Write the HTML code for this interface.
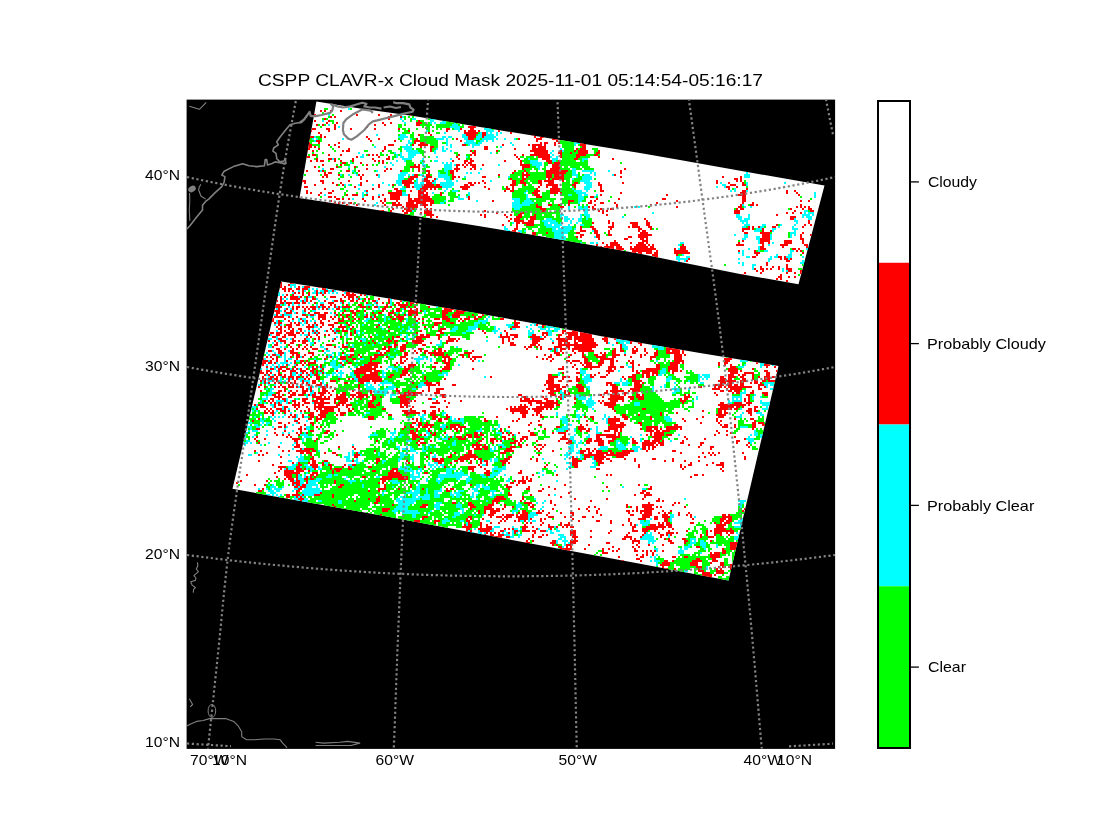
<!DOCTYPE html>
<html><head><meta charset="utf-8"><style>html,body{margin:0;padding:0;background:#fff;overflow:hidden}</style></head><body><svg width="1120" height="840" viewBox="0 0 1120 840" style="display:block">
<rect width="1120" height="840" fill="#fff"/>
<rect x="186.6" y="99.6" width="648.5" height="649.3" fill="#000"/>
<defs><clipPath id="ax"><rect x="187" y="100" width="648" height="648.5"/></clipPath><clipPath id="sw"><polygon points="316.4,101.5 360,108.5 412,115.7 480,127.1 560,140 640,152.9 680,160 750,172.5 824.5,185.5 798.5,284.3 740,274 680,262 640,253.8 560,239.5 480,226.2 400,213.5 299.5,198"/><polygon points="281.3,281.5 380,296.9 470,312 560,328 600,336.1 700,353 778.5,366 728.5,580.5 640,563.8 520,541.5 380,515.2 232.5,488.8"/></clipPath></defs>
<g clip-path="url(#sw)"><rect x="224" y="96" width="608" height="496" fill="#fff"/>
<path fill="#f00" d="M320 110h2v2h-2zM324 110h2v2h-2zM330 110h2v2h-2zM340 110h2v2h-2zM314 114h2v2h-2zM356 114h2v2h-2zM378 114h2v2h-2zM390 114h2v2h-2zM410 114h2v2h-2zM330 116h2v2h-2zM334 116h2v2h-2zM388 116h2v2h-2zM400 116h2v2h-2zM324 118h2v2h-2zM388 118h2v2h-2zM314 120h2v2h-2zM328 120h2v2h-2zM418 120h2v2h-2zM326 122h2v2h-2zM336 122h2v2h-2zM382 122h2v2h-2zM390 122h2v2h-2zM416 122h6v2h-6zM316 124h2v2h-2zM322 124h2v2h-2zM334 124h2v2h-2zM374 124h2v2h-2zM384 124h2v2h-2zM416 124h4v2h-4zM334 126h2v2h-2zM366 126h2v2h-2zM468 126h8v2h-8zM312 128h4v2h-4zM326 128h4v2h-4zM334 128h2v2h-2zM350 128h2v2h-2zM374 128h2v2h-2zM398 128h2v2h-2zM446 128h4v2h-4zM460 128h2v2h-2zM470 128h4v2h-4zM310 130h2v2h-2zM328 130h2v2h-2zM408 130h2v2h-2zM446 130h2v2h-2zM464 130h2v2h-2zM468 130h8v2h-8zM478 130h2v2h-2zM498 130h2v2h-2zM318 132h2v2h-2zM428 132h2v2h-2zM464 132h14v2h-14zM482 132h4v2h-4zM510 132h2v2h-2zM320 134h2v2h-2zM418 134h2v2h-2zM430 134h2v2h-2zM466 134h10v2h-10zM482 134h4v2h-4zM532 134h2v2h-2zM308 136h6v2h-6zM320 136h2v2h-2zM324 136h2v2h-2zM366 136h2v2h-2zM468 136h8v2h-8zM482 136h2v2h-2zM534 136h2v2h-2zM540 136h4v2h-4zM308 138h2v2h-2zM368 138h2v2h-2zM378 138h2v2h-2zM416 138h2v2h-2zM456 138h2v2h-2zM468 138h6v2h-6zM518 138h2v2h-2zM536 138h6v2h-6zM552 138h6v2h-6zM316 140h4v2h-4zM370 140h2v2h-2zM394 140h2v2h-2zM414 140h6v2h-6zM460 140h2v2h-2zM536 140h2v2h-2zM556 140h2v2h-2zM308 142h2v2h-2zM318 142h2v2h-2zM338 142h2v2h-2zM414 142h2v2h-2zM420 142h6v2h-6zM540 142h2v2h-2zM544 142h4v2h-4zM554 142h2v2h-2zM558 142h2v2h-2zM580 142h4v2h-4zM308 144h4v2h-4zM328 144h2v2h-2zM334 144h2v2h-2zM388 144h6v2h-6zM412 144h2v2h-2zM418 144h10v2h-10zM462 144h4v2h-4zM502 144h2v2h-2zM528 144h2v2h-2zM532 144h10v2h-10zM544 144h2v2h-2zM554 144h2v2h-2zM580 144h6v2h-6zM308 146h4v2h-4zM314 146h2v2h-2zM338 146h2v2h-2zM384 146h2v2h-2zM420 146h2v2h-2zM430 146h4v2h-4zM484 146h4v2h-4zM532 146h4v2h-4zM538 146h8v2h-8zM582 146h4v2h-4zM308 148h2v2h-2zM318 148h2v2h-2zM348 148h2v2h-2zM384 148h2v2h-2zM430 148h2v2h-2zM484 148h4v2h-4zM514 148h2v2h-2zM532 148h14v2h-14zM576 148h2v2h-2zM580 148h6v2h-6zM306 150h2v2h-2zM312 150h2v2h-2zM342 150h2v2h-2zM346 150h4v2h-4zM382 150h2v2h-2zM430 150h2v2h-2zM470 150h2v2h-2zM474 150h2v2h-2zM496 150h2v2h-2zM530 150h18v2h-18zM560 150h2v2h-2zM574 150h2v2h-2zM578 150h10v2h-10zM598 150h2v2h-2zM472 152h4v2h-4zM534 152h14v2h-14zM558 152h4v2h-4zM570 152h2v2h-2zM578 152h10v2h-10zM596 152h4v2h-4zM312 154h4v2h-4zM328 154h2v2h-2zM340 154h2v2h-2zM368 154h2v2h-2zM372 154h2v2h-2zM376 154h2v2h-2zM458 154h2v2h-2zM470 154h2v2h-2zM474 154h2v2h-2zM514 154h2v2h-2zM522 154h2v2h-2zM530 154h20v2h-20zM560 154h2v2h-2zM576 154h10v2h-10zM594 154h4v2h-4zM306 156h4v2h-4zM356 156h2v2h-2zM378 156h2v2h-2zM388 156h2v2h-2zM456 156h2v2h-2zM516 156h2v2h-2zM538 156h12v2h-12zM560 156h2v2h-2zM576 156h4v2h-4zM598 156h2v2h-2zM316 158h2v2h-2zM328 158h4v2h-4zM334 158h2v2h-2zM352 158h2v2h-2zM372 158h2v2h-2zM386 158h4v2h-4zM458 158h2v2h-2zM470 158h2v2h-2zM518 158h2v2h-2zM542 158h8v2h-8zM574 158h4v2h-4zM612 158h2v2h-2zM310 160h2v2h-2zM316 160h2v2h-2zM320 160h4v2h-4zM334 160h2v2h-2zM340 160h2v2h-2zM352 160h2v2h-2zM374 160h2v2h-2zM378 160h2v2h-2zM382 160h2v2h-2zM452 160h2v2h-2zM464 160h4v2h-4zM470 160h4v2h-4zM504 160h2v2h-2zM520 160h2v2h-2zM546 160h6v2h-6zM558 160h2v2h-2zM342 162h4v2h-4zM360 162h2v2h-2zM382 162h2v2h-2zM464 162h2v2h-2zM468 162h4v2h-4zM520 162h2v2h-2zM548 162h4v2h-4zM554 162h6v2h-6zM322 164h2v2h-2zM340 164h2v2h-2zM366 164h2v2h-2zM414 164h2v2h-2zM418 164h2v2h-2zM456 164h4v2h-4zM462 164h2v2h-2zM466 164h2v2h-2zM470 164h6v2h-6zM482 164h2v2h-2zM520 164h10v2h-10zM552 164h8v2h-8zM314 166h2v2h-2zM336 166h2v2h-2zM354 166h2v2h-2zM410 166h10v2h-10zM456 166h2v2h-2zM464 166h2v2h-2zM472 166h4v2h-4zM522 166h8v2h-8zM552 166h8v2h-8zM330 168h4v2h-4zM366 168h2v2h-2zM386 168h2v2h-2zM390 168h2v2h-2zM418 168h2v2h-2zM454 168h6v2h-6zM470 168h2v2h-2zM474 168h2v2h-2zM522 168h2v2h-2zM550 168h10v2h-10zM624 168h2v2h-2zM306 170h2v2h-2zM318 170h2v2h-2zM322 170h2v2h-2zM346 170h4v2h-4zM358 170h2v2h-2zM384 170h2v2h-2zM400 170h2v2h-2zM418 170h2v2h-2zM426 170h4v2h-4zM450 170h4v2h-4zM456 170h2v2h-2zM514 170h2v2h-2zM524 170h2v2h-2zM546 170h22v2h-22zM620 170h2v2h-2zM324 172h2v2h-2zM328 172h4v2h-4zM428 172h2v2h-2zM450 172h4v2h-4zM512 172h2v2h-2zM522 172h2v2h-2zM526 172h2v2h-2zM546 172h20v2h-20zM620 172h2v2h-2zM324 174h4v2h-4zM338 174h2v2h-2zM358 174h2v2h-2zM362 174h2v2h-2zM376 174h2v2h-2zM414 174h4v2h-4zM426 174h4v2h-4zM452 174h2v2h-2zM498 174h2v2h-2zM522 174h8v2h-8zM546 174h6v2h-6zM554 174h10v2h-10zM614 174h2v2h-2zM322 176h2v2h-2zM326 176h2v2h-2zM360 176h2v2h-2zM410 176h8v2h-8zM426 176h6v2h-6zM452 176h4v2h-4zM458 176h2v2h-2zM482 176h4v2h-4zM522 176h2v2h-2zM526 176h2v2h-2zM546 176h6v2h-6zM554 176h10v2h-10zM620 176h2v2h-2zM722 176h2v2h-2zM740 176h2v2h-2zM360 178h2v2h-2zM408 178h6v2h-6zM424 178h4v2h-4zM434 178h2v2h-2zM452 178h2v2h-2zM510 178h2v2h-2zM522 178h4v2h-4zM548 178h2v2h-2zM552 178h12v2h-12zM734 178h4v2h-4zM740 178h2v2h-2zM302 180h4v2h-4zM320 180h4v2h-4zM348 180h2v2h-2zM366 180h2v2h-2zM402 180h10v2h-10zM424 180h6v2h-6zM432 180h2v2h-2zM482 180h2v2h-2zM512 180h4v2h-4zM520 180h4v2h-4zM538 180h4v2h-4zM544 180h10v2h-10zM562 180h2v2h-2zM716 180h2v2h-2zM736 180h2v2h-2zM740 180h2v2h-2zM304 182h2v2h-2zM322 182h2v2h-2zM332 182h2v2h-2zM340 182h2v2h-2zM360 182h2v2h-2zM402 182h12v2h-12zM426 182h6v2h-6zM468 182h4v2h-4zM474 182h2v2h-2zM478 182h2v2h-2zM484 182h2v2h-2zM512 182h4v2h-4zM520 182h6v2h-6zM538 182h4v2h-4zM548 182h6v2h-6zM574 182h4v2h-4zM598 182h2v2h-2zM622 182h2v2h-2zM716 182h2v2h-2zM728 182h2v2h-2zM742 182h2v2h-2zM314 184h2v2h-2zM336 184h2v2h-2zM342 184h2v2h-2zM360 184h2v2h-2zM378 184h2v2h-2zM392 184h2v2h-2zM404 184h6v2h-6zM424 184h10v2h-10zM436 184h4v2h-4zM464 184h4v2h-4zM470 184h4v2h-4zM510 184h6v2h-6zM524 184h2v2h-2zM540 184h2v2h-2zM546 184h12v2h-12zM572 184h4v2h-4zM598 184h4v2h-4zM730 184h6v2h-6zM742 184h4v2h-4zM304 186h4v2h-4zM354 186h2v2h-2zM378 186h2v2h-2zM406 186h4v2h-4zM412 186h2v2h-2zM422 186h20v2h-20zM460 186h10v2h-10zM484 186h2v2h-2zM506 186h2v2h-2zM512 186h2v2h-2zM538 186h2v2h-2zM546 186h2v2h-2zM552 186h6v2h-6zM574 186h2v2h-2zM600 186h2v2h-2zM726 186h4v2h-4zM736 186h2v2h-2zM324 188h2v2h-2zM372 188h2v2h-2zM394 188h4v2h-4zM420 188h8v2h-8zM430 188h2v2h-2zM434 188h2v2h-2zM462 188h6v2h-6zM488 188h2v2h-2zM506 188h4v2h-4zM512 188h2v2h-2zM536 188h2v2h-2zM550 188h10v2h-10zM600 188h2v2h-2zM728 188h2v2h-2zM746 188h2v2h-2zM306 190h2v2h-2zM332 190h2v2h-2zM366 190h2v2h-2zM396 190h6v2h-6zM410 190h2v2h-2zM418 190h8v2h-8zM504 190h2v2h-2zM510 190h4v2h-4zM534 190h6v2h-6zM550 190h10v2h-10zM600 190h4v2h-4zM742 190h4v2h-4zM786 190h2v2h-2zM794 190h2v2h-2zM306 192h2v2h-2zM310 192h2v2h-2zM320 192h2v2h-2zM328 192h4v2h-4zM388 192h14v2h-14zM418 192h6v2h-6zM426 192h2v2h-2zM440 192h2v2h-2zM532 192h6v2h-6zM550 192h8v2h-8zM560 192h2v2h-2zM620 192h2v2h-2zM740 192h6v2h-6zM786 192h2v2h-2zM796 192h2v2h-2zM298 194h2v2h-2zM318 194h2v2h-2zM346 194h2v2h-2zM352 194h6v2h-6zM366 194h2v2h-2zM382 194h2v2h-2zM390 194h12v2h-12zM408 194h2v2h-2zM418 194h10v2h-10zM440 194h2v2h-2zM534 194h6v2h-6zM600 194h2v2h-2zM666 194h2v2h-2zM738 194h8v2h-8zM798 194h2v2h-2zM328 196h4v2h-4zM334 196h2v2h-2zM372 196h2v2h-2zM378 196h2v2h-2zM390 196h10v2h-10zM408 196h2v2h-2zM418 196h12v2h-12zM468 196h2v2h-2zM536 196h6v2h-6zM590 196h4v2h-4zM742 196h4v2h-4zM300 198h2v2h-2zM336 198h4v2h-4zM342 198h2v2h-2zM348 198h2v2h-2zM362 198h2v2h-2zM372 198h2v2h-2zM384 198h2v2h-2zM390 198h10v2h-10zM408 198h4v2h-4zM414 198h18v2h-18zM468 198h2v2h-2zM596 198h2v2h-2zM618 198h2v2h-2zM662 198h4v2h-4zM742 198h4v2h-4zM330 200h2v2h-2zM364 200h2v2h-2zM380 200h2v2h-2zM384 200h2v2h-2zM396 200h2v2h-2zM408 200h26v2h-26zM492 200h2v2h-2zM568 200h6v2h-6zM590 200h2v2h-2zM594 200h2v2h-2zM676 200h2v2h-2zM742 200h4v2h-4zM800 200h2v2h-2zM808 200h2v2h-2zM326 202h2v2h-2zM334 202h2v2h-2zM338 202h2v2h-2zM342 202h2v2h-2zM348 202h4v2h-4zM382 202h2v2h-2zM392 202h4v2h-4zM398 202h2v2h-2zM406 202h8v2h-8zM416 202h10v2h-10zM430 202h4v2h-4zM568 202h2v2h-2zM588 202h4v2h-4zM600 202h4v2h-4zM614 202h2v2h-2zM656 202h2v2h-2zM742 202h2v2h-2zM752 202h2v2h-2zM346 204h2v2h-2zM356 204h2v2h-2zM384 204h2v2h-2zM392 204h10v2h-10zM406 204h12v2h-12zM420 204h8v2h-8zM430 204h2v2h-2zM536 204h2v2h-2zM548 204h4v2h-4zM558 204h2v2h-2zM568 204h2v2h-2zM594 204h2v2h-2zM616 204h2v2h-2zM650 204h2v2h-2zM740 204h2v2h-2zM750 204h4v2h-4zM756 204h2v2h-2zM800 204h2v2h-2zM352 206h2v2h-2zM396 206h2v2h-2zM402 206h2v2h-2zM406 206h12v2h-12zM424 206h2v2h-2zM536 206h6v2h-6zM560 206h4v2h-4zM588 206h2v2h-2zM592 206h2v2h-2zM616 206h2v2h-2zM676 206h2v2h-2zM738 206h4v2h-4zM796 206h2v2h-2zM800 206h2v2h-2zM804 206h2v2h-2zM808 206h2v2h-2zM392 208h2v2h-2zM404 208h10v2h-10zM426 208h2v2h-2zM430 208h2v2h-2zM540 208h6v2h-6zM592 208h4v2h-4zM600 208h2v2h-2zM610 208h4v2h-4zM736 208h2v2h-2zM740 208h4v2h-4zM790 208h2v2h-2zM802 208h2v2h-2zM808 208h4v2h-4zM818 208h2v2h-2zM380 210h4v2h-4zM390 210h2v2h-2zM402 210h2v2h-2zM406 210h6v2h-6zM424 210h8v2h-8zM484 210h2v2h-2zM542 210h4v2h-4zM598 210h2v2h-2zM602 210h2v2h-2zM606 210h2v2h-2zM734 210h6v2h-6zM794 210h2v2h-2zM810 210h4v2h-4zM404 212h4v2h-4zM420 212h2v2h-2zM424 212h8v2h-8zM496 212h2v2h-2zM520 212h4v2h-4zM602 212h2v2h-2zM734 212h6v2h-6zM786 212h2v2h-2zM792 212h2v2h-2zM800 212h2v2h-2zM400 214h6v2h-6zM426 214h8v2h-8zM480 214h2v2h-2zM484 214h2v2h-2zM504 214h2v2h-2zM510 214h2v2h-2zM518 214h4v2h-4zM534 214h2v2h-2zM606 214h2v2h-2zM776 214h2v2h-2zM430 216h2v2h-2zM436 216h2v2h-2zM484 216h2v2h-2zM506 216h2v2h-2zM516 216h6v2h-6zM530 216h6v2h-6zM790 216h6v2h-6zM510 218h2v2h-2zM514 218h6v2h-6zM530 218h6v2h-6zM644 218h2v2h-2zM790 218h4v2h-4zM508 220h2v2h-2zM514 220h10v2h-10zM528 220h6v2h-6zM608 220h2v2h-2zM646 220h2v2h-2zM808 220h2v2h-2zM516 222h4v2h-4zM522 222h12v2h-12zM592 222h2v2h-2zM608 222h2v2h-2zM612 222h2v2h-2zM630 222h8v2h-8zM646 222h4v2h-4zM808 222h2v2h-2zM502 224h2v2h-2zM516 224h2v2h-2zM526 224h8v2h-8zM612 224h2v2h-2zM632 224h6v2h-6zM646 224h4v2h-4zM776 224h2v2h-2zM804 224h2v2h-2zM810 224h2v2h-2zM516 226h2v2h-2zM580 226h2v2h-2zM590 226h4v2h-4zM608 226h6v2h-6zM628 226h2v2h-2zM632 226h8v2h-8zM648 226h4v2h-4zM748 226h2v2h-2zM752 226h2v2h-2zM758 226h2v2h-2zM772 226h4v2h-4zM802 226h2v2h-2zM514 228h4v2h-4zM580 228h2v2h-2zM592 228h4v2h-4zM610 228h2v2h-2zM638 228h4v2h-4zM650 228h2v2h-2zM742 228h8v2h-8zM752 228h2v2h-2zM762 228h2v2h-2zM512 230h4v2h-4zM580 230h6v2h-6zM594 230h4v2h-4zM608 230h2v2h-2zM638 230h2v2h-2zM642 230h4v2h-4zM742 230h2v2h-2zM762 230h2v2h-2zM770 230h2v2h-2zM518 232h2v2h-2zM532 232h4v2h-4zM546 232h2v2h-2zM576 232h4v2h-4zM594 232h4v2h-4zM608 232h2v2h-2zM640 232h8v2h-8zM744 232h4v2h-4zM760 232h10v2h-10zM802 232h2v2h-2zM532 234h4v2h-4zM580 234h4v2h-4zM596 234h4v2h-4zM608 234h4v2h-4zM638 234h14v2h-14zM762 234h8v2h-8zM800 234h2v2h-2zM810 234h2v2h-2zM576 236h2v2h-2zM580 236h2v2h-2zM596 236h4v2h-4zM628 236h4v2h-4zM638 236h10v2h-10zM762 236h8v2h-8zM800 236h2v2h-2zM598 238h2v2h-2zM624 238h4v2h-4zM640 238h4v2h-4zM646 238h2v2h-2zM760 238h10v2h-10zM800 238h4v2h-4zM614 240h2v2h-2zM642 240h6v2h-6zM742 240h2v2h-2zM760 240h10v2h-10zM784 240h8v2h-8zM802 240h2v2h-2zM602 242h2v2h-2zM610 242h8v2h-8zM630 242h2v2h-2zM638 242h6v2h-6zM646 242h2v2h-2zM738 242h2v2h-2zM760 242h4v2h-4zM768 242h2v2h-2zM784 242h8v2h-8zM802 242h2v2h-2zM596 244h2v2h-2zM606 244h2v2h-2zM610 244h10v2h-10zM636 244h10v2h-10zM648 244h2v2h-2zM652 244h2v2h-2zM682 244h2v2h-2zM736 244h8v2h-8zM762 244h2v2h-2zM780 244h8v2h-8zM804 244h4v2h-4zM600 246h2v2h-2zM604 246h10v2h-10zM616 246h6v2h-6zM630 246h2v2h-2zM634 246h14v2h-14zM650 246h4v2h-4zM680 246h6v2h-6zM760 246h4v2h-4zM782 246h2v2h-2zM806 246h2v2h-2zM606 248h2v2h-2zM610 248h4v2h-4zM616 248h8v2h-8zM630 248h26v2h-26zM674 248h2v2h-2zM680 248h6v2h-6zM760 248h6v2h-6zM792 248h4v2h-4zM798 248h2v2h-2zM616 250h6v2h-6zM632 250h20v2h-20zM656 250h2v2h-2zM674 250h14v2h-14zM738 250h2v2h-2zM754 250h2v2h-2zM796 250h2v2h-2zM800 250h2v2h-2zM630 252h6v2h-6zM638 252h4v2h-4zM646 252h6v2h-6zM654 252h4v2h-4zM674 252h16v2h-16zM754 252h6v2h-6zM802 252h2v2h-2zM652 254h6v2h-6zM676 254h2v2h-2zM756 254h2v2h-2zM650 256h2v2h-2zM654 256h4v2h-4zM752 256h4v2h-4zM778 256h4v2h-4zM784 256h2v2h-2zM688 258h2v2h-2zM780 258h2v2h-2zM784 258h4v2h-4zM790 258h2v2h-2zM686 260h2v2h-2zM786 260h4v2h-4zM766 262h2v2h-2zM766 264h2v2h-2zM786 264h2v2h-2zM804 264h2v2h-2zM760 266h2v2h-2zM772 266h2v2h-2zM778 266h2v2h-2zM786 266h2v2h-2zM754 268h2v2h-2zM760 268h4v2h-4zM766 268h2v2h-2zM770 268h2v2h-2zM778 268h2v2h-2zM786 268h6v2h-6zM756 270h2v2h-2zM762 270h2v2h-2zM788 270h4v2h-4zM800 270h2v2h-2zM744 272h2v2h-2zM760 272h2v2h-2zM786 272h2v2h-2zM794 272h2v2h-2zM800 272h2v2h-2zM738 274h2v2h-2zM742 274h2v2h-2zM780 274h2v2h-2zM778 276h4v2h-4zM788 276h2v2h-2zM794 276h2v2h-2zM776 278h2v2h-2zM780 278h2v2h-2zM284 280h4v2h-4zM786 280h2v2h-2zM280 282h2v2h-2zM290 282h4v2h-4zM278 284h4v2h-4zM288 284h2v2h-2zM310 284h2v2h-2zM278 286h4v2h-4zM284 286h2v2h-2zM298 286h2v2h-2zM304 286h6v2h-6zM318 286h4v2h-4zM282 288h4v2h-4zM288 288h4v2h-4zM296 288h4v2h-4zM302 288h6v2h-6zM322 288h4v2h-4zM336 288h2v2h-2zM284 290h2v2h-2zM288 290h2v2h-2zM292 290h2v2h-2zM302 290h2v2h-2zM316 290h2v2h-2zM324 290h4v2h-4zM332 290h2v2h-2zM342 290h2v2h-2zM294 292h2v2h-2zM298 292h2v2h-2zM302 292h2v2h-2zM308 292h2v2h-2zM316 292h2v2h-2zM320 292h2v2h-2zM324 292h2v2h-2zM346 292h4v2h-4zM352 292h2v2h-2zM358 292h4v2h-4zM286 294h2v2h-2zM292 294h2v2h-2zM302 294h2v2h-2zM308 294h2v2h-2zM316 294h2v2h-2zM322 294h2v2h-2zM342 294h2v2h-2zM346 294h10v2h-10zM360 294h2v2h-2zM364 294h2v2h-2zM374 294h4v2h-4zM276 296h2v2h-2zM280 296h2v2h-2zM284 296h2v2h-2zM290 296h8v2h-8zM300 296h2v2h-2zM306 296h2v2h-2zM312 296h2v2h-2zM330 296h6v2h-6zM344 296h2v2h-2zM348 296h6v2h-6zM356 296h2v2h-2zM280 298h2v2h-2zM290 298h10v2h-10zM306 298h2v2h-2zM312 298h4v2h-4zM340 298h2v2h-2zM348 298h2v2h-2zM352 298h2v2h-2zM358 298h2v2h-2zM364 298h2v2h-2zM368 298h2v2h-2zM378 298h2v2h-2zM388 298h2v2h-2zM394 298h2v2h-2zM276 300h2v2h-2zM280 300h2v2h-2zM284 300h2v2h-2zM296 300h2v2h-2zM302 300h2v2h-2zM306 300h2v2h-2zM310 300h2v2h-2zM324 300h2v2h-2zM334 300h4v2h-4zM340 300h4v2h-4zM350 300h4v2h-4zM356 300h2v2h-2zM362 300h2v2h-2zM372 300h4v2h-4zM388 300h2v2h-2zM400 300h2v2h-2zM274 302h2v2h-2zM280 302h4v2h-4zM286 302h6v2h-6zM294 302h6v2h-6zM302 302h4v2h-4zM314 302h2v2h-2zM328 302h6v2h-6zM342 302h2v2h-2zM366 302h2v2h-2zM376 302h2v2h-2zM382 302h2v2h-2zM388 302h2v2h-2zM396 302h4v2h-4zM406 302h2v2h-2zM410 302h4v2h-4zM416 302h2v2h-2zM276 304h4v2h-4zM288 304h2v2h-2zM320 304h4v2h-4zM330 304h2v2h-2zM334 304h2v2h-2zM346 304h2v2h-2zM358 304h4v2h-4zM386 304h2v2h-2zM394 304h2v2h-2zM398 304h10v2h-10zM410 304h2v2h-2zM274 306h8v2h-8zM292 306h2v2h-2zM296 306h4v2h-4zM302 306h2v2h-2zM306 306h2v2h-2zM310 306h6v2h-6zM318 306h2v2h-2zM322 306h4v2h-4zM328 306h2v2h-2zM334 306h2v2h-2zM338 306h2v2h-2zM342 306h8v2h-8zM360 306h6v2h-6zM368 306h2v2h-2zM374 306h4v2h-4zM384 306h4v2h-4zM390 306h2v2h-2zM400 306h6v2h-6zM408 306h2v2h-2zM414 306h2v2h-2zM428 306h2v2h-2zM442 306h6v2h-6zM278 308h2v2h-2zM286 308h2v2h-2zM292 308h2v2h-2zM296 308h2v2h-2zM304 308h2v2h-2zM308 308h2v2h-2zM312 308h4v2h-4zM322 308h2v2h-2zM326 308h2v2h-2zM336 308h4v2h-4zM382 308h4v2h-4zM396 308h4v2h-4zM404 308h2v2h-2zM410 308h2v2h-2zM416 308h2v2h-2zM444 308h10v2h-10zM458 308h2v2h-2zM272 310h8v2h-8zM284 310h2v2h-2zM290 310h2v2h-2zM304 310h2v2h-2zM344 310h2v2h-2zM350 310h4v2h-4zM356 310h4v2h-4zM364 310h2v2h-2zM382 310h2v2h-2zM392 310h2v2h-2zM396 310h4v2h-4zM408 310h10v2h-10zM420 310h2v2h-2zM442 310h10v2h-10zM456 310h10v2h-10zM470 310h2v2h-2zM276 312h4v2h-4zM286 312h6v2h-6zM296 312h2v2h-2zM308 312h2v2h-2zM314 312h6v2h-6zM324 312h4v2h-4zM334 312h2v2h-2zM342 312h2v2h-2zM352 312h4v2h-4zM372 312h2v2h-2zM378 312h4v2h-4zM388 312h6v2h-6zM408 312h10v2h-10zM442 312h6v2h-6zM454 312h10v2h-10zM478 312h6v2h-6zM276 314h2v2h-2zM282 314h2v2h-2zM302 314h4v2h-4zM310 314h4v2h-4zM318 314h8v2h-8zM336 314h2v2h-2zM340 314h2v2h-2zM346 314h4v2h-4zM354 314h2v2h-2zM366 314h2v2h-2zM374 314h2v2h-2zM388 314h2v2h-2zM394 314h2v2h-2zM398 314h2v2h-2zM404 314h2v2h-2zM408 314h4v2h-4zM416 314h2v2h-2zM442 314h4v2h-4zM452 314h8v2h-8zM472 314h2v2h-2zM482 314h2v2h-2zM274 316h10v2h-10zM288 316h2v2h-2zM296 316h2v2h-2zM306 316h2v2h-2zM318 316h8v2h-8zM330 316h2v2h-2zM334 316h2v2h-2zM342 316h2v2h-2zM346 316h2v2h-2zM352 316h2v2h-2zM364 316h4v2h-4zM370 316h2v2h-2zM374 316h2v2h-2zM390 316h2v2h-2zM396 316h8v2h-8zM414 316h2v2h-2zM442 316h6v2h-6zM452 316h8v2h-8zM468 316h2v2h-2zM474 316h2v2h-2zM478 316h4v2h-4zM272 318h2v2h-2zM284 318h2v2h-2zM292 318h2v2h-2zM300 318h2v2h-2zM318 318h2v2h-2zM322 318h4v2h-4zM332 318h2v2h-2zM338 318h2v2h-2zM342 318h2v2h-2zM348 318h2v2h-2zM354 318h2v2h-2zM358 318h2v2h-2zM372 318h2v2h-2zM376 318h2v2h-2zM392 318h4v2h-4zM398 318h6v2h-6zM418 318h2v2h-2zM422 318h2v2h-2zM434 318h6v2h-6zM442 318h8v2h-8zM460 318h2v2h-2zM464 318h6v2h-6zM474 318h4v2h-4zM500 318h4v2h-4zM272 320h2v2h-2zM278 320h2v2h-2zM288 320h2v2h-2zM302 320h2v2h-2zM306 320h2v2h-2zM320 320h2v2h-2zM328 320h2v2h-2zM338 320h6v2h-6zM352 320h2v2h-2zM400 320h2v2h-2zM416 320h2v2h-2zM446 320h4v2h-4zM458 320h2v2h-2zM462 320h2v2h-2zM514 320h2v2h-2zM274 322h2v2h-2zM278 322h4v2h-4zM290 322h2v2h-2zM294 322h2v2h-2zM298 322h2v2h-2zM306 322h2v2h-2zM314 322h2v2h-2zM320 322h4v2h-4zM334 322h4v2h-4zM346 322h2v2h-2zM422 322h2v2h-2zM434 322h8v2h-8zM450 322h4v2h-4zM514 322h6v2h-6zM538 322h2v2h-2zM278 324h2v2h-2zM286 324h6v2h-6zM296 324h4v2h-4zM308 324h2v2h-2zM312 324h2v2h-2zM316 324h2v2h-2zM322 324h2v2h-2zM328 324h6v2h-6zM340 324h2v2h-2zM348 324h2v2h-2zM378 324h2v2h-2zM434 324h4v2h-4zM514 324h4v2h-4zM536 324h2v2h-2zM542 324h4v2h-4zM276 326h2v2h-2zM280 326h2v2h-2zM284 326h2v2h-2zM288 326h4v2h-4zM306 326h8v2h-8zM320 326h2v2h-2zM332 326h2v2h-2zM338 326h8v2h-8zM352 326h2v2h-2zM376 326h2v2h-2zM388 326h2v2h-2zM424 326h2v2h-2zM432 326h2v2h-2zM512 326h8v2h-8zM542 326h2v2h-2zM278 328h4v2h-4zM288 328h2v2h-2zM292 328h2v2h-2zM298 328h4v2h-4zM308 328h2v2h-2zM330 328h2v2h-2zM342 328h2v2h-2zM350 328h2v2h-2zM440 328h6v2h-6zM478 328h2v2h-2zM510 328h2v2h-2zM280 330h2v2h-2zM284 330h2v2h-2zM290 330h4v2h-4zM300 330h2v2h-2zM312 330h2v2h-2zM316 330h2v2h-2zM326 330h2v2h-2zM332 330h2v2h-2zM336 330h4v2h-4zM342 330h6v2h-6zM354 330h2v2h-2zM388 330h2v2h-2zM420 330h2v2h-2zM438 330h4v2h-4zM482 330h2v2h-2zM504 330h2v2h-2zM562 330h4v2h-4zM572 330h6v2h-6zM580 330h2v2h-2zM270 332h4v2h-4zM276 332h6v2h-6zM286 332h8v2h-8zM296 332h4v2h-4zM302 332h2v2h-2zM308 332h2v2h-2zM314 332h2v2h-2zM318 332h2v2h-2zM334 332h2v2h-2zM350 332h2v2h-2zM354 332h2v2h-2zM416 332h2v2h-2zM440 332h4v2h-4zM484 332h2v2h-2zM506 332h2v2h-2zM542 332h6v2h-6zM562 332h2v2h-2zM566 332h12v2h-12zM580 332h10v2h-10zM268 334h2v2h-2zM276 334h4v2h-4zM284 334h2v2h-2zM288 334h8v2h-8zM308 334h2v2h-2zM316 334h2v2h-2zM324 334h2v2h-2zM328 334h2v2h-2zM350 334h2v2h-2zM420 334h4v2h-4zM426 334h4v2h-4zM436 334h4v2h-4zM500 334h2v2h-2zM506 334h2v2h-2zM510 334h8v2h-8zM532 334h4v2h-4zM542 334h2v2h-2zM546 334h2v2h-2zM558 334h4v2h-4zM568 334h10v2h-10zM580 334h12v2h-12zM272 336h4v2h-4zM282 336h4v2h-4zM294 336h2v2h-2zM306 336h2v2h-2zM310 336h2v2h-2zM318 336h2v2h-2zM340 336h2v2h-2zM370 336h2v2h-2zM392 336h2v2h-2zM396 336h4v2h-4zM416 336h14v2h-14zM438 336h2v2h-2zM448 336h2v2h-2zM500 336h10v2h-10zM514 336h4v2h-4zM530 336h10v2h-10zM544 336h2v2h-2zM558 336h2v2h-2zM566 336h6v2h-6zM574 336h18v2h-18zM604 336h4v2h-4zM278 338h4v2h-4zM292 338h2v2h-2zM304 338h2v2h-2zM314 338h2v2h-2zM318 338h2v2h-2zM334 338h2v2h-2zM350 338h2v2h-2zM388 338h2v2h-2zM392 338h2v2h-2zM402 338h2v2h-2zM416 338h6v2h-6zM438 338h2v2h-2zM448 338h8v2h-8zM458 338h2v2h-2zM502 338h2v2h-2zM508 338h2v2h-2zM512 338h2v2h-2zM532 338h12v2h-12zM556 338h16v2h-16zM574 338h20v2h-20zM602 338h6v2h-6zM614 338h2v2h-2zM622 338h4v2h-4zM268 340h2v2h-2zM274 340h2v2h-2zM280 340h6v2h-6zM292 340h4v2h-4zM298 340h2v2h-2zM302 340h6v2h-6zM332 340h2v2h-2zM360 340h2v2h-2zM372 340h2v2h-2zM386 340h6v2h-6zM394 340h4v2h-4zM412 340h12v2h-12zM446 340h8v2h-8zM456 340h2v2h-2zM502 340h2v2h-2zM508 340h2v2h-2zM532 340h8v2h-8zM558 340h10v2h-10zM574 340h2v2h-2zM578 340h16v2h-16zM604 340h4v2h-4zM630 340h4v2h-4zM636 340h2v2h-2zM276 342h2v2h-2zM284 342h2v2h-2zM290 342h4v2h-4zM302 342h4v2h-4zM314 342h2v2h-2zM346 342h2v2h-2zM368 342h2v2h-2zM374 342h2v2h-2zM388 342h2v2h-2zM394 342h2v2h-2zM406 342h2v2h-2zM412 342h10v2h-10zM430 342h2v2h-2zM446 342h2v2h-2zM502 342h2v2h-2zM510 342h4v2h-4zM532 342h6v2h-6zM552 342h2v2h-2zM558 342h4v2h-4zM564 342h6v2h-6zM574 342h4v2h-4zM582 342h14v2h-14zM606 342h2v2h-2zM616 342h2v2h-2zM630 342h2v2h-2zM638 342h4v2h-4zM274 344h4v2h-4zM288 344h2v2h-2zM298 344h2v2h-2zM306 344h2v2h-2zM326 344h6v2h-6zM342 344h2v2h-2zM394 344h4v2h-4zM402 344h4v2h-4zM422 344h4v2h-4zM510 344h6v2h-6zM530 344h6v2h-6zM538 344h2v2h-2zM558 344h40v2h-40zM620 344h2v2h-2zM640 344h2v2h-2zM272 346h2v2h-2zM290 346h2v2h-2zM298 346h2v2h-2zM304 346h2v2h-2zM310 346h2v2h-2zM334 346h2v2h-2zM342 346h6v2h-6zM384 346h2v2h-2zM388 346h4v2h-4zM394 346h2v2h-2zM400 346h6v2h-6zM524 346h2v2h-2zM528 346h4v2h-4zM536 346h2v2h-2zM540 346h2v2h-2zM554 346h8v2h-8zM566 346h4v2h-4zM574 346h22v2h-22zM620 346h2v2h-2zM634 346h2v2h-2zM666 346h8v2h-8zM276 348h4v2h-4zM284 348h2v2h-2zM292 348h2v2h-2zM296 348h2v2h-2zM302 348h2v2h-2zM306 348h2v2h-2zM312 348h6v2h-6zM326 348h2v2h-2zM350 348h4v2h-4zM382 348h4v2h-4zM388 348h2v2h-2zM400 348h6v2h-6zM418 348h4v2h-4zM438 348h4v2h-4zM526 348h2v2h-2zM540 348h2v2h-2zM548 348h4v2h-4zM554 348h2v2h-2zM560 348h6v2h-6zM568 348h2v2h-2zM572 348h20v2h-20zM614 348h2v2h-2zM620 348h2v2h-2zM632 348h2v2h-2zM636 348h2v2h-2zM644 348h2v2h-2zM666 348h14v2h-14zM268 350h4v2h-4zM278 350h4v2h-4zM290 350h4v2h-4zM322 350h2v2h-2zM350 350h4v2h-4zM376 350h4v2h-4zM386 350h4v2h-4zM400 350h4v2h-4zM414 350h2v2h-2zM420 350h2v2h-2zM424 350h4v2h-4zM434 350h2v2h-2zM438 350h4v2h-4zM444 350h2v2h-2zM472 350h2v2h-2zM554 350h2v2h-2zM560 350h2v2h-2zM572 350h2v2h-2zM578 350h16v2h-16zM612 350h4v2h-4zM620 350h4v2h-4zM632 350h6v2h-6zM644 350h2v2h-2zM656 350h2v2h-2zM666 350h4v2h-4zM672 350h8v2h-8zM682 350h2v2h-2zM278 352h6v2h-6zM290 352h8v2h-8zM308 352h6v2h-6zM342 352h2v2h-2zM380 352h2v2h-2zM384 352h2v2h-2zM404 352h4v2h-4zM412 352h2v2h-2zM416 352h2v2h-2zM424 352h2v2h-2zM428 352h16v2h-16zM464 352h8v2h-8zM554 352h6v2h-6zM562 352h2v2h-2zM574 352h2v2h-2zM582 352h2v2h-2zM600 352h2v2h-2zM604 352h2v2h-2zM612 352h4v2h-4zM632 352h4v2h-4zM646 352h2v2h-2zM654 352h4v2h-4zM666 352h14v2h-14zM682 352h2v2h-2zM272 354h4v2h-4zM280 354h2v2h-2zM292 354h2v2h-2zM296 354h4v2h-4zM304 354h2v2h-2zM312 354h2v2h-2zM350 354h4v2h-4zM358 354h2v2h-2zM374 354h10v2h-10zM404 354h4v2h-4zM430 354h2v2h-2zM434 354h10v2h-10zM446 354h2v2h-2zM460 354h4v2h-4zM468 354h2v2h-2zM544 354h2v2h-2zM550 354h2v2h-2zM556 354h4v2h-4zM570 354h2v2h-2zM582 354h2v2h-2zM594 354h4v2h-4zM602 354h4v2h-4zM612 354h8v2h-8zM624 354h2v2h-2zM640 354h2v2h-2zM644 354h2v2h-2zM654 354h4v2h-4zM674 354h8v2h-8zM684 354h2v2h-2zM266 356h2v2h-2zM270 356h2v2h-2zM276 356h2v2h-2zM290 356h2v2h-2zM296 356h4v2h-4zM302 356h2v2h-2zM310 356h2v2h-2zM326 356h2v2h-2zM330 356h2v2h-2zM340 356h6v2h-6zM348 356h4v2h-4zM360 356h2v2h-2zM370 356h2v2h-2zM374 356h4v2h-4zM386 356h2v2h-2zM400 356h6v2h-6zM442 356h8v2h-8zM462 356h2v2h-2zM468 356h2v2h-2zM472 356h10v2h-10zM536 356h2v2h-2zM548 356h4v2h-4zM568 356h2v2h-2zM582 356h4v2h-4zM596 356h10v2h-10zM612 356h4v2h-4zM630 356h2v2h-2zM640 356h2v2h-2zM650 356h6v2h-6zM674 356h8v2h-8zM728 356h6v2h-6zM262 358h2v2h-2zM272 358h2v2h-2zM276 358h2v2h-2zM296 358h2v2h-2zM324 358h2v2h-2zM340 358h6v2h-6zM352 358h4v2h-4zM370 358h6v2h-6zM400 358h2v2h-2zM406 358h2v2h-2zM444 358h2v2h-2zM448 358h4v2h-4zM470 358h2v2h-2zM474 358h2v2h-2zM542 358h2v2h-2zM546 358h2v2h-2zM552 358h2v2h-2zM584 358h4v2h-4zM600 358h14v2h-14zM650 358h2v2h-2zM674 358h8v2h-8zM724 358h8v2h-8zM262 360h6v2h-6zM270 360h2v2h-2zM276 360h2v2h-2zM286 360h2v2h-2zM294 360h2v2h-2zM300 360h4v2h-4zM306 360h2v2h-2zM314 360h2v2h-2zM346 360h2v2h-2zM370 360h2v2h-2zM400 360h2v2h-2zM404 360h2v2h-2zM442 360h4v2h-4zM448 360h2v2h-2zM472 360h2v2h-2zM550 360h2v2h-2zM566 360h4v2h-4zM572 360h8v2h-8zM584 360h4v2h-4zM600 360h4v2h-4zM610 360h4v2h-4zM616 360h2v2h-2zM628 360h2v2h-2zM632 360h2v2h-2zM674 360h10v2h-10zM724 360h6v2h-6zM754 360h2v2h-2zM262 362h4v2h-4zM268 362h4v2h-4zM274 362h2v2h-2zM294 362h2v2h-2zM300 362h2v2h-2zM304 362h2v2h-2zM308 362h8v2h-8zM340 362h2v2h-2zM348 362h4v2h-4zM368 362h12v2h-12zM396 362h2v2h-2zM400 362h4v2h-4zM434 362h4v2h-4zM444 362h6v2h-6zM570 362h2v2h-2zM580 362h2v2h-2zM584 362h8v2h-8zM598 362h6v2h-6zM610 362h4v2h-4zM630 362h4v2h-4zM670 362h10v2h-10zM682 362h2v2h-2zM718 362h2v2h-2zM724 362h4v2h-4zM756 362h2v2h-2zM766 362h4v2h-4zM262 364h2v2h-2zM286 364h2v2h-2zM296 364h2v2h-2zM302 364h2v2h-2zM308 364h2v2h-2zM320 364h2v2h-2zM342 364h2v2h-2zM364 364h14v2h-14zM394 364h2v2h-2zM408 364h8v2h-8zM446 364h4v2h-4zM574 364h2v2h-2zM582 364h2v2h-2zM586 364h6v2h-6zM598 364h4v2h-4zM610 364h4v2h-4zM632 364h2v2h-2zM638 364h2v2h-2zM656 364h4v2h-4zM670 364h8v2h-8zM718 364h2v2h-2zM724 364h2v2h-2zM730 364h2v2h-2zM764 364h6v2h-6zM776 364h2v2h-2zM266 366h2v2h-2zM276 366h2v2h-2zM280 366h6v2h-6zM294 366h2v2h-2zM312 366h2v2h-2zM316 366h2v2h-2zM320 366h2v2h-2zM360 366h12v2h-12zM374 366h4v2h-4zM380 366h2v2h-2zM404 366h2v2h-2zM408 366h6v2h-6zM432 366h4v2h-4zM444 366h6v2h-6zM562 366h2v2h-2zM572 366h2v2h-2zM584 366h16v2h-16zM608 366h8v2h-8zM620 366h4v2h-4zM632 366h2v2h-2zM656 366h4v2h-4zM668 366h10v2h-10zM730 366h6v2h-6zM766 366h2v2h-2zM774 366h2v2h-2zM270 368h4v2h-4zM278 368h4v2h-4zM286 368h4v2h-4zM292 368h2v2h-2zM296 368h2v2h-2zM300 368h2v2h-2zM306 368h2v2h-2zM312 368h4v2h-4zM322 368h2v2h-2zM356 368h20v2h-20zM404 368h6v2h-6zM442 368h8v2h-8zM472 368h2v2h-2zM558 368h6v2h-6zM576 368h2v2h-2zM590 368h2v2h-2zM608 368h4v2h-4zM614 368h2v2h-2zM632 368h2v2h-2zM646 368h14v2h-14zM668 368h10v2h-10zM728 368h10v2h-10zM752 368h2v2h-2zM260 370h2v2h-2zM266 370h4v2h-4zM278 370h2v2h-2zM282 370h4v2h-4zM290 370h6v2h-6zM300 370h6v2h-6zM310 370h4v2h-4zM316 370h2v2h-2zM320 370h2v2h-2zM336 370h2v2h-2zM354 370h18v2h-18zM374 370h6v2h-6zM402 370h6v2h-6zM440 370h2v2h-2zM606 370h8v2h-8zM632 370h2v2h-2zM636 370h2v2h-2zM642 370h16v2h-16zM668 370h2v2h-2zM672 370h6v2h-6zM680 370h2v2h-2zM728 370h10v2h-10zM740 370h2v2h-2zM764 370h4v2h-4zM776 370h2v2h-2zM260 372h4v2h-4zM266 372h2v2h-2zM270 372h2v2h-2zM278 372h2v2h-2zM290 372h2v2h-2zM296 372h2v2h-2zM302 372h2v2h-2zM306 372h2v2h-2zM312 372h2v2h-2zM316 372h2v2h-2zM322 372h2v2h-2zM354 372h12v2h-12zM370 372h8v2h-8zM402 372h6v2h-6zM562 372h2v2h-2zM576 372h4v2h-4zM598 372h2v2h-2zM608 372h2v2h-2zM636 372h4v2h-4zM642 372h8v2h-8zM652 372h6v2h-6zM672 372h2v2h-2zM730 372h8v2h-8zM744 372h10v2h-10zM766 372h4v2h-4zM264 374h2v2h-2zM268 374h2v2h-2zM274 374h2v2h-2zM278 374h4v2h-4zM284 374h2v2h-2zM290 374h2v2h-2zM300 374h2v2h-2zM308 374h2v2h-2zM314 374h4v2h-4zM356 374h4v2h-4zM364 374h14v2h-14zM390 374h4v2h-4zM400 374h6v2h-6zM408 374h2v2h-2zM548 374h4v2h-4zM590 374h2v2h-2zM594 374h2v2h-2zM606 374h2v2h-2zM632 374h4v2h-4zM642 374h2v2h-2zM646 374h4v2h-4zM652 374h2v2h-2zM656 374h2v2h-2zM728 374h6v2h-6zM738 374h2v2h-2zM742 374h4v2h-4zM752 374h2v2h-2zM766 374h4v2h-4zM776 374h2v2h-2zM262 376h2v2h-2zM270 376h4v2h-4zM276 376h2v2h-2zM282 376h4v2h-4zM288 376h6v2h-6zM296 376h4v2h-4zM302 376h2v2h-2zM306 376h2v2h-2zM316 376h4v2h-4zM356 376h4v2h-4zM362 376h18v2h-18zM388 376h4v2h-4zM400 376h2v2h-2zM424 376h2v2h-2zM490 376h2v2h-2zM548 376h10v2h-10zM562 376h4v2h-4zM568 376h2v2h-2zM576 376h2v2h-2zM590 376h4v2h-4zM600 376h6v2h-6zM622 376h2v2h-2zM628 376h8v2h-8zM642 376h2v2h-2zM646 376h4v2h-4zM720 376h4v2h-4zM728 376h8v2h-8zM740 376h4v2h-4zM752 376h2v2h-2zM758 376h2v2h-2zM764 376h6v2h-6zM772 376h6v2h-6zM262 378h4v2h-4zM268 378h4v2h-4zM274 378h4v2h-4zM288 378h2v2h-2zM292 378h2v2h-2zM296 378h2v2h-2zM304 378h2v2h-2zM308 378h2v2h-2zM316 378h4v2h-4zM338 378h2v2h-2zM348 378h2v2h-2zM352 378h2v2h-2zM358 378h24v2h-24zM424 378h2v2h-2zM444 378h2v2h-2zM548 378h6v2h-6zM562 378h2v2h-2zM576 378h4v2h-4zM624 378h2v2h-2zM632 378h4v2h-4zM720 378h6v2h-6zM728 378h4v2h-4zM742 378h4v2h-4zM752 378h2v2h-2zM764 378h6v2h-6zM776 378h2v2h-2zM260 380h2v2h-2zM264 380h2v2h-2zM272 380h2v2h-2zM276 380h2v2h-2zM288 380h2v2h-2zM294 380h2v2h-2zM302 380h2v2h-2zM312 380h4v2h-4zM330 380h6v2h-6zM358 380h12v2h-12zM372 380h10v2h-10zM426 380h2v2h-2zM546 380h8v2h-8zM558 380h4v2h-4zM568 380h4v2h-4zM576 380h4v2h-4zM632 380h10v2h-10zM718 380h18v2h-18zM740 380h8v2h-8zM754 380h4v2h-4zM762 380h4v2h-4zM768 380h8v2h-8zM264 382h2v2h-2zM268 382h2v2h-2zM274 382h2v2h-2zM278 382h2v2h-2zM286 382h2v2h-2zM290 382h2v2h-2zM294 382h2v2h-2zM302 382h2v2h-2zM306 382h2v2h-2zM312 382h4v2h-4zM320 382h2v2h-2zM344 382h4v2h-4zM360 382h4v2h-4zM374 382h2v2h-2zM412 382h2v2h-2zM424 382h8v2h-8zM436 382h4v2h-4zM546 382h8v2h-8zM606 382h6v2h-6zM634 382h6v2h-6zM642 382h2v2h-2zM720 382h6v2h-6zM728 382h4v2h-4zM740 382h4v2h-4zM750 382h2v2h-2zM754 382h4v2h-4zM760 382h2v2h-2zM260 384h2v2h-2zM280 384h2v2h-2zM288 384h2v2h-2zM292 384h2v2h-2zM300 384h2v2h-2zM308 384h2v2h-2zM316 384h6v2h-6zM326 384h2v2h-2zM358 384h2v2h-2zM426 384h10v2h-10zM438 384h2v2h-2zM452 384h4v2h-4zM544 384h2v2h-2zM548 384h12v2h-12zM566 384h2v2h-2zM576 384h6v2h-6zM606 384h2v2h-2zM610 384h6v2h-6zM634 384h8v2h-8zM714 384h10v2h-10zM726 384h6v2h-6zM734 384h4v2h-4zM740 384h4v2h-4zM758 384h6v2h-6zM258 386h2v2h-2zM264 386h2v2h-2zM274 386h2v2h-2zM278 386h2v2h-2zM282 386h4v2h-4zM288 386h6v2h-6zM296 386h2v2h-2zM300 386h4v2h-4zM310 386h2v2h-2zM322 386h6v2h-6zM330 386h2v2h-2zM358 386h2v2h-2zM416 386h2v2h-2zM428 386h2v2h-2zM548 386h12v2h-12zM562 386h4v2h-4zM576 386h8v2h-8zM612 386h6v2h-6zM634 386h8v2h-8zM698 386h4v2h-4zM714 386h2v2h-2zM718 386h4v2h-4zM724 386h2v2h-2zM728 386h24v2h-24zM758 386h2v2h-2zM764 386h2v2h-2zM284 388h2v2h-2zM302 388h2v2h-2zM306 388h2v2h-2zM310 388h2v2h-2zM322 388h4v2h-4zM334 388h2v2h-2zM358 388h2v2h-2zM396 388h2v2h-2zM428 388h2v2h-2zM436 388h8v2h-8zM546 388h8v2h-8zM556 388h6v2h-6zM578 388h6v2h-6zM612 388h6v2h-6zM630 388h10v2h-10zM712 388h8v2h-8zM726 388h2v2h-2zM730 388h12v2h-12zM758 388h4v2h-4zM260 390h2v2h-2zM278 390h4v2h-4zM284 390h2v2h-2zM290 390h2v2h-2zM296 390h2v2h-2zM302 390h6v2h-6zM310 390h2v2h-2zM322 390h6v2h-6zM332 390h2v2h-2zM352 390h2v2h-2zM358 390h2v2h-2zM370 390h2v2h-2zM396 390h4v2h-4zM408 390h2v2h-2zM422 390h2v2h-2zM428 390h2v2h-2zM436 390h4v2h-4zM542 390h2v2h-2zM550 390h10v2h-10zM564 390h2v2h-2zM578 390h6v2h-6zM606 390h2v2h-2zM610 390h14v2h-14zM628 390h2v2h-2zM632 390h8v2h-8zM720 390h4v2h-4zM728 390h4v2h-4zM734 390h6v2h-6zM752 390h2v2h-2zM276 392h4v2h-4zM288 392h2v2h-2zM292 392h4v2h-4zM302 392h4v2h-4zM314 392h2v2h-2zM318 392h8v2h-8zM328 392h2v2h-2zM342 392h4v2h-4zM356 392h6v2h-6zM370 392h2v2h-2zM398 392h2v2h-2zM404 392h18v2h-18zM434 392h6v2h-6zM548 392h6v2h-6zM564 392h2v2h-2zM568 392h2v2h-2zM604 392h4v2h-4zM612 392h6v2h-6zM624 392h4v2h-4zM632 392h2v2h-2zM636 392h2v2h-2zM714 392h2v2h-2zM732 392h2v2h-2zM736 392h4v2h-4zM750 392h4v2h-4zM762 392h6v2h-6zM272 394h4v2h-4zM278 394h2v2h-2zM282 394h2v2h-2zM290 394h6v2h-6zM298 394h6v2h-6zM308 394h2v2h-2zM312 394h4v2h-4zM320 394h4v2h-4zM330 394h2v2h-2zM336 394h2v2h-2zM340 394h6v2h-6zM350 394h6v2h-6zM358 394h10v2h-10zM372 394h2v2h-2zM400 394h18v2h-18zM440 394h6v2h-6zM518 394h4v2h-4zM550 394h6v2h-6zM560 394h2v2h-2zM566 394h4v2h-4zM598 394h4v2h-4zM610 394h10v2h-10zM624 394h2v2h-2zM636 394h4v2h-4zM642 394h2v2h-2zM684 394h2v2h-2zM688 394h2v2h-2zM716 394h2v2h-2zM746 394h4v2h-4zM764 394h4v2h-4zM274 396h8v2h-8zM288 396h4v2h-4zM312 396h10v2h-10zM324 396h2v2h-2zM328 396h2v2h-2zM336 396h10v2h-10zM352 396h2v2h-2zM356 396h8v2h-8zM366 396h2v2h-2zM372 396h4v2h-4zM380 396h2v2h-2zM398 396h8v2h-8zM442 396h4v2h-4zM522 396h6v2h-6zM542 396h2v2h-2zM558 396h4v2h-4zM564 396h2v2h-2zM574 396h2v2h-2zM602 396h2v2h-2zM610 396h14v2h-14zM628 396h6v2h-6zM636 396h8v2h-8zM684 396h6v2h-6zM748 396h2v2h-2zM270 398h4v2h-4zM278 398h2v2h-2zM282 398h4v2h-4zM302 398h6v2h-6zM316 398h14v2h-14zM334 398h14v2h-14zM350 398h2v2h-2zM360 398h2v2h-2zM372 398h4v2h-4zM400 398h10v2h-10zM428 398h4v2h-4zM520 398h2v2h-2zM524 398h6v2h-6zM532 398h2v2h-2zM544 398h4v2h-4zM560 398h2v2h-2zM574 398h2v2h-2zM608 398h16v2h-16zM630 398h4v2h-4zM638 398h6v2h-6zM680 398h2v2h-2zM684 398h4v2h-4zM744 398h2v2h-2zM748 398h2v2h-2zM264 400h2v2h-2zM268 400h2v2h-2zM272 400h2v2h-2zM284 400h2v2h-2zM292 400h4v2h-4zM302 400h4v2h-4zM312 400h6v2h-6zM320 400h4v2h-4zM334 400h2v2h-2zM340 400h8v2h-8zM370 400h4v2h-4zM400 400h12v2h-12zM414 400h2v2h-2zM436 400h2v2h-2zM444 400h2v2h-2zM460 400h2v2h-2zM520 400h22v2h-22zM546 400h8v2h-8zM556 400h2v2h-2zM598 400h2v2h-2zM602 400h2v2h-2zM610 400h8v2h-8zM622 400h2v2h-2zM680 400h6v2h-6zM744 400h2v2h-2zM748 400h2v2h-2zM270 402h2v2h-2zM274 402h2v2h-2zM278 402h2v2h-2zM288 402h2v2h-2zM294 402h2v2h-2zM298 402h2v2h-2zM304 402h6v2h-6zM314 402h16v2h-16zM334 402h2v2h-2zM338 402h8v2h-8zM368 402h4v2h-4zM378 402h2v2h-2zM400 402h10v2h-10zM432 402h8v2h-8zM448 402h2v2h-2zM528 402h4v2h-4zM536 402h22v2h-22zM574 402h2v2h-2zM600 402h2v2h-2zM604 402h12v2h-12zM682 402h2v2h-2zM720 402h4v2h-4zM734 402h8v2h-8zM746 402h6v2h-6zM254 404h2v2h-2zM258 404h6v2h-6zM274 404h2v2h-2zM278 404h4v2h-4zM292 404h8v2h-8zM302 404h2v2h-2zM314 404h2v2h-2zM318 404h6v2h-6zM336 404h4v2h-4zM342 404h2v2h-2zM346 404h6v2h-6zM368 404h6v2h-6zM376 404h4v2h-4zM400 404h2v2h-2zM404 404h4v2h-4zM520 404h2v2h-2zM524 404h2v2h-2zM530 404h2v2h-2zM540 404h2v2h-2zM544 404h10v2h-10zM556 404h4v2h-4zM604 404h12v2h-12zM718 404h28v2h-28zM748 404h2v2h-2zM260 406h6v2h-6zM274 406h2v2h-2zM284 406h4v2h-4zM294 406h2v2h-2zM298 406h2v2h-2zM306 406h2v2h-2zM314 406h24v2h-24zM346 406h2v2h-2zM368 406h8v2h-8zM400 406h4v2h-4zM406 406h2v2h-2zM412 406h2v2h-2zM430 406h6v2h-6zM446 406h2v2h-2zM510 406h2v2h-2zM514 406h2v2h-2zM518 406h10v2h-10zM536 406h18v2h-18zM608 406h6v2h-6zM720 406h14v2h-14zM736 406h4v2h-4zM742 406h2v2h-2zM754 406h4v2h-4zM256 408h2v2h-2zM266 408h2v2h-2zM270 408h2v2h-2zM276 408h6v2h-6zM284 408h2v2h-2zM296 408h2v2h-2zM308 408h2v2h-2zM314 408h2v2h-2zM318 408h4v2h-4zM324 408h10v2h-10zM338 408h2v2h-2zM348 408h2v2h-2zM352 408h2v2h-2zM382 408h4v2h-4zM410 408h2v2h-2zM438 408h2v2h-2zM506 408h2v2h-2zM510 408h16v2h-16zM528 408h2v2h-2zM532 408h12v2h-12zM546 408h2v2h-2zM550 408h2v2h-2zM612 408h2v2h-2zM642 408h4v2h-4zM718 408h14v2h-14zM734 408h4v2h-4zM748 408h4v2h-4zM754 408h2v2h-2zM264 410h2v2h-2zM268 410h2v2h-2zM272 410h2v2h-2zM280 410h6v2h-6zM288 410h2v2h-2zM300 410h2v2h-2zM304 410h2v2h-2zM308 410h2v2h-2zM316 410h2v2h-2zM320 410h14v2h-14zM338 410h2v2h-2zM348 410h4v2h-4zM402 410h6v2h-6zM410 410h6v2h-6zM422 410h4v2h-4zM432 410h4v2h-4zM438 410h2v2h-2zM510 410h18v2h-18zM534 410h8v2h-8zM614 410h2v2h-2zM702 410h2v2h-2zM718 410h4v2h-4zM724 410h2v2h-2zM746 410h6v2h-6zM754 410h4v2h-4zM264 412h4v2h-4zM270 412h4v2h-4zM284 412h2v2h-2zM310 412h4v2h-4zM320 412h8v2h-8zM340 412h6v2h-6zM404 412h16v2h-16zM424 412h2v2h-2zM430 412h6v2h-6zM512 412h2v2h-2zM520 412h8v2h-8zM536 412h4v2h-4zM660 412h2v2h-2zM676 412h2v2h-2zM718 412h4v2h-4zM724 412h4v2h-4zM748 412h4v2h-4zM272 414h2v2h-2zM290 414h2v2h-2zM294 414h2v2h-2zM302 414h2v2h-2zM308 414h6v2h-6zM318 414h8v2h-8zM336 414h2v2h-2zM340 414h4v2h-4zM388 414h4v2h-4zM406 414h4v2h-4zM430 414h6v2h-6zM446 414h2v2h-2zM522 414h4v2h-4zM532 414h2v2h-2zM536 414h2v2h-2zM540 414h2v2h-2zM622 414h4v2h-4zM638 414h2v2h-2zM660 414h2v2h-2zM716 414h10v2h-10zM750 414h2v2h-2zM288 416h2v2h-2zM292 416h4v2h-4zM302 416h2v2h-2zM310 416h4v2h-4zM316 416h2v2h-2zM320 416h6v2h-6zM368 416h6v2h-6zM432 416h6v2h-6zM446 416h4v2h-4zM496 416h2v2h-2zM522 416h4v2h-4zM540 416h4v2h-4zM584 416h2v2h-2zM590 416h4v2h-4zM614 416h2v2h-2zM622 416h6v2h-6zM650 416h2v2h-2zM702 416h2v2h-2zM718 416h6v2h-6zM258 418h2v2h-2zM298 418h2v2h-2zM308 418h4v2h-4zM316 418h6v2h-6zM368 418h6v2h-6zM412 418h2v2h-2zM416 418h2v2h-2zM432 418h4v2h-4zM438 418h4v2h-4zM444 418h4v2h-4zM458 418h2v2h-2zM484 418h2v2h-2zM518 418h2v2h-2zM592 418h2v2h-2zM608 418h12v2h-12zM624 418h4v2h-4zM650 418h2v2h-2zM682 418h2v2h-2zM696 418h2v2h-2zM716 418h2v2h-2zM734 418h2v2h-2zM750 418h4v2h-4zM252 420h2v2h-2zM294 420h4v2h-4zM316 420h2v2h-2zM416 420h2v2h-2zM438 420h4v2h-4zM484 420h4v2h-4zM512 420h2v2h-2zM516 420h2v2h-2zM538 420h2v2h-2zM586 420h2v2h-2zM608 420h12v2h-12zM684 420h2v2h-2zM716 420h2v2h-2zM720 420h2v2h-2zM754 420h2v2h-2zM278 422h4v2h-4zM288 422h2v2h-2zM298 422h2v2h-2zM310 422h4v2h-4zM412 422h4v2h-4zM418 422h4v2h-4zM426 422h2v2h-2zM530 422h2v2h-2zM608 422h8v2h-8zM620 422h4v2h-4zM638 422h4v2h-4zM700 422h2v2h-2zM718 422h2v2h-2zM752 422h4v2h-4zM758 422h6v2h-6zM284 424h2v2h-2zM304 424h2v2h-2zM312 424h2v2h-2zM410 424h2v2h-2zM418 424h4v2h-4zM424 424h10v2h-10zM450 424h10v2h-10zM528 424h2v2h-2zM538 424h4v2h-4zM580 424h2v2h-2zM586 424h2v2h-2zM610 424h16v2h-16zM640 424h2v2h-2zM674 424h4v2h-4zM720 424h2v2h-2zM724 424h4v2h-4zM734 424h2v2h-2zM752 424h4v2h-4zM762 424h4v2h-4zM278 426h4v2h-4zM284 426h2v2h-2zM300 426h2v2h-2zM316 426h2v2h-2zM320 426h2v2h-2zM404 426h2v2h-2zM410 426h4v2h-4zM418 426h2v2h-2zM422 426h6v2h-6zM430 426h2v2h-2zM446 426h2v2h-2zM450 426h6v2h-6zM458 426h8v2h-8zM508 426h2v2h-2zM556 426h4v2h-4zM578 426h6v2h-6zM608 426h16v2h-16zM646 426h12v2h-12zM666 426h16v2h-16zM722 426h6v2h-6zM734 426h2v2h-2zM752 426h4v2h-4zM256 428h4v2h-4zM274 428h2v2h-2zM298 428h4v2h-4zM304 428h2v2h-2zM402 428h2v2h-2zM416 428h2v2h-2zM428 428h2v2h-2zM440 428h2v2h-2zM450 428h2v2h-2zM454 428h4v2h-4zM460 428h2v2h-2zM500 428h2v2h-2zM544 428h2v2h-2zM578 428h8v2h-8zM588 428h2v2h-2zM608 428h10v2h-10zM620 428h2v2h-2zM640 428h2v2h-2zM646 428h6v2h-6zM654 428h4v2h-4zM660 428h2v2h-2zM666 428h12v2h-12zM680 428h2v2h-2zM752 428h2v2h-2zM284 430h2v2h-2zM300 430h2v2h-2zM310 430h4v2h-4zM326 430h4v2h-4zM410 430h4v2h-4zM416 430h2v2h-2zM428 430h2v2h-2zM456 430h2v2h-2zM460 430h2v2h-2zM500 430h2v2h-2zM528 430h2v2h-2zM566 430h2v2h-2zM580 430h2v2h-2zM586 430h4v2h-4zM604 430h6v2h-6zM614 430h4v2h-4zM620 430h2v2h-2zM646 430h8v2h-8zM656 430h4v2h-4zM662 430h8v2h-8zM716 430h2v2h-2zM726 430h2v2h-2zM274 432h2v2h-2zM296 432h2v2h-2zM300 432h2v2h-2zM306 432h2v2h-2zM324 432h4v2h-4zM410 432h6v2h-6zM430 432h2v2h-2zM434 432h2v2h-2zM444 432h2v2h-2zM474 432h4v2h-4zM480 432h2v2h-2zM502 432h2v2h-2zM506 432h2v2h-2zM510 432h2v2h-2zM518 432h2v2h-2zM530 432h4v2h-4zM552 432h2v2h-2zM558 432h8v2h-8zM614 432h2v2h-2zM618 432h2v2h-2zM650 432h2v2h-2zM654 432h10v2h-10zM718 432h2v2h-2zM730 432h2v2h-2zM276 434h2v2h-2zM282 434h2v2h-2zM288 434h2v2h-2zM298 434h2v2h-2zM336 434h2v2h-2zM412 434h6v2h-6zM420 434h2v2h-2zM424 434h2v2h-2zM432 434h4v2h-4zM466 434h6v2h-6zM474 434h4v2h-4zM480 434h4v2h-4zM508 434h2v2h-2zM512 434h2v2h-2zM530 434h6v2h-6zM564 434h2v2h-2zM596 434h20v2h-20zM618 434h2v2h-2zM646 434h2v2h-2zM650 434h2v2h-2zM654 434h10v2h-10zM666 434h6v2h-6zM714 434h2v2h-2zM726 434h2v2h-2zM256 436h2v2h-2zM286 436h2v2h-2zM290 436h2v2h-2zM412 436h8v2h-8zM450 436h2v2h-2zM456 436h6v2h-6zM464 436h2v2h-2zM468 436h4v2h-4zM474 436h6v2h-6zM502 436h4v2h-4zM522 436h6v2h-6zM562 436h4v2h-4zM596 436h4v2h-4zM606 436h14v2h-14zM652 436h10v2h-10zM684 436h2v2h-2zM734 436h2v2h-2zM254 438h2v2h-2zM264 438h2v2h-2zM292 438h8v2h-8zM316 438h2v2h-2zM412 438h4v2h-4zM420 438h4v2h-4zM448 438h2v2h-2zM458 438h8v2h-8zM482 438h2v2h-2zM490 438h6v2h-6zM504 438h2v2h-2zM508 438h2v2h-2zM512 438h2v2h-2zM520 438h4v2h-4zM526 438h2v2h-2zM560 438h8v2h-8zM588 438h4v2h-4zM596 438h6v2h-6zM612 438h4v2h-4zM632 438h2v2h-2zM654 438h8v2h-8zM686 438h2v2h-2zM704 438h2v2h-2zM744 438h2v2h-2zM256 440h2v2h-2zM294 440h4v2h-4zM314 440h2v2h-2zM376 440h2v2h-2zM418 440h2v2h-2zM430 440h2v2h-2zM478 440h4v2h-4zM490 440h4v2h-4zM496 440h2v2h-2zM500 440h2v2h-2zM514 440h4v2h-4zM520 440h2v2h-2zM536 440h2v2h-2zM558 440h2v2h-2zM568 440h4v2h-4zM586 440h6v2h-6zM594 440h10v2h-10zM608 440h6v2h-6zM632 440h4v2h-4zM644 440h6v2h-6zM652 440h8v2h-8zM662 440h2v2h-2zM682 440h2v2h-2zM736 440h4v2h-4zM258 442h2v2h-2zM296 442h2v2h-2zM416 442h2v2h-2zM420 442h6v2h-6zM476 442h2v2h-2zM492 442h2v2h-2zM510 442h6v2h-6zM518 442h2v2h-2zM566 442h6v2h-6zM586 442h4v2h-4zM598 442h6v2h-6zM608 442h2v2h-2zM632 442h6v2h-6zM642 442h14v2h-14zM658 442h6v2h-6zM680 442h4v2h-4zM700 442h4v2h-4zM736 442h2v2h-2zM748 442h2v2h-2zM296 444h4v2h-4zM418 444h2v2h-2zM472 444h10v2h-10zM484 444h2v2h-2zM518 444h4v2h-4zM526 444h2v2h-2zM538 444h4v2h-4zM544 444h2v2h-2zM598 444h6v2h-6zM642 444h12v2h-12zM656 444h2v2h-2zM660 444h4v2h-4zM688 444h2v2h-2zM700 444h2v2h-2zM746 444h2v2h-2zM278 446h2v2h-2zM294 446h6v2h-6zM338 446h2v2h-2zM352 446h2v2h-2zM472 446h2v2h-2zM476 446h4v2h-4zM482 446h6v2h-6zM500 446h2v2h-2zM510 446h6v2h-6zM520 446h2v2h-2zM534 446h2v2h-2zM542 446h2v2h-2zM642 446h4v2h-4zM648 446h2v2h-2zM652 446h4v2h-4zM698 446h2v2h-2zM710 446h4v2h-4zM748 446h2v2h-2zM300 448h2v2h-2zM304 448h10v2h-10zM354 448h2v2h-2zM474 448h8v2h-8zM484 448h4v2h-4zM506 448h6v2h-6zM536 448h2v2h-2zM540 448h2v2h-2zM586 448h4v2h-4zM594 448h2v2h-2zM642 448h4v2h-4zM648 448h2v2h-2zM652 448h2v2h-2zM710 448h2v2h-2zM254 450h2v2h-2zM260 450h2v2h-2zM282 450h2v2h-2zM288 450h2v2h-2zM296 450h14v2h-14zM312 450h4v2h-4zM374 450h2v2h-2zM468 450h4v2h-4zM504 450h10v2h-10zM538 450h2v2h-2zM552 450h2v2h-2zM580 450h6v2h-6zM588 450h2v2h-2zM592 450h2v2h-2zM596 450h6v2h-6zM608 450h4v2h-4zM622 450h12v2h-12zM646 450h2v2h-2zM672 450h4v2h-4zM266 452h2v2h-2zM300 452h4v2h-4zM306 452h6v2h-6zM324 452h2v2h-2zM332 452h4v2h-4zM356 452h2v2h-2zM430 452h2v2h-2zM454 452h2v2h-2zM468 452h4v2h-4zM500 452h6v2h-6zM580 452h4v2h-4zM588 452h4v2h-4zM596 452h12v2h-12zM610 452h4v2h-4zM616 452h14v2h-14zM680 452h2v2h-2zM702 452h2v2h-2zM708 452h2v2h-2zM712 452h2v2h-2zM718 452h2v2h-2zM742 452h2v2h-2zM258 454h2v2h-2zM262 454h2v2h-2zM310 454h2v2h-2zM336 454h2v2h-2zM354 454h6v2h-6zM450 454h2v2h-2zM464 454h12v2h-12zM538 454h2v2h-2zM584 454h20v2h-20zM606 454h22v2h-22zM710 454h2v2h-2zM714 454h2v2h-2zM280 456h2v2h-2zM312 456h2v2h-2zM354 456h4v2h-4zM426 456h2v2h-2zM448 456h4v2h-4zM460 456h18v2h-18zM508 456h4v2h-4zM572 456h2v2h-2zM584 456h6v2h-6zM594 456h12v2h-12zM616 456h8v2h-8zM698 456h2v2h-2zM704 456h2v2h-2zM744 456h2v2h-2zM310 458h4v2h-4zM376 458h4v2h-4zM432 458h6v2h-6zM440 458h4v2h-4zM458 458h12v2h-12zM474 458h2v2h-2zM478 458h4v2h-4zM504 458h6v2h-6zM530 458h2v2h-2zM536 458h2v2h-2zM572 458h6v2h-6zM584 458h2v2h-2zM594 458h10v2h-10zM606 458h4v2h-4zM624 458h2v2h-2zM634 458h2v2h-2zM652 458h4v2h-4zM672 458h2v2h-2zM744 458h2v2h-2zM258 460h2v2h-2zM312 460h4v2h-4zM324 460h4v2h-4zM352 460h2v2h-2zM376 460h4v2h-4zM406 460h2v2h-2zM434 460h10v2h-10zM454 460h4v2h-4zM460 460h4v2h-4zM470 460h2v2h-2zM480 460h2v2h-2zM484 460h4v2h-4zM500 460h8v2h-8zM536 460h2v2h-2zM572 460h10v2h-10zM596 460h6v2h-6zM610 460h2v2h-2zM634 460h2v2h-2zM664 460h2v2h-2zM672 460h2v2h-2zM684 460h2v2h-2zM698 460h2v2h-2zM280 462h2v2h-2zM292 462h2v2h-2zM298 462h2v2h-2zM308 462h2v2h-2zM312 462h4v2h-4zM322 462h2v2h-2zM376 462h2v2h-2zM408 462h2v2h-2zM438 462h4v2h-4zM450 462h2v2h-2zM470 462h2v2h-2zM480 462h2v2h-2zM486 462h2v2h-2zM502 462h4v2h-4zM508 462h2v2h-2zM572 462h6v2h-6zM598 462h6v2h-6zM690 462h2v2h-2zM712 462h2v2h-2zM720 462h4v2h-4zM272 464h2v2h-2zM298 464h4v2h-4zM310 464h8v2h-8zM322 464h2v2h-2zM328 464h4v2h-4zM344 464h2v2h-2zM352 464h4v2h-4zM478 464h2v2h-2zM486 464h2v2h-2zM502 464h2v2h-2zM546 464h2v2h-2zM572 464h6v2h-6zM598 464h2v2h-2zM638 464h2v2h-2zM680 464h2v2h-2zM688 464h4v2h-4zM706 464h2v2h-2zM716 464h8v2h-8zM278 466h8v2h-8zM296 466h4v2h-4zM312 466h6v2h-6zM330 466h2v2h-2zM342 466h2v2h-2zM348 466h2v2h-2zM368 466h4v2h-4zM418 466h2v2h-2zM424 466h2v2h-2zM444 466h2v2h-2zM468 466h8v2h-8zM480 466h2v2h-2zM544 466h2v2h-2zM574 466h4v2h-4zM638 466h2v2h-2zM680 466h2v2h-2zM684 466h2v2h-2zM722 466h2v2h-2zM280 468h2v2h-2zM286 468h2v2h-2zM296 468h6v2h-6zM304 468h2v2h-2zM314 468h2v2h-2zM330 468h2v2h-2zM334 468h8v2h-8zM348 468h4v2h-4zM392 468h6v2h-6zM468 468h6v2h-6zM484 468h2v2h-2zM596 468h4v2h-4zM682 468h2v2h-2zM720 468h2v2h-2zM278 470h2v2h-2zM284 470h10v2h-10zM296 470h8v2h-8zM308 470h2v2h-2zM332 470h2v2h-2zM336 470h4v2h-4zM372 470h4v2h-4zM390 470h4v2h-4zM396 470h2v2h-2zM472 470h2v2h-2zM486 470h4v2h-4zM520 470h2v2h-2zM722 470h2v2h-2zM274 472h2v2h-2zM284 472h16v2h-16zM312 472h6v2h-6zM332 472h2v2h-2zM388 472h12v2h-12zM424 472h4v2h-4zM484 472h6v2h-6zM518 472h4v2h-4zM246 474h2v2h-2zM284 474h8v2h-8zM296 474h2v2h-2zM310 474h4v2h-4zM316 474h2v2h-2zM388 474h14v2h-14zM486 474h4v2h-4zM532 474h2v2h-2zM556 474h2v2h-2zM606 474h2v2h-2zM610 474h2v2h-2zM694 474h4v2h-4zM702 474h2v2h-2zM276 476h2v2h-2zM286 476h6v2h-6zM296 476h2v2h-2zM306 476h2v2h-2zM310 476h2v2h-2zM314 476h2v2h-2zM362 476h4v2h-4zM382 476h26v2h-26zM522 476h2v2h-2zM526 476h2v2h-2zM690 476h2v2h-2zM284 478h2v2h-2zM288 478h6v2h-6zM296 478h2v2h-2zM304 478h4v2h-4zM310 478h4v2h-4zM380 478h12v2h-12zM398 478h10v2h-10zM522 478h2v2h-2zM526 478h2v2h-2zM530 478h2v2h-2zM240 480h2v2h-2zM266 480h2v2h-2zM290 480h4v2h-4zM296 480h4v2h-4zM306 480h2v2h-2zM334 480h2v2h-2zM382 480h4v2h-4zM514 480h2v2h-2zM518 480h8v2h-8zM528 480h4v2h-4zM236 482h2v2h-2zM292 482h8v2h-8zM306 482h2v2h-2zM334 482h2v2h-2zM378 482h2v2h-2zM382 482h2v2h-2zM510 482h4v2h-4zM518 482h2v2h-2zM522 482h4v2h-4zM254 484h2v2h-2zM264 484h2v2h-2zM292 484h2v2h-2zM296 484h4v2h-4zM302 484h4v2h-4zM340 484h4v2h-4zM384 484h2v2h-2zM410 484h2v2h-2zM470 484h2v2h-2zM506 484h2v2h-2zM516 484h2v2h-2zM564 484h2v2h-2zM638 484h2v2h-2zM294 486h4v2h-4zM300 486h6v2h-6zM338 486h4v2h-4zM384 486h2v2h-2zM410 486h2v2h-2zM506 486h6v2h-6zM528 486h2v2h-2zM548 486h2v2h-2zM606 486h2v2h-2zM650 486h2v2h-2zM262 488h2v2h-2zM298 488h4v2h-4zM378 488h8v2h-8zM398 488h2v2h-2zM422 488h2v2h-2zM446 488h2v2h-2zM450 488h4v2h-4zM508 488h2v2h-2zM526 488h4v2h-4zM542 488h2v2h-2zM554 488h2v2h-2zM648 488h4v2h-4zM258 490h4v2h-4zM296 490h4v2h-4zM368 490h2v2h-2zM378 490h2v2h-2zM446 490h4v2h-4zM538 490h4v2h-4zM642 490h4v2h-4zM296 492h2v2h-2zM320 492h2v2h-2zM508 492h2v2h-2zM568 492h2v2h-2zM640 492h4v2h-4zM646 492h4v2h-4zM286 494h4v2h-4zM292 494h8v2h-8zM302 494h2v2h-2zM314 494h6v2h-6zM332 494h2v2h-2zM508 494h4v2h-4zM530 494h2v2h-2zM548 494h2v2h-2zM634 494h2v2h-2zM644 494h8v2h-8zM286 496h4v2h-4zM296 496h2v2h-2zM300 496h2v2h-2zM332 496h2v2h-2zM378 496h2v2h-2zM496 496h8v2h-8zM522 496h2v2h-2zM560 496h2v2h-2zM644 496h2v2h-2zM282 498h2v2h-2zM298 498h6v2h-6zM368 498h2v2h-2zM376 498h4v2h-4zM494 498h12v2h-12zM522 498h2v2h-2zM574 498h2v2h-2zM606 498h2v2h-2zM642 498h2v2h-2zM658 498h2v2h-2zM292 500h2v2h-2zM300 500h2v2h-2zM354 500h2v2h-2zM376 500h4v2h-4zM492 500h8v2h-8zM520 500h2v2h-2zM550 500h2v2h-2zM590 500h2v2h-2zM656 500h4v2h-4zM662 500h2v2h-2zM374 502h4v2h-4zM452 502h4v2h-4zM468 502h4v2h-4zM492 502h2v2h-2zM496 502h2v2h-2zM524 502h8v2h-8zM550 502h2v2h-2zM648 502h2v2h-2zM674 502h2v2h-2zM678 502h2v2h-2zM332 504h2v2h-2zM392 504h2v2h-2zM422 504h6v2h-6zM468 504h6v2h-6zM488 504h6v2h-6zM504 504h2v2h-2zM528 504h2v2h-2zM532 504h2v2h-2zM554 504h2v2h-2zM626 504h2v2h-2zM642 504h12v2h-12zM672 504h2v2h-2zM334 506h2v2h-2zM420 506h6v2h-6zM470 506h6v2h-6zM484 506h8v2h-8zM504 506h2v2h-2zM512 506h2v2h-2zM530 506h4v2h-4zM588 506h2v2h-2zM594 506h2v2h-2zM626 506h2v2h-2zM630 506h2v2h-2zM636 506h2v2h-2zM642 506h10v2h-10zM656 506h2v2h-2zM660 506h2v2h-2zM684 506h2v2h-2zM382 508h8v2h-8zM470 508h2v2h-2zM484 508h10v2h-10zM496 508h4v2h-4zM502 508h2v2h-2zM552 508h2v2h-2zM578 508h2v2h-2zM586 508h2v2h-2zM598 508h2v2h-2zM636 508h2v2h-2zM644 508h10v2h-10zM744 508h2v2h-2zM348 510h4v2h-4zM382 510h6v2h-6zM478 510h2v2h-2zM484 510h2v2h-2zM490 510h10v2h-10zM522 510h4v2h-4zM538 510h2v2h-2zM542 510h2v2h-2zM588 510h2v2h-2zM596 510h2v2h-2zM626 510h4v2h-4zM632 510h2v2h-2zM636 510h2v2h-2zM640 510h12v2h-12zM662 510h2v2h-2zM670 510h2v2h-2zM742 510h2v2h-2zM478 512h2v2h-2zM484 512h2v2h-2zM490 512h6v2h-6zM518 512h2v2h-2zM522 512h6v2h-6zM536 512h6v2h-6zM548 512h2v2h-2zM560 512h2v2h-2zM570 512h4v2h-4zM596 512h2v2h-2zM628 512h2v2h-2zM640 512h2v2h-2zM644 512h8v2h-8zM658 512h2v2h-2zM664 512h2v2h-2zM668 512h2v2h-2zM678 512h2v2h-2zM688 512h2v2h-2zM380 514h2v2h-2zM488 514h6v2h-6zM502 514h2v2h-2zM506 514h8v2h-8zM516 514h2v2h-2zM520 514h8v2h-8zM546 514h2v2h-2zM572 514h2v2h-2zM600 514h2v2h-2zM630 514h4v2h-4zM642 514h10v2h-10zM662 514h6v2h-6zM678 514h2v2h-2zM686 514h2v2h-2zM690 514h2v2h-2zM722 514h4v2h-4zM728 514h2v2h-2zM422 516h6v2h-6zM468 516h4v2h-4zM490 516h2v2h-2zM496 516h6v2h-6zM504 516h8v2h-8zM516 516h12v2h-12zM548 516h6v2h-6zM564 516h2v2h-2zM570 516h2v2h-2zM582 516h4v2h-4zM592 516h2v2h-2zM642 516h8v2h-8zM654 516h4v2h-4zM662 516h8v2h-8zM690 516h2v2h-2zM722 516h10v2h-10zM422 518h2v2h-2zM466 518h2v2h-2zM470 518h2v2h-2zM482 518h2v2h-2zM502 518h2v2h-2zM506 518h2v2h-2zM518 518h10v2h-10zM530 518h2v2h-2zM540 518h2v2h-2zM544 518h2v2h-2zM572 518h2v2h-2zM628 518h2v2h-2zM638 518h8v2h-8zM654 518h4v2h-4zM664 518h4v2h-4zM692 518h2v2h-2zM720 518h6v2h-6zM728 518h4v2h-4zM414 520h6v2h-6zM434 520h6v2h-6zM466 520h4v2h-4zM500 520h2v2h-2zM504 520h2v2h-2zM514 520h2v2h-2zM518 520h2v2h-2zM524 520h2v2h-2zM540 520h2v2h-2zM578 520h2v2h-2zM596 520h4v2h-4zM610 520h2v2h-2zM628 520h2v2h-2zM664 520h4v2h-4zM720 520h4v2h-4zM726 520h6v2h-6zM414 522h6v2h-6zM434 522h2v2h-2zM468 522h2v2h-2zM480 522h2v2h-2zM490 522h2v2h-2zM498 522h2v2h-2zM526 522h2v2h-2zM530 522h2v2h-2zM542 522h2v2h-2zM560 522h2v2h-2zM568 522h2v2h-2zM610 522h2v2h-2zM630 522h2v2h-2zM658 522h2v2h-2zM662 522h2v2h-2zM666 522h4v2h-4zM690 522h4v2h-4zM714 522h2v2h-2zM720 522h2v2h-2zM724 522h6v2h-6zM464 524h2v2h-2zM468 524h4v2h-4zM480 524h2v2h-2zM486 524h2v2h-2zM524 524h2v2h-2zM540 524h2v2h-2zM548 524h2v2h-2zM560 524h2v2h-2zM564 524h6v2h-6zM622 524h2v2h-2zM630 524h2v2h-2zM634 524h2v2h-2zM650 524h6v2h-6zM658 524h6v2h-6zM666 524h6v2h-6zM716 524h10v2h-10zM462 526h10v2h-10zM480 526h2v2h-2zM486 526h6v2h-6zM522 526h6v2h-6zM532 526h2v2h-2zM548 526h6v2h-6zM556 526h2v2h-2zM562 526h2v2h-2zM566 526h2v2h-2zM570 526h4v2h-4zM632 526h4v2h-4zM646 526h20v2h-20zM668 526h4v2h-4zM716 526h8v2h-8zM466 528h4v2h-4zM478 528h14v2h-14zM504 528h2v2h-2zM508 528h2v2h-2zM512 528h2v2h-2zM522 528h4v2h-4zM536 528h2v2h-2zM550 528h2v2h-2zM632 528h2v2h-2zM642 528h16v2h-16zM662 528h2v2h-2zM672 528h2v2h-2zM714 528h12v2h-12zM730 528h2v2h-2zM466 530h2v2h-2zM470 530h2v2h-2zM480 530h10v2h-10zM500 530h4v2h-4zM514 530h4v2h-4zM522 530h8v2h-8zM532 530h4v2h-4zM540 530h6v2h-6zM570 530h6v2h-6zM590 530h2v2h-2zM610 530h2v2h-2zM632 530h6v2h-6zM642 530h6v2h-6zM654 530h2v2h-2zM668 530h2v2h-2zM686 530h2v2h-2zM706 530h2v2h-2zM710 530h2v2h-2zM714 530h20v2h-20zM486 532h2v2h-2zM490 532h2v2h-2zM494 532h2v2h-2zM498 532h2v2h-2zM508 532h2v2h-2zM514 532h2v2h-2zM534 532h2v2h-2zM570 532h6v2h-6zM608 532h2v2h-2zM628 532h2v2h-2zM644 532h2v2h-2zM658 532h2v2h-2zM666 532h8v2h-8zM676 532h2v2h-2zM706 532h2v2h-2zM714 532h8v2h-8zM726 532h2v2h-2zM730 532h4v2h-4zM484 534h2v2h-2zM490 534h4v2h-4zM498 534h6v2h-6zM532 534h2v2h-2zM542 534h2v2h-2zM546 534h2v2h-2zM570 534h6v2h-6zM626 534h2v2h-2zM642 534h2v2h-2zM660 534h4v2h-4zM666 534h2v2h-2zM670 534h2v2h-2zM700 534h2v2h-2zM706 534h2v2h-2zM714 534h2v2h-2zM720 534h2v2h-2zM728 534h2v2h-2zM490 536h2v2h-2zM494 536h8v2h-8zM506 536h4v2h-4zM532 536h2v2h-2zM538 536h4v2h-4zM572 536h6v2h-6zM590 536h2v2h-2zM624 536h8v2h-8zM640 536h2v2h-2zM660 536h2v2h-2zM700 536h2v2h-2zM708 536h6v2h-6zM528 538h2v2h-2zM574 538h2v2h-2zM622 538h4v2h-4zM630 538h2v2h-2zM634 538h2v2h-2zM664 538h2v2h-2zM668 538h2v2h-2zM682 538h4v2h-4zM526 540h2v2h-2zM532 540h2v2h-2zM552 540h4v2h-4zM570 540h8v2h-8zM632 540h8v2h-8zM668 540h4v2h-4zM684 540h4v2h-4zM710 540h2v2h-2zM524 542h6v2h-6zM550 542h6v2h-6zM570 542h6v2h-6zM606 542h4v2h-4zM632 542h2v2h-2zM638 542h2v2h-2zM670 542h4v2h-4zM684 542h2v2h-2zM730 542h8v2h-8zM552 544h2v2h-2zM556 544h2v2h-2zM566 544h6v2h-6zM588 544h2v2h-2zM636 544h2v2h-2zM648 544h2v2h-2zM662 544h2v2h-2zM730 544h8v2h-8zM558 546h4v2h-4zM566 546h2v2h-2zM570 546h2v2h-2zM612 546h2v2h-2zM632 546h2v2h-2zM638 546h2v2h-2zM696 546h4v2h-4zM730 546h8v2h-8zM560 548h12v2h-12zM584 548h2v2h-2zM602 548h2v2h-2zM608 548h2v2h-2zM618 548h2v2h-2zM634 548h2v2h-2zM722 548h2v2h-2zM730 548h8v2h-8zM562 550h2v2h-2zM566 550h4v2h-4zM602 550h2v2h-2zM612 550h2v2h-2zM616 550h2v2h-2zM634 550h4v2h-4zM642 550h2v2h-2zM646 550h2v2h-2zM650 550h2v2h-2zM654 550h2v2h-2zM662 550h2v2h-2zM722 550h4v2h-4zM602 552h6v2h-6zM646 552h2v2h-2zM652 552h2v2h-2zM710 552h2v2h-2zM714 552h6v2h-6zM722 552h4v2h-4zM636 554h2v2h-2zM642 554h2v2h-2zM646 554h2v2h-2zM652 554h2v2h-2zM710 554h10v2h-10zM618 556h2v2h-2zM640 556h4v2h-4zM672 556h4v2h-4zM684 556h4v2h-4zM710 556h10v2h-10zM636 558h4v2h-4zM696 558h4v2h-4zM712 558h4v2h-4zM620 560h4v2h-4zM640 560h2v2h-2zM664 560h4v2h-4zM672 560h2v2h-2zM692 560h10v2h-10zM712 560h6v2h-6zM628 562h2v2h-2zM662 562h8v2h-8zM690 562h8v2h-8zM710 562h2v2h-2zM720 562h4v2h-4zM638 564h2v2h-2zM660 564h10v2h-10zM690 564h8v2h-8zM720 564h4v2h-4zM730 564h4v2h-4zM662 566h2v2h-2zM696 566h6v2h-6zM718 566h2v2h-2zM722 566h4v2h-4zM728 566h6v2h-6zM664 568h4v2h-4zM674 568h2v2h-2zM698 568h4v2h-4zM716 568h2v2h-2zM720 568h2v2h-2zM730 568h2v2h-2zM698 570h6v2h-6zM716 570h8v2h-8zM702 572h8v2h-8zM716 572h8v2h-8zM702 574h10v2h-10zM714 574h2v2h-2zM704 576h8v2h-8zM712 578h2v2h-2z"/>
<path fill="#0f0" d="M324 108h4v2h-4zM350 108h2v2h-2zM322 112h2v2h-2zM400 112h4v2h-4zM332 114h2v2h-2zM412 114h2v2h-2zM328 116h2v2h-2zM404 116h2v2h-2zM408 116h2v2h-2zM412 116h2v2h-2zM322 118h2v2h-2zM326 118h2v2h-2zM404 118h2v2h-2zM410 118h2v2h-2zM428 118h2v2h-2zM330 120h4v2h-4zM410 120h2v2h-2zM416 120h2v2h-2zM420 120h4v2h-4zM446 120h6v2h-6zM332 122h2v2h-2zM422 122h4v2h-4zM428 122h2v2h-2zM446 122h8v2h-8zM456 122h4v2h-4zM318 124h2v2h-2zM324 124h2v2h-2zM398 124h4v2h-4zM404 124h2v2h-2zM420 124h12v2h-12zM436 124h16v2h-16zM458 124h2v2h-2zM462 124h2v2h-2zM320 126h2v2h-2zM398 126h4v2h-4zM422 126h2v2h-2zM426 126h4v2h-4zM432 126h2v2h-2zM436 126h14v2h-14zM460 126h4v2h-4zM402 128h4v2h-4zM408 128h2v2h-2zM416 128h2v2h-2zM426 128h4v2h-4zM436 128h2v2h-2zM440 128h2v2h-2zM452 128h2v2h-2zM492 128h2v2h-2zM398 130h2v2h-2zM404 130h4v2h-4zM428 130h2v2h-2zM432 130h2v2h-2zM402 132h8v2h-8zM412 132h2v2h-2zM436 132h4v2h-4zM478 132h2v2h-2zM398 134h2v2h-2zM410 134h4v2h-4zM420 134h4v2h-4zM476 134h2v2h-2zM316 136h4v2h-4zM410 136h4v2h-4zM420 136h14v2h-14zM310 138h2v2h-2zM318 138h4v2h-4zM398 138h2v2h-2zM412 138h4v2h-4zM420 138h16v2h-16zM452 138h2v2h-2zM474 138h2v2h-2zM480 138h2v2h-2zM516 138h2v2h-2zM560 138h4v2h-4zM308 140h6v2h-6zM320 140h2v2h-2zM400 140h2v2h-2zM412 140h2v2h-2zM420 140h18v2h-18zM476 140h4v2h-4zM560 140h14v2h-14zM310 142h2v2h-2zM412 142h2v2h-2zM426 142h12v2h-12zM442 142h4v2h-4zM476 142h2v2h-2zM560 142h14v2h-14zM312 144h8v2h-8zM372 144h2v2h-2zM410 144h2v2h-2zM430 144h8v2h-8zM466 144h2v2h-2zM562 144h12v2h-12zM578 144h2v2h-2zM306 146h2v2h-2zM318 146h2v2h-2zM330 146h2v2h-2zM400 146h2v2h-2zM434 146h4v2h-4zM496 146h2v2h-2zM562 146h12v2h-12zM580 146h2v2h-2zM332 148h2v2h-2zM398 148h4v2h-4zM412 148h2v2h-2zM416 148h6v2h-6zM432 148h4v2h-4zM564 148h10v2h-10zM578 148h2v2h-2zM592 148h6v2h-6zM316 150h2v2h-2zM334 150h2v2h-2zM364 150h4v2h-4zM388 150h4v2h-4zM400 150h2v2h-2zM418 150h6v2h-6zM432 150h2v2h-2zM472 150h2v2h-2zM498 150h2v2h-2zM564 150h10v2h-10zM576 150h2v2h-2zM594 150h4v2h-4zM312 152h2v2h-2zM322 152h2v2h-2zM380 152h2v2h-2zM390 152h4v2h-4zM420 152h4v2h-4zM454 152h4v2h-4zM496 152h2v2h-2zM562 152h8v2h-8zM572 152h6v2h-6zM594 152h2v2h-2zM308 154h2v2h-2zM316 154h2v2h-2zM366 154h2v2h-2zM380 154h4v2h-4zM386 154h2v2h-2zM394 154h2v2h-2zM398 154h2v2h-2zM422 154h2v2h-2zM456 154h2v2h-2zM466 154h4v2h-4zM562 154h14v2h-14zM586 154h8v2h-8zM598 154h2v2h-2zM316 156h2v2h-2zM392 156h4v2h-4zM424 156h2v2h-2zM428 156h2v2h-2zM468 156h2v2h-2zM520 156h4v2h-4zM526 156h8v2h-8zM536 156h2v2h-2zM562 156h14v2h-14zM580 156h10v2h-10zM314 158h2v2h-2zM338 158h2v2h-2zM392 158h2v2h-2zM466 158h4v2h-4zM524 158h4v2h-4zM530 158h8v2h-8zM562 158h12v2h-12zM578 158h4v2h-4zM328 160h2v2h-2zM350 160h2v2h-2zM406 160h6v2h-6zM422 160h2v2h-2zM430 160h2v2h-2zM522 160h8v2h-8zM556 160h2v2h-2zM560 160h16v2h-16zM580 160h2v2h-2zM584 160h4v2h-4zM340 162h2v2h-2zM346 162h2v2h-2zM352 162h2v2h-2zM378 162h2v2h-2zM386 162h2v2h-2zM406 162h8v2h-8zM420 162h2v2h-2zM524 162h6v2h-6zM544 162h4v2h-4zM552 162h2v2h-2zM560 162h28v2h-28zM620 162h2v2h-2zM336 164h2v2h-2zM344 164h6v2h-6zM362 164h2v2h-2zM372 164h2v2h-2zM376 164h2v2h-2zM406 164h8v2h-8zM426 164h2v2h-2zM530 164h2v2h-2zM544 164h4v2h-4zM560 164h28v2h-28zM318 166h2v2h-2zM338 166h4v2h-4zM356 166h2v2h-2zM404 166h6v2h-6zM426 166h4v2h-4zM530 166h6v2h-6zM544 166h2v2h-2zM560 166h2v2h-2zM564 166h4v2h-4zM570 166h10v2h-10zM582 166h8v2h-8zM348 168h2v2h-2zM354 168h2v2h-2zM404 168h6v2h-6zM412 168h2v2h-2zM422 168h4v2h-4zM442 168h2v2h-2zM524 168h8v2h-8zM534 168h4v2h-4zM542 168h4v2h-4zM560 168h10v2h-10zM576 168h6v2h-6zM584 168h10v2h-10zM324 170h2v2h-2zM340 170h2v2h-2zM354 170h2v2h-2zM374 170h2v2h-2zM402 170h8v2h-8zM412 170h2v2h-2zM424 170h2v2h-2zM438 170h6v2h-6zM448 170h2v2h-2zM518 170h6v2h-6zM526 170h4v2h-4zM536 170h2v2h-2zM544 170h2v2h-2zM568 170h4v2h-4zM338 172h2v2h-2zM352 172h2v2h-2zM356 172h2v2h-2zM422 172h4v2h-4zM440 172h6v2h-6zM448 172h2v2h-2zM514 172h8v2h-8zM528 172h18v2h-18zM566 172h6v2h-6zM578 172h2v2h-2zM304 174h2v2h-2zM320 174h2v2h-2zM342 174h2v2h-2zM418 174h2v2h-2zM430 174h2v2h-2zM448 174h4v2h-4zM510 174h12v2h-12zM530 174h16v2h-16zM552 174h2v2h-2zM564 174h8v2h-8zM578 174h2v2h-2zM582 174h2v2h-2zM340 176h4v2h-4zM350 176h2v2h-2zM408 176h2v2h-2zM450 176h2v2h-2zM498 176h2v2h-2zM510 176h8v2h-8zM520 176h2v2h-2zM528 176h18v2h-18zM552 176h2v2h-2zM564 176h8v2h-8zM578 176h4v2h-4zM338 178h2v2h-2zM404 178h4v2h-4zM450 178h2v2h-2zM462 178h4v2h-4zM508 178h2v2h-2zM512 178h10v2h-10zM526 178h20v2h-20zM550 178h2v2h-2zM564 178h6v2h-6zM574 178h8v2h-8zM594 178h2v2h-2zM414 180h2v2h-2zM516 180h4v2h-4zM524 180h4v2h-4zM530 180h8v2h-8zM566 180h4v2h-4zM572 180h8v2h-8zM744 180h2v2h-2zM516 182h4v2h-4zM526 182h4v2h-4zM532 182h6v2h-6zM562 182h8v2h-8zM572 182h2v2h-2zM578 182h2v2h-2zM744 182h2v2h-2zM338 184h2v2h-2zM350 184h2v2h-2zM394 184h2v2h-2zM434 184h2v2h-2zM516 184h2v2h-2zM522 184h2v2h-2zM528 184h4v2h-4zM562 184h10v2h-10zM344 186h2v2h-2zM392 186h2v2h-2zM404 186h2v2h-2zM502 186h2v2h-2zM522 186h12v2h-12zM562 186h8v2h-8zM572 186h2v2h-2zM746 186h2v2h-2zM340 188h4v2h-4zM438 188h4v2h-4zM452 188h2v2h-2zM502 188h4v2h-4zM518 188h18v2h-18zM560 188h12v2h-12zM574 188h2v2h-2zM732 188h2v2h-2zM346 190h2v2h-2zM388 190h4v2h-4zM402 190h4v2h-4zM450 190h2v2h-2zM458 190h2v2h-2zM514 190h12v2h-12zM528 190h6v2h-6zM546 190h4v2h-4zM560 190h14v2h-14zM594 190h2v2h-2zM298 192h2v2h-2zM344 192h2v2h-2zM356 192h2v2h-2zM442 192h2v2h-2zM448 192h8v2h-8zM512 192h12v2h-12zM528 192h4v2h-4zM542 192h8v2h-8zM562 192h14v2h-14zM344 194h2v2h-2zM364 194h2v2h-2zM434 194h6v2h-6zM448 194h8v2h-8zM458 194h2v2h-2zM466 194h2v2h-2zM512 194h14v2h-14zM532 194h2v2h-2zM542 194h8v2h-8zM554 194h2v2h-2zM560 194h8v2h-8zM572 194h6v2h-6zM320 196h2v2h-2zM342 196h2v2h-2zM432 196h14v2h-14zM450 196h8v2h-8zM512 196h14v2h-14zM542 196h8v2h-8zM564 196h14v2h-14zM584 196h4v2h-4zM596 196h2v2h-2zM610 196h2v2h-2zM800 196h2v2h-2zM432 198h14v2h-14zM450 198h4v2h-4zM520 198h6v2h-6zM530 198h26v2h-26zM562 198h16v2h-16zM584 198h2v2h-2zM810 198h2v2h-2zM434 200h10v2h-10zM448 200h6v2h-6zM520 200h4v2h-4zM532 200h2v2h-2zM536 200h10v2h-10zM550 200h4v2h-4zM562 200h6v2h-6zM574 200h4v2h-4zM582 200h4v2h-4zM608 200h2v2h-2zM354 202h2v2h-2zM386 202h6v2h-6zM434 202h6v2h-6zM444 202h2v2h-2zM520 202h2v2h-2zM534 202h8v2h-8zM548 202h2v2h-2zM552 202h2v2h-2zM562 202h6v2h-6zM570 202h8v2h-8zM448 204h2v2h-2zM530 204h6v2h-6zM538 204h4v2h-4zM552 204h6v2h-6zM560 204h2v2h-2zM564 204h2v2h-2zM578 204h2v2h-2zM582 204h2v2h-2zM586 204h2v2h-2zM748 204h2v2h-2zM348 206h2v2h-2zM522 206h14v2h-14zM550 206h10v2h-10zM574 206h2v2h-2zM582 206h2v2h-2zM648 206h2v2h-2zM742 206h2v2h-2zM388 208h2v2h-2zM414 208h2v2h-2zM512 208h2v2h-2zM520 208h20v2h-20zM546 208h14v2h-14zM734 208h2v2h-2zM788 208h2v2h-2zM388 210h2v2h-2zM414 210h2v2h-2zM512 210h30v2h-30zM546 210h2v2h-2zM556 210h4v2h-4zM808 210h2v2h-2zM410 212h4v2h-4zM514 212h6v2h-6zM524 212h6v2h-6zM532 212h28v2h-28zM406 214h8v2h-8zM424 214h2v2h-2zM514 214h4v2h-4zM524 214h6v2h-6zM532 214h2v2h-2zM536 214h6v2h-6zM544 214h8v2h-8zM556 214h4v2h-4zM582 214h2v2h-2zM624 214h2v2h-2zM412 216h2v2h-2zM422 216h4v2h-4zM522 216h8v2h-8zM536 216h18v2h-18zM556 216h4v2h-4zM584 216h2v2h-2zM426 218h2v2h-2zM520 218h4v2h-4zM526 218h2v2h-2zM536 218h8v2h-8zM552 218h10v2h-10zM582 218h4v2h-4zM588 218h4v2h-4zM540 220h2v2h-2zM556 220h6v2h-6zM582 220h10v2h-10zM510 222h2v2h-2zM540 222h4v2h-4zM558 222h2v2h-2zM582 222h10v2h-10zM510 224h2v2h-2zM524 224h2v2h-2zM534 224h10v2h-10zM574 224h2v2h-2zM584 224h8v2h-8zM778 224h2v2h-2zM526 226h12v2h-12zM540 226h6v2h-6zM572 226h4v2h-4zM582 226h8v2h-8zM746 226h2v2h-2zM764 226h2v2h-2zM522 228h4v2h-4zM528 228h4v2h-4zM538 228h14v2h-14zM572 228h2v2h-2zM652 228h2v2h-2zM656 228h2v2h-2zM754 228h2v2h-2zM522 230h2v2h-2zM532 230h2v2h-2zM538 230h14v2h-14zM570 230h4v2h-4zM760 230h2v2h-2zM522 232h4v2h-4zM536 232h10v2h-10zM548 232h6v2h-6zM568 232h8v2h-8zM590 232h2v2h-2zM604 232h2v2h-2zM770 232h2v2h-2zM788 232h2v2h-2zM524 234h2v2h-2zM536 234h2v2h-2zM542 234h12v2h-12zM568 234h6v2h-6zM606 234h2v2h-2zM788 234h2v2h-2zM536 236h2v2h-2zM546 236h8v2h-8zM568 236h8v2h-8zM788 236h2v2h-2zM548 238h4v2h-4zM566 238h12v2h-12zM560 240h22v2h-22zM738 240h2v2h-2zM572 242h8v2h-8zM582 242h4v2h-4zM680 244h2v2h-2zM596 246h2v2h-2zM790 248h2v2h-2zM624 250h2v2h-2zM756 250h2v2h-2zM760 250h4v2h-4zM802 250h2v2h-2zM678 254h4v2h-4zM800 254h2v2h-2zM724 264h2v2h-2zM802 264h2v2h-2zM798 268h4v2h-4zM798 274h2v2h-2zM308 290h2v2h-2zM350 290h2v2h-2zM306 292h2v2h-2zM290 294h2v2h-2zM370 294h4v2h-4zM304 296h2v2h-2zM314 296h2v2h-2zM324 296h2v2h-2zM358 296h2v2h-2zM366 296h2v2h-2zM370 296h4v2h-4zM362 298h2v2h-2zM370 298h4v2h-4zM344 300h2v2h-2zM364 300h2v2h-2zM368 300h2v2h-2zM404 300h8v2h-8zM316 302h2v2h-2zM354 302h4v2h-4zM360 302h4v2h-4zM368 302h4v2h-4zM386 302h2v2h-2zM392 302h2v2h-2zM402 302h2v2h-2zM408 302h2v2h-2zM418 302h8v2h-8zM274 304h2v2h-2zM282 304h2v2h-2zM312 304h2v2h-2zM342 304h2v2h-2zM348 304h2v2h-2zM352 304h4v2h-4zM362 304h2v2h-2zM372 304h2v2h-2zM392 304h2v2h-2zM408 304h2v2h-2zM412 304h6v2h-6zM420 304h6v2h-6zM350 306h2v2h-2zM356 306h4v2h-4zM366 306h2v2h-2zM370 306h2v2h-2zM380 306h4v2h-4zM388 306h2v2h-2zM394 306h2v2h-2zM406 306h2v2h-2zM410 306h4v2h-4zM420 306h8v2h-8zM438 306h4v2h-4zM448 306h2v2h-2zM342 308h4v2h-4zM348 308h2v2h-2zM354 308h4v2h-4zM362 308h2v2h-2zM366 308h6v2h-6zM392 308h2v2h-2zM400 308h2v2h-2zM420 308h22v2h-22zM310 310h2v2h-2zM334 310h2v2h-2zM342 310h2v2h-2zM346 310h4v2h-4zM360 310h4v2h-4zM372 310h2v2h-2zM376 310h6v2h-6zM386 310h2v2h-2zM390 310h2v2h-2zM400 310h2v2h-2zM404 310h4v2h-4zM422 310h2v2h-2zM426 310h4v2h-4zM434 310h8v2h-8zM454 310h2v2h-2zM338 312h2v2h-2zM350 312h2v2h-2zM356 312h8v2h-8zM366 312h2v2h-2zM370 312h2v2h-2zM374 312h4v2h-4zM394 312h2v2h-2zM398 312h2v2h-2zM404 312h2v2h-2zM418 312h4v2h-4zM428 312h8v2h-8zM440 312h2v2h-2zM448 312h6v2h-6zM464 312h14v2h-14zM306 314h2v2h-2zM338 314h2v2h-2zM342 314h4v2h-4zM350 314h2v2h-2zM356 314h2v2h-2zM360 314h4v2h-4zM370 314h4v2h-4zM378 314h6v2h-6zM390 314h2v2h-2zM396 314h2v2h-2zM400 314h4v2h-4zM412 314h4v2h-4zM424 314h18v2h-18zM446 314h6v2h-6zM460 314h12v2h-12zM474 314h4v2h-4zM484 314h4v2h-4zM492 314h2v2h-2zM338 316h2v2h-2zM344 316h2v2h-2zM348 316h4v2h-4zM356 316h8v2h-8zM376 316h6v2h-6zM386 316h4v2h-4zM392 316h2v2h-2zM408 316h4v2h-4zM422 316h6v2h-6zM430 316h12v2h-12zM448 316h2v2h-2zM466 316h2v2h-2zM470 316h4v2h-4zM482 316h4v2h-4zM492 316h2v2h-2zM498 316h4v2h-4zM312 318h2v2h-2zM340 318h2v2h-2zM350 318h4v2h-4zM360 318h4v2h-4zM370 318h2v2h-2zM378 318h6v2h-6zM386 318h2v2h-2zM390 318h2v2h-2zM396 318h2v2h-2zM404 318h2v2h-2zM408 318h8v2h-8zM428 318h2v2h-2zM450 318h8v2h-8zM478 318h6v2h-6zM492 318h8v2h-8zM280 320h2v2h-2zM344 320h8v2h-8zM356 320h6v2h-6zM368 320h16v2h-16zM386 320h10v2h-10zM398 320h2v2h-2zM402 320h2v2h-2zM408 320h8v2h-8zM422 320h2v2h-2zM426 320h6v2h-6zM442 320h4v2h-4zM450 320h6v2h-6zM464 320h2v2h-2zM468 320h10v2h-10zM338 322h8v2h-8zM350 322h6v2h-6zM358 322h6v2h-6zM366 322h8v2h-8zM380 322h2v2h-2zM384 322h18v2h-18zM406 322h10v2h-10zM418 322h2v2h-2zM428 322h2v2h-2zM432 322h2v2h-2zM442 322h8v2h-8zM454 322h2v2h-2zM460 322h14v2h-14zM480 322h2v2h-2zM486 322h4v2h-4zM512 322h2v2h-2zM284 324h2v2h-2zM346 324h2v2h-2zM350 324h2v2h-2zM356 324h2v2h-2zM360 324h2v2h-2zM364 324h4v2h-4zM370 324h8v2h-8zM382 324h6v2h-6zM390 324h12v2h-12zM404 324h8v2h-8zM414 324h4v2h-4zM422 324h12v2h-12zM438 324h2v2h-2zM442 324h32v2h-32zM478 324h8v2h-8zM488 324h2v2h-2zM346 326h4v2h-4zM356 326h2v2h-2zM360 326h14v2h-14zM378 326h2v2h-2zM386 326h2v2h-2zM390 326h8v2h-8zM400 326h8v2h-8zM410 326h10v2h-10zM428 326h4v2h-4zM438 326h6v2h-6zM446 326h8v2h-8zM458 326h10v2h-10zM478 326h10v2h-10zM490 326h4v2h-4zM510 326h2v2h-2zM544 326h2v2h-2zM556 326h2v2h-2zM336 328h4v2h-4zM346 328h2v2h-2zM352 328h4v2h-4zM360 328h22v2h-22zM384 328h2v2h-2zM388 328h14v2h-14zM404 328h4v2h-4zM414 328h4v2h-4zM424 328h4v2h-4zM430 328h2v2h-2zM438 328h2v2h-2zM450 328h2v2h-2zM458 328h10v2h-10zM480 328h14v2h-14zM562 328h2v2h-2zM340 330h2v2h-2zM350 330h4v2h-4zM360 330h4v2h-4zM366 330h22v2h-22zM394 330h6v2h-6zM402 330h4v2h-4zM414 330h6v2h-6zM426 330h2v2h-2zM430 330h8v2h-8zM456 330h10v2h-10zM486 330h6v2h-6zM538 330h2v2h-2zM552 330h2v2h-2zM338 332h4v2h-4zM344 332h4v2h-4zM352 332h2v2h-2zM360 332h2v2h-2zM364 332h10v2h-10zM376 332h20v2h-20zM398 332h18v2h-18zM426 332h10v2h-10zM444 332h18v2h-18zM466 332h8v2h-8zM340 334h2v2h-2zM344 334h2v2h-2zM352 334h2v2h-2zM356 334h2v2h-2zM360 334h4v2h-4zM368 334h2v2h-2zM372 334h4v2h-4zM378 334h8v2h-8zM388 334h12v2h-12zM408 334h2v2h-2zM412 334h2v2h-2zM416 334h2v2h-2zM430 334h6v2h-6zM440 334h4v2h-4zM446 334h2v2h-2zM450 334h20v2h-20zM556 334h2v2h-2zM324 336h2v2h-2zM342 336h2v2h-2zM354 336h8v2h-8zM364 336h2v2h-2zM368 336h2v2h-2zM374 336h8v2h-8zM384 336h8v2h-8zM394 336h2v2h-2zM404 336h2v2h-2zM414 336h2v2h-2zM440 336h2v2h-2zM462 336h8v2h-8zM486 336h2v2h-2zM528 336h2v2h-2zM312 338h2v2h-2zM340 338h4v2h-4zM346 338h4v2h-4zM354 338h2v2h-2zM358 338h2v2h-2zM366 338h2v2h-2zM370 338h18v2h-18zM390 338h2v2h-2zM400 338h2v2h-2zM410 338h4v2h-4zM422 338h4v2h-4zM466 338h4v2h-4zM312 340h2v2h-2zM328 340h2v2h-2zM342 340h2v2h-2zM346 340h2v2h-2zM354 340h4v2h-4zM366 340h6v2h-6zM374 340h2v2h-2zM378 340h6v2h-6zM392 340h2v2h-2zM398 340h2v2h-2zM402 340h6v2h-6zM322 342h2v2h-2zM338 342h2v2h-2zM342 342h2v2h-2zM348 342h20v2h-20zM370 342h4v2h-4zM376 342h2v2h-2zM382 342h6v2h-6zM390 342h4v2h-4zM396 342h2v2h-2zM408 342h4v2h-4zM442 342h4v2h-4zM618 342h2v2h-2zM264 344h2v2h-2zM270 344h2v2h-2zM286 344h2v2h-2zM296 344h2v2h-2zM300 344h2v2h-2zM312 344h2v2h-2zM320 344h2v2h-2zM332 344h4v2h-4zM348 344h2v2h-2zM354 344h10v2h-10zM366 344h6v2h-6zM374 344h16v2h-16zM406 344h12v2h-12zM442 344h2v2h-2zM286 346h2v2h-2zM348 346h4v2h-4zM354 346h6v2h-6zM362 346h20v2h-20zM386 346h2v2h-2zM396 346h2v2h-2zM406 346h10v2h-10zM426 346h4v2h-4zM432 346h4v2h-4zM438 346h6v2h-6zM450 346h4v2h-4zM498 346h2v2h-2zM534 346h2v2h-2zM664 346h2v2h-2zM340 348h2v2h-2zM344 348h4v2h-4zM356 348h18v2h-18zM378 348h4v2h-4zM390 348h6v2h-6zM422 348h2v2h-2zM434 348h4v2h-4zM450 348h12v2h-12zM536 348h2v2h-2zM604 348h6v2h-6zM612 348h2v2h-2zM622 348h2v2h-2zM654 348h4v2h-4zM664 348h2v2h-2zM684 348h2v2h-2zM308 350h2v2h-2zM318 350h4v2h-4zM342 350h2v2h-2zM346 350h4v2h-4zM354 350h16v2h-16zM390 350h4v2h-4zM396 350h4v2h-4zM404 350h2v2h-2zM408 350h2v2h-2zM432 350h2v2h-2zM448 350h14v2h-14zM464 350h4v2h-4zM552 350h2v2h-2zM610 350h2v2h-2zM624 350h2v2h-2zM658 350h8v2h-8zM298 352h2v2h-2zM334 352h2v2h-2zM340 352h2v2h-2zM344 352h2v2h-2zM354 352h12v2h-12zM368 352h10v2h-10zM386 352h16v2h-16zM422 352h2v2h-2zM444 352h10v2h-10zM456 352h2v2h-2zM588 352h6v2h-6zM608 352h4v2h-4zM658 352h8v2h-8zM264 354h2v2h-2zM318 354h2v2h-2zM322 354h2v2h-2zM326 354h2v2h-2zM334 354h2v2h-2zM340 354h2v2h-2zM346 354h2v2h-2zM354 354h4v2h-4zM362 354h2v2h-2zM368 354h6v2h-6zM384 354h4v2h-4zM390 354h6v2h-6zM398 354h4v2h-4zM420 354h6v2h-6zM432 354h2v2h-2zM444 354h2v2h-2zM448 354h4v2h-4zM458 354h2v2h-2zM464 354h4v2h-4zM484 354h2v2h-2zM560 354h2v2h-2zM568 354h2v2h-2zM584 354h2v2h-2zM588 354h6v2h-6zM606 354h6v2h-6zM658 354h12v2h-12zM278 356h2v2h-2zM292 356h2v2h-2zM314 356h4v2h-4zM334 356h2v2h-2zM346 356h2v2h-2zM352 356h6v2h-6zM362 356h8v2h-8zM378 356h6v2h-6zM388 356h2v2h-2zM394 356h2v2h-2zM426 356h2v2h-2zM434 356h2v2h-2zM438 356h4v2h-4zM456 356h2v2h-2zM466 356h2v2h-2zM586 356h10v2h-10zM606 356h2v2h-2zM656 356h14v2h-14zM726 356h2v2h-2zM308 358h6v2h-6zM316 358h6v2h-6zM326 358h2v2h-2zM332 358h2v2h-2zM338 358h2v2h-2zM346 358h6v2h-6zM356 358h4v2h-4zM364 358h6v2h-6zM376 358h6v2h-6zM388 358h6v2h-6zM436 358h6v2h-6zM452 358h4v2h-4zM564 358h2v2h-2zM588 358h10v2h-10zM656 358h4v2h-4zM664 358h2v2h-2zM304 360h2v2h-2zM308 360h2v2h-2zM330 360h2v2h-2zM336 360h2v2h-2zM348 360h6v2h-6zM360 360h10v2h-10zM372 360h10v2h-10zM384 360h4v2h-4zM390 360h2v2h-2zM436 360h6v2h-6zM450 360h6v2h-6zM482 360h2v2h-2zM588 360h2v2h-2zM592 360h8v2h-8zM650 360h4v2h-4zM664 360h2v2h-2zM668 360h2v2h-2zM672 360h2v2h-2zM750 360h2v2h-2zM296 362h4v2h-4zM324 362h6v2h-6zM336 362h4v2h-4zM344 362h4v2h-4zM352 362h16v2h-16zM380 362h2v2h-2zM386 362h2v2h-2zM390 362h2v2h-2zM416 362h2v2h-2zM424 362h2v2h-2zM442 362h2v2h-2zM450 362h4v2h-4zM596 362h2v2h-2zM626 362h2v2h-2zM654 362h2v2h-2zM658 362h6v2h-6zM666 362h4v2h-4zM742 362h4v2h-4zM306 364h2v2h-2zM310 364h8v2h-8zM322 364h4v2h-4zM328 364h2v2h-2zM336 364h2v2h-2zM344 364h2v2h-2zM352 364h4v2h-4zM358 364h4v2h-4zM390 364h4v2h-4zM398 364h2v2h-2zM418 364h2v2h-2zM422 364h2v2h-2zM430 364h2v2h-2zM450 364h4v2h-4zM660 364h10v2h-10zM680 364h4v2h-4zM738 364h2v2h-2zM742 364h2v2h-2zM286 366h2v2h-2zM292 366h2v2h-2zM308 366h2v2h-2zM322 366h2v2h-2zM340 366h2v2h-2zM348 366h2v2h-2zM356 366h2v2h-2zM394 366h4v2h-4zM414 366h6v2h-6zM422 366h2v2h-2zM426 366h6v2h-6zM440 366h2v2h-2zM450 366h2v2h-2zM660 366h8v2h-8zM680 366h4v2h-4zM718 366h2v2h-2zM736 366h2v2h-2zM308 368h2v2h-2zM316 368h2v2h-2zM330 368h4v2h-4zM398 368h6v2h-6zM410 368h10v2h-10zM430 368h2v2h-2zM434 368h2v2h-2zM450 368h2v2h-2zM582 368h6v2h-6zM660 368h2v2h-2zM666 368h2v2h-2zM682 368h2v2h-2zM726 368h2v2h-2zM738 368h4v2h-4zM754 368h2v2h-2zM314 370h2v2h-2zM318 370h2v2h-2zM322 370h2v2h-2zM328 370h6v2h-6zM352 370h2v2h-2zM380 370h2v2h-2zM388 370h2v2h-2zM392 370h4v2h-4zM398 370h4v2h-4zM408 370h14v2h-14zM424 370h2v2h-2zM432 370h8v2h-8zM442 370h8v2h-8zM640 370h2v2h-2zM658 370h2v2h-2zM666 370h2v2h-2zM686 370h2v2h-2zM690 370h2v2h-2zM754 370h4v2h-4zM280 372h2v2h-2zM314 372h2v2h-2zM326 372h6v2h-6zM378 372h4v2h-4zM386 372h16v2h-16zM410 372h4v2h-4zM416 372h6v2h-6zM426 372h16v2h-16zM560 372h2v2h-2zM658 372h2v2h-2zM666 372h4v2h-4zM686 372h8v2h-8zM758 372h2v2h-2zM318 374h2v2h-2zM322 374h2v2h-2zM346 374h2v2h-2zM354 374h2v2h-2zM360 374h4v2h-4zM378 374h2v2h-2zM386 374h4v2h-4zM394 374h6v2h-6zM412 374h4v2h-4zM422 374h16v2h-16zM552 374h6v2h-6zM562 374h2v2h-2zM580 374h2v2h-2zM636 374h6v2h-6zM664 374h2v2h-2zM668 374h6v2h-6zM690 374h8v2h-8zM754 374h6v2h-6zM300 376h2v2h-2zM310 376h2v2h-2zM320 376h6v2h-6zM332 376h6v2h-6zM346 376h6v2h-6zM360 376h2v2h-2zM380 376h2v2h-2zM386 376h2v2h-2zM392 376h8v2h-8zM412 376h6v2h-6zM420 376h4v2h-4zM426 376h18v2h-18zM580 376h2v2h-2zM636 376h6v2h-6zM650 376h6v2h-6zM666 376h2v2h-2zM672 376h4v2h-4zM684 376h14v2h-14zM736 376h2v2h-2zM754 376h4v2h-4zM282 378h2v2h-2zM320 378h4v2h-4zM330 378h8v2h-8zM340 378h6v2h-6zM384 378h12v2h-12zM404 378h8v2h-8zM414 378h2v2h-2zM418 378h2v2h-2zM422 378h2v2h-2zM426 378h16v2h-16zM580 378h2v2h-2zM628 378h4v2h-4zM636 378h4v2h-4zM648 378h8v2h-8zM672 378h8v2h-8zM686 378h12v2h-12zM734 378h6v2h-6zM754 378h4v2h-4zM318 380h2v2h-2zM336 380h4v2h-4zM344 380h12v2h-12zM382 380h2v2h-2zM388 380h6v2h-6zM396 380h4v2h-4zM406 380h4v2h-4zM412 380h2v2h-2zM416 380h2v2h-2zM420 380h6v2h-6zM428 380h12v2h-12zM580 380h4v2h-4zM628 380h4v2h-4zM648 380h6v2h-6zM676 380h6v2h-6zM684 380h4v2h-4zM690 380h8v2h-8zM766 380h2v2h-2zM260 382h2v2h-2zM280 382h2v2h-2zM284 382h2v2h-2zM326 382h2v2h-2zM336 382h2v2h-2zM350 382h4v2h-4zM358 382h2v2h-2zM392 382h16v2h-16zM410 382h2v2h-2zM414 382h6v2h-6zM578 382h6v2h-6zM630 382h2v2h-2zM644 382h2v2h-2zM648 382h6v2h-6zM666 382h4v2h-4zM678 382h2v2h-2zM684 382h2v2h-2zM690 382h4v2h-4zM696 382h2v2h-2zM762 382h2v2h-2zM774 382h2v2h-2zM264 384h2v2h-2zM270 384h4v2h-4zM338 384h4v2h-4zM344 384h8v2h-8zM354 384h4v2h-4zM360 384h4v2h-4zM394 384h24v2h-24zM582 384h4v2h-4zM616 384h4v2h-4zM628 384h4v2h-4zM642 384h2v2h-2zM650 384h4v2h-4zM666 384h4v2h-4zM676 384h2v2h-2zM698 384h6v2h-6zM266 386h2v2h-2zM270 386h2v2h-2zM338 386h20v2h-20zM360 386h4v2h-4zM380 386h4v2h-4zM386 386h2v2h-2zM396 386h4v2h-4zM406 386h10v2h-10zM572 386h4v2h-4zM584 386h2v2h-2zM642 386h8v2h-8zM666 386h4v2h-4zM678 386h2v2h-2zM264 388h2v2h-2zM268 388h2v2h-2zM286 388h2v2h-2zM318 388h2v2h-2zM336 388h18v2h-18zM362 388h4v2h-4zM380 388h4v2h-4zM402 388h10v2h-10zM416 388h2v2h-2zM568 388h10v2h-10zM586 388h2v2h-2zM620 388h2v2h-2zM640 388h12v2h-12zM680 388h2v2h-2zM742 388h4v2h-4zM266 390h4v2h-4zM318 390h2v2h-2zM336 390h12v2h-12zM360 390h10v2h-10zM392 390h4v2h-4zM402 390h6v2h-6zM410 390h6v2h-6zM568 390h4v2h-4zM574 390h4v2h-4zM586 390h4v2h-4zM640 390h12v2h-12zM680 390h2v2h-2zM688 390h2v2h-2zM740 390h2v2h-2zM260 392h8v2h-8zM274 392h2v2h-2zM336 392h4v2h-4zM346 392h4v2h-4zM362 392h6v2h-6zM392 392h4v2h-4zM400 392h4v2h-4zM554 392h2v2h-2zM558 392h2v2h-2zM570 392h20v2h-20zM634 392h2v2h-2zM642 392h14v2h-14zM676 392h6v2h-6zM684 392h6v2h-6zM692 392h4v2h-4zM772 392h2v2h-2zM260 394h4v2h-4zM266 394h2v2h-2zM284 394h2v2h-2zM304 394h2v2h-2zM346 394h4v2h-4zM370 394h2v2h-2zM374 394h10v2h-10zM564 394h2v2h-2zM574 394h2v2h-2zM580 394h12v2h-12zM632 394h4v2h-4zM644 394h14v2h-14zM672 394h4v2h-4zM680 394h4v2h-4zM732 394h8v2h-8zM750 394h4v2h-4zM762 394h2v2h-2zM260 396h2v2h-2zM348 396h2v2h-2zM368 396h2v2h-2zM376 396h4v2h-4zM382 396h2v2h-2zM396 396h2v2h-2zM406 396h10v2h-10zM436 396h2v2h-2zM634 396h2v2h-2zM644 396h16v2h-16zM690 396h2v2h-2zM750 396h2v2h-2zM762 396h6v2h-6zM258 398h4v2h-4zM294 398h2v2h-2zM298 398h2v2h-2zM312 398h2v2h-2zM354 398h2v2h-2zM358 398h2v2h-2zM362 398h6v2h-6zM376 398h6v2h-6zM390 398h10v2h-10zM410 398h4v2h-4zM556 398h2v2h-2zM576 398h2v2h-2zM634 398h4v2h-4zM644 398h18v2h-18zM674 398h2v2h-2zM678 398h2v2h-2zM692 398h2v2h-2zM750 398h2v2h-2zM262 400h2v2h-2zM338 400h2v2h-2zM354 400h10v2h-10zM366 400h4v2h-4zM374 400h8v2h-8zM390 400h10v2h-10zM558 400h2v2h-2zM576 400h6v2h-6zM628 400h2v2h-2zM632 400h32v2h-32zM670 400h10v2h-10zM686 400h6v2h-6zM750 400h4v2h-4zM258 402h2v2h-2zM262 402h2v2h-2zM266 402h2v2h-2zM290 402h2v2h-2zM336 402h2v2h-2zM350 402h6v2h-6zM358 402h6v2h-6zM366 402h2v2h-2zM372 402h6v2h-6zM380 402h2v2h-2zM392 402h8v2h-8zM422 402h2v2h-2zM558 402h4v2h-4zM576 402h6v2h-6zM630 402h4v2h-4zM640 402h42v2h-42zM684 402h4v2h-4zM692 402h2v2h-2zM732 402h2v2h-2zM352 404h10v2h-10zM364 404h4v2h-4zM374 404h2v2h-2zM380 404h2v2h-2zM574 404h12v2h-12zM616 404h4v2h-4zM624 404h10v2h-10zM640 404h40v2h-40zM682 404h2v2h-2zM692 404h2v2h-2zM256 406h2v2h-2zM352 406h6v2h-6zM360 406h8v2h-8zM376 406h8v2h-8zM556 406h4v2h-4zM572 406h16v2h-16zM614 406h66v2h-66zM682 406h2v2h-2zM688 406h6v2h-6zM740 406h2v2h-2zM760 406h2v2h-2zM252 408h2v2h-2zM354 408h4v2h-4zM360 408h4v2h-4zM366 408h2v2h-2zM370 408h12v2h-12zM554 408h4v2h-4zM576 408h4v2h-4zM582 408h6v2h-6zM614 408h28v2h-28zM646 408h20v2h-20zM668 408h6v2h-6zM684 408h4v2h-4zM716 408h2v2h-2zM738 408h2v2h-2zM254 410h2v2h-2zM258 410h2v2h-2zM294 410h2v2h-2zM354 410h6v2h-6zM364 410h22v2h-22zM442 410h2v2h-2zM574 410h2v2h-2zM582 410h2v2h-2zM586 410h2v2h-2zM594 410h2v2h-2zM616 410h10v2h-10zM628 410h44v2h-44zM688 410h2v2h-2zM716 410h2v2h-2zM736 410h2v2h-2zM758 410h2v2h-2zM764 410h2v2h-2zM252 412h4v2h-4zM258 412h6v2h-6zM278 412h2v2h-2zM282 412h2v2h-2zM304 412h6v2h-6zM328 412h8v2h-8zM348 412h6v2h-6zM356 412h8v2h-8zM370 412h12v2h-12zM386 412h2v2h-2zM440 412h2v2h-2zM482 412h2v2h-2zM574 412h2v2h-2zM584 412h2v2h-2zM616 412h10v2h-10zM628 412h10v2h-10zM640 412h20v2h-20zM662 412h2v2h-2zM668 412h6v2h-6zM708 412h2v2h-2zM716 412h2v2h-2zM734 412h2v2h-2zM250 414h10v2h-10zM262 414h2v2h-2zM326 414h8v2h-8zM344 414h2v2h-2zM348 414h8v2h-8zM358 414h2v2h-2zM362 414h2v2h-2zM366 414h16v2h-16zM402 414h4v2h-4zM410 414h6v2h-6zM428 414h2v2h-2zM436 414h6v2h-6zM566 414h2v2h-2zM570 414h6v2h-6zM584 414h2v2h-2zM620 414h2v2h-2zM626 414h8v2h-8zM636 414h2v2h-2zM640 414h6v2h-6zM650 414h10v2h-10zM662 414h2v2h-2zM666 414h2v2h-2zM732 414h2v2h-2zM248 416h2v2h-2zM252 416h2v2h-2zM256 416h4v2h-4zM262 416h2v2h-2zM268 416h2v2h-2zM308 416h2v2h-2zM314 416h2v2h-2zM326 416h10v2h-10zM364 416h4v2h-4zM374 416h4v2h-4zM382 416h2v2h-2zM388 416h4v2h-4zM406 416h6v2h-6zM428 416h4v2h-4zM440 416h6v2h-6zM464 416h12v2h-12zM478 416h6v2h-6zM544 416h4v2h-4zM550 416h4v2h-4zM556 416h2v2h-2zM566 416h2v2h-2zM572 416h4v2h-4zM580 416h2v2h-2zM586 416h2v2h-2zM628 416h2v2h-2zM632 416h18v2h-18zM652 416h12v2h-12zM734 416h2v2h-2zM758 416h2v2h-2zM762 416h2v2h-2zM248 418h8v2h-8zM262 418h2v2h-2zM266 418h4v2h-4zM314 418h2v2h-2zM324 418h14v2h-14zM374 418h2v2h-2zM388 418h4v2h-4zM420 418h2v2h-2zM430 418h2v2h-2zM448 418h2v2h-2zM464 418h16v2h-16zM542 418h2v2h-2zM568 418h2v2h-2zM588 418h4v2h-4zM630 418h20v2h-20zM654 418h10v2h-10zM740 418h2v2h-2zM744 418h2v2h-2zM758 418h6v2h-6zM250 420h2v2h-2zM254 420h6v2h-6zM264 420h8v2h-8zM314 420h2v2h-2zM322 420h6v2h-6zM330 420h6v2h-6zM340 420h2v2h-2zM402 420h2v2h-2zM420 420h2v2h-2zM426 420h4v2h-4zM436 420h2v2h-2zM448 420h4v2h-4zM464 420h18v2h-18zM488 420h4v2h-4zM494 420h4v2h-4zM560 420h2v2h-2zM568 420h2v2h-2zM572 420h2v2h-2zM576 420h4v2h-4zM590 420h4v2h-4zM630 420h2v2h-2zM636 420h6v2h-6zM644 420h22v2h-22zM738 420h6v2h-6zM746 420h2v2h-2zM756 420h8v2h-8zM246 422h2v2h-2zM252 422h8v2h-8zM270 422h2v2h-2zM314 422h2v2h-2zM318 422h2v2h-2zM322 422h2v2h-2zM326 422h10v2h-10zM400 422h2v2h-2zM404 422h8v2h-8zM422 422h4v2h-4zM428 422h2v2h-2zM434 422h10v2h-10zM446 422h16v2h-16zM464 422h2v2h-2zM468 422h24v2h-24zM494 422h4v2h-4zM560 422h2v2h-2zM578 422h2v2h-2zM594 422h4v2h-4zM634 422h4v2h-4zM642 422h10v2h-10zM654 422h6v2h-6zM662 422h14v2h-14zM738 422h6v2h-6zM764 422h2v2h-2zM246 424h2v2h-2zM250 424h2v2h-2zM258 424h2v2h-2zM264 424h2v2h-2zM268 424h4v2h-4zM310 424h2v2h-2zM320 424h4v2h-4zM326 424h4v2h-4zM404 424h6v2h-6zM422 424h2v2h-2zM434 424h6v2h-6zM446 424h4v2h-4zM460 424h4v2h-4zM468 424h30v2h-30zM560 424h4v2h-4zM608 424h2v2h-2zM642 424h10v2h-10zM654 424h4v2h-4zM664 424h8v2h-8zM738 424h14v2h-14zM252 426h4v2h-4zM262 426h2v2h-2zM310 426h4v2h-4zM324 426h2v2h-2zM328 426h2v2h-2zM370 426h2v2h-2zM406 426h4v2h-4zM432 426h8v2h-8zM448 426h2v2h-2zM470 426h12v2h-12zM484 426h6v2h-6zM492 426h2v2h-2zM540 426h2v2h-2zM560 426h2v2h-2zM576 426h2v2h-2zM642 426h4v2h-4zM660 426h2v2h-2zM664 426h2v2h-2zM738 426h2v2h-2zM748 426h4v2h-4zM248 428h2v2h-2zM252 428h4v2h-4zM310 428h4v2h-4zM318 428h2v2h-2zM322 428h2v2h-2zM380 428h4v2h-4zM386 428h2v2h-2zM394 428h2v2h-2zM400 428h2v2h-2zM404 428h12v2h-12zM420 428h6v2h-6zM434 428h6v2h-6zM444 428h6v2h-6zM464 428h16v2h-16zM482 428h8v2h-8zM494 428h2v2h-2zM504 428h2v2h-2zM534 428h2v2h-2zM554 428h4v2h-4zM576 428h2v2h-2zM642 428h4v2h-4zM736 428h4v2h-4zM756 428h2v2h-2zM760 428h2v2h-2zM764 428h2v2h-2zM308 430h2v2h-2zM322 430h4v2h-4zM334 430h2v2h-2zM342 430h2v2h-2zM376 430h10v2h-10zM388 430h2v2h-2zM400 430h10v2h-10zM414 430h2v2h-2zM418 430h8v2h-8zM430 430h2v2h-2zM434 430h2v2h-2zM438 430h8v2h-8zM452 430h2v2h-2zM458 430h2v2h-2zM464 430h2v2h-2zM468 430h8v2h-8zM484 430h6v2h-6zM492 430h4v2h-4zM498 430h2v2h-2zM504 430h2v2h-2zM538 430h2v2h-2zM542 430h4v2h-4zM552 430h2v2h-2zM564 430h2v2h-2zM576 430h4v2h-4zM644 430h2v2h-2zM670 430h6v2h-6zM734 430h4v2h-4zM756 430h8v2h-8zM248 432h2v2h-2zM256 432h4v2h-4zM302 432h2v2h-2zM308 432h4v2h-4zM320 432h4v2h-4zM330 432h4v2h-4zM372 432h2v2h-2zM376 432h10v2h-10zM398 432h12v2h-12zM418 432h4v2h-4zM432 432h2v2h-2zM436 432h6v2h-6zM454 432h6v2h-6zM464 432h10v2h-10zM482 432h6v2h-6zM490 432h2v2h-2zM494 432h2v2h-2zM508 432h2v2h-2zM534 432h4v2h-4zM542 432h4v2h-4zM576 432h6v2h-6zM584 432h4v2h-4zM600 432h2v2h-2zM620 432h2v2h-2zM664 432h10v2h-10zM732 432h4v2h-4zM758 432h6v2h-6zM246 434h2v2h-2zM256 434h2v2h-2zM308 434h6v2h-6zM316 434h6v2h-6zM328 434h6v2h-6zM378 434h8v2h-8zM398 434h2v2h-2zM404 434h4v2h-4zM418 434h2v2h-2zM430 434h2v2h-2zM436 434h4v2h-4zM442 434h2v2h-2zM454 434h2v2h-2zM462 434h4v2h-4zM472 434h2v2h-2zM478 434h2v2h-2zM486 434h2v2h-2zM490 434h10v2h-10zM536 434h2v2h-2zM544 434h2v2h-2zM578 434h4v2h-4zM620 434h2v2h-2zM664 434h2v2h-2zM758 434h2v2h-2zM246 436h4v2h-4zM298 436h4v2h-4zM318 436h4v2h-4zM324 436h6v2h-6zM332 436h2v2h-2zM370 436h16v2h-16zM396 436h2v2h-2zM402 436h8v2h-8zM420 436h4v2h-4zM428 436h4v2h-4zM434 436h6v2h-6zM444 436h2v2h-2zM448 436h2v2h-2zM454 436h2v2h-2zM462 436h2v2h-2zM472 436h2v2h-2zM480 436h2v2h-2zM484 436h4v2h-4zM494 436h4v2h-4zM500 436h2v2h-2zM512 436h4v2h-4zM538 436h12v2h-12zM580 436h2v2h-2zM620 436h8v2h-8zM648 436h4v2h-4zM662 436h6v2h-6zM756 436h4v2h-4zM248 438h2v2h-2zM300 438h2v2h-2zM306 438h6v2h-6zM318 438h2v2h-2zM330 438h2v2h-2zM370 438h2v2h-2zM374 438h4v2h-4zM380 438h2v2h-2zM386 438h4v2h-4zM394 438h18v2h-18zM416 438h4v2h-4zM424 438h6v2h-6zM434 438h2v2h-2zM440 438h2v2h-2zM450 438h8v2h-8zM466 438h2v2h-2zM472 438h2v2h-2zM476 438h6v2h-6zM486 438h2v2h-2zM496 438h6v2h-6zM510 438h2v2h-2zM514 438h2v2h-2zM538 438h6v2h-6zM584 438h4v2h-4zM616 438h14v2h-14zM642 438h2v2h-2zM648 438h2v2h-2zM662 438h2v2h-2zM668 438h2v2h-2zM674 438h4v2h-4zM754 438h6v2h-6zM244 440h2v2h-2zM258 440h2v2h-2zM306 440h8v2h-8zM316 440h2v2h-2zM324 440h4v2h-4zM374 440h2v2h-2zM378 440h2v2h-2zM384 440h4v2h-4zM390 440h2v2h-2zM394 440h12v2h-12zM412 440h6v2h-6zM424 440h4v2h-4zM434 440h2v2h-2zM442 440h12v2h-12zM456 440h14v2h-14zM472 440h6v2h-6zM486 440h2v2h-2zM504 440h10v2h-10zM524 440h2v2h-2zM584 440h2v2h-2zM614 440h2v2h-2zM620 440h8v2h-8zM660 440h2v2h-2zM256 442h2v2h-2zM302 442h16v2h-16zM320 442h4v2h-4zM374 442h2v2h-2zM378 442h2v2h-2zM382 442h6v2h-6zM390 442h6v2h-6zM398 442h4v2h-4zM404 442h4v2h-4zM410 442h6v2h-6zM426 442h2v2h-2zM436 442h8v2h-8zM446 442h6v2h-6zM456 442h10v2h-10zM468 442h8v2h-8zM478 442h2v2h-2zM486 442h2v2h-2zM490 442h2v2h-2zM502 442h8v2h-8zM522 442h2v2h-2zM532 442h4v2h-4zM572 442h2v2h-2zM582 442h2v2h-2zM610 442h6v2h-6zM622 442h6v2h-6zM754 442h2v2h-2zM264 444h2v2h-2zM304 444h14v2h-14zM370 444h4v2h-4zM382 444h14v2h-14zM400 444h2v2h-2zM404 444h2v2h-2zM408 444h10v2h-10zM422 444h4v2h-4zM430 444h6v2h-6zM438 444h14v2h-14zM456 444h6v2h-6zM464 444h8v2h-8zM482 444h2v2h-2zM488 444h2v2h-2zM492 444h2v2h-2zM496 444h2v2h-2zM504 444h8v2h-8zM514 444h2v2h-2zM532 444h2v2h-2zM536 444h2v2h-2zM610 444h6v2h-6zM624 444h2v2h-2zM632 444h4v2h-4zM750 444h2v2h-2zM306 446h12v2h-12zM374 446h2v2h-2zM378 446h2v2h-2zM382 446h4v2h-4zM388 446h8v2h-8zM412 446h6v2h-6zM424 446h2v2h-2zM428 446h2v2h-2zM432 446h2v2h-2zM440 446h8v2h-8zM450 446h14v2h-14zM466 446h4v2h-4zM488 446h2v2h-2zM498 446h2v2h-2zM506 446h4v2h-4zM516 446h4v2h-4zM614 446h2v2h-2zM752 446h4v2h-4zM314 448h4v2h-4zM328 448h2v2h-2zM338 448h2v2h-2zM366 448h14v2h-14zM386 448h4v2h-4zM394 448h4v2h-4zM406 448h2v2h-2zM414 448h8v2h-8zM424 448h2v2h-2zM428 448h36v2h-36zM466 448h4v2h-4zM482 448h2v2h-2zM488 448h2v2h-2zM498 448h8v2h-8zM560 448h2v2h-2zM580 448h2v2h-2zM608 448h10v2h-10zM626 448h2v2h-2zM630 448h2v2h-2zM752 448h6v2h-6zM310 450h2v2h-2zM316 450h2v2h-2zM328 450h4v2h-4zM360 450h14v2h-14zM376 450h4v2h-4zM384 450h2v2h-2zM398 450h2v2h-2zM402 450h4v2h-4zM408 450h2v2h-2zM426 450h24v2h-24zM452 450h12v2h-12zM474 450h16v2h-16zM494 450h6v2h-6zM534 450h2v2h-2zM602 450h6v2h-6zM612 450h10v2h-10zM254 452h2v2h-2zM316 452h4v2h-4zM354 452h2v2h-2zM360 452h2v2h-2zM364 452h10v2h-10zM376 452h2v2h-2zM380 452h6v2h-6zM390 452h2v2h-2zM396 452h4v2h-4zM406 452h2v2h-2zM420 452h6v2h-6zM428 452h2v2h-2zM432 452h2v2h-2zM436 452h12v2h-12zM450 452h2v2h-2zM456 452h4v2h-4zM466 452h2v2h-2zM474 452h20v2h-20zM498 452h2v2h-2zM506 452h4v2h-4zM512 452h2v2h-2zM536 452h6v2h-6zM614 452h2v2h-2zM304 454h2v2h-2zM308 454h2v2h-2zM314 454h6v2h-6zM338 454h4v2h-4zM362 454h16v2h-16zM380 454h6v2h-6zM388 454h2v2h-2zM394 454h4v2h-4zM408 454h2v2h-2zM420 454h10v2h-10zM438 454h6v2h-6zM452 454h4v2h-4zM458 454h2v2h-2zM462 454h2v2h-2zM476 454h20v2h-20zM498 454h2v2h-2zM502 454h2v2h-2zM506 454h6v2h-6zM560 454h2v2h-2zM582 454h2v2h-2zM304 456h8v2h-8zM318 456h2v2h-2zM340 456h2v2h-2zM366 456h22v2h-22zM392 456h8v2h-8zM404 456h6v2h-6zM420 456h4v2h-4zM428 456h2v2h-2zM442 456h2v2h-2zM446 456h2v2h-2zM452 456h8v2h-8zM478 456h16v2h-16zM496 456h4v2h-4zM502 456h2v2h-2zM506 456h2v2h-2zM532 456h2v2h-2zM590 456h2v2h-2zM612 456h4v2h-4zM304 458h6v2h-6zM352 458h2v2h-2zM364 458h12v2h-12zM382 458h4v2h-4zM388 458h10v2h-10zM402 458h8v2h-8zM420 458h6v2h-6zM428 458h2v2h-2zM444 458h14v2h-14zM482 458h8v2h-8zM498 458h6v2h-6zM578 458h2v2h-2zM582 458h2v2h-2zM308 460h2v2h-2zM322 460h2v2h-2zM364 460h4v2h-4zM372 460h2v2h-2zM380 460h2v2h-2zM386 460h12v2h-12zM408 460h2v2h-2zM420 460h4v2h-4zM426 460h2v2h-2zM432 460h2v2h-2zM444 460h8v2h-8zM466 460h2v2h-2zM476 460h2v2h-2zM498 460h2v2h-2zM300 462h8v2h-8zM318 462h4v2h-4zM328 462h2v2h-2zM360 462h4v2h-4zM368 462h2v2h-2zM374 462h2v2h-2zM378 462h4v2h-4zM384 462h14v2h-14zM402 462h2v2h-2zM412 462h2v2h-2zM420 462h4v2h-4zM444 462h6v2h-6zM456 462h2v2h-2zM468 462h2v2h-2zM476 462h2v2h-2zM494 462h8v2h-8zM544 462h2v2h-2zM548 462h2v2h-2zM596 462h2v2h-2zM296 464h2v2h-2zM302 464h2v2h-2zM324 464h2v2h-2zM332 464h2v2h-2zM356 464h10v2h-10zM372 464h2v2h-2zM376 464h22v2h-22zM402 464h2v2h-2zM406 464h8v2h-8zM420 464h6v2h-6zM444 464h4v2h-4zM450 464h2v2h-2zM454 464h2v2h-2zM492 464h10v2h-10zM504 464h2v2h-2zM554 464h2v2h-2zM596 464h2v2h-2zM286 466h2v2h-2zM302 466h4v2h-4zM322 466h8v2h-8zM334 466h8v2h-8zM350 466h2v2h-2zM354 466h14v2h-14zM372 466h16v2h-16zM390 466h8v2h-8zM402 466h2v2h-2zM410 466h8v2h-8zM420 466h4v2h-4zM446 466h4v2h-4zM452 466h4v2h-4zM460 466h8v2h-8zM498 466h4v2h-4zM556 466h2v2h-2zM572 466h2v2h-2zM294 468h2v2h-2zM302 468h2v2h-2zM308 468h2v2h-2zM322 468h8v2h-8zM332 468h2v2h-2zM342 468h6v2h-6zM352 468h12v2h-12zM368 468h14v2h-14zM386 468h2v2h-2zM390 468h2v2h-2zM408 468h2v2h-2zM412 468h6v2h-6zM422 468h2v2h-2zM428 468h2v2h-2zM436 468h10v2h-10zM458 468h2v2h-2zM462 468h6v2h-6zM542 468h6v2h-6zM312 470h6v2h-6zM320 470h2v2h-2zM326 470h6v2h-6zM334 470h2v2h-2zM340 470h26v2h-26zM370 470h2v2h-2zM376 470h4v2h-4zM382 470h8v2h-8zM398 470h6v2h-6zM424 470h4v2h-4zM430 470h16v2h-16zM452 470h2v2h-2zM456 470h2v2h-2zM462 470h6v2h-6zM494 470h4v2h-4zM546 470h6v2h-6zM304 472h2v2h-2zM308 472h2v2h-2zM320 472h12v2h-12zM334 472h28v2h-28zM364 472h16v2h-16zM382 472h6v2h-6zM400 472h10v2h-10zM422 472h2v2h-2zM428 472h2v2h-2zM432 472h8v2h-8zM452 472h2v2h-2zM464 472h4v2h-4zM470 472h6v2h-6zM490 472h2v2h-2zM536 472h2v2h-2zM546 472h8v2h-8zM292 474h4v2h-4zM300 474h2v2h-2zM318 474h10v2h-10zM332 474h2v2h-2zM338 474h38v2h-38zM378 474h10v2h-10zM402 474h8v2h-8zM430 474h8v2h-8zM470 474h10v2h-10zM484 474h2v2h-2zM552 474h2v2h-2zM292 476h4v2h-4zM312 476h2v2h-2zM316 476h10v2h-10zM332 476h10v2h-10zM348 476h6v2h-6zM360 476h2v2h-2zM366 476h2v2h-2zM370 476h4v2h-4zM408 476h2v2h-2zM422 476h2v2h-2zM428 476h2v2h-2zM432 476h6v2h-6zM470 476h12v2h-12zM486 476h2v2h-2zM494 476h2v2h-2zM500 476h2v2h-2zM510 476h2v2h-2zM538 476h2v2h-2zM594 476h2v2h-2zM268 478h2v2h-2zM278 478h2v2h-2zM308 478h2v2h-2zM314 478h2v2h-2zM322 478h22v2h-22zM350 478h2v2h-2zM354 478h6v2h-6zM364 478h2v2h-2zM368 478h12v2h-12zM392 478h6v2h-6zM408 478h2v2h-2zM420 478h2v2h-2zM430 478h6v2h-6zM444 478h12v2h-12zM472 478h22v2h-22zM496 478h2v2h-2zM500 478h4v2h-4zM510 478h2v2h-2zM270 480h2v2h-2zM274 480h6v2h-6zM282 480h2v2h-2zM304 480h2v2h-2zM320 480h14v2h-14zM336 480h12v2h-12zM356 480h4v2h-4zM362 480h18v2h-18zM388 480h2v2h-2zM398 480h8v2h-8zM408 480h12v2h-12zM428 480h8v2h-8zM442 480h16v2h-16zM460 480h6v2h-6zM470 480h34v2h-34zM512 480h2v2h-2zM268 482h2v2h-2zM276 482h8v2h-8zM318 482h16v2h-16zM336 482h14v2h-14zM352 482h26v2h-26zM386 482h2v2h-2zM390 482h2v2h-2zM400 482h2v2h-2zM404 482h2v2h-2zM408 482h6v2h-6zM416 482h2v2h-2zM428 482h10v2h-10zM440 482h8v2h-8zM454 482h2v2h-2zM458 482h8v2h-8zM468 482h20v2h-20zM490 482h10v2h-10zM602 482h2v2h-2zM238 484h2v2h-2zM266 484h2v2h-2zM270 484h2v2h-2zM276 484h8v2h-8zM288 484h2v2h-2zM320 484h4v2h-4zM326 484h2v2h-2zM330 484h2v2h-2zM336 484h4v2h-4zM344 484h18v2h-18zM364 484h16v2h-16zM386 484h12v2h-12zM400 484h4v2h-4zM406 484h2v2h-2zM412 484h4v2h-4zM420 484h24v2h-24zM448 484h2v2h-2zM454 484h12v2h-12zM472 484h4v2h-4zM484 484h2v2h-2zM488 484h14v2h-14zM504 484h2v2h-2zM540 484h2v2h-2zM620 484h2v2h-2zM644 484h4v2h-4zM266 486h4v2h-4zM278 486h4v2h-4zM320 486h8v2h-8zM332 486h6v2h-6zM342 486h20v2h-20zM364 486h16v2h-16zM386 486h6v2h-6zM394 486h2v2h-2zM398 486h4v2h-4zM408 486h2v2h-2zM412 486h4v2h-4zM420 486h22v2h-22zM444 486h2v2h-2zM452 486h10v2h-10zM470 486h4v2h-4zM490 486h8v2h-8zM500 486h4v2h-4zM268 488h2v2h-2zM322 488h2v2h-2zM330 488h38v2h-38zM370 488h6v2h-6zM386 488h8v2h-8zM396 488h2v2h-2zM400 488h6v2h-6zM408 488h2v2h-2zM412 488h4v2h-4zM420 488h2v2h-2zM424 488h2v2h-2zM428 488h12v2h-12zM456 488h8v2h-8zM468 488h2v2h-2zM480 488h4v2h-4zM490 488h8v2h-8zM502 488h6v2h-6zM646 488h2v2h-2zM262 490h2v2h-2zM322 490h46v2h-46zM370 490h8v2h-8zM382 490h2v2h-2zM386 490h4v2h-4zM394 490h16v2h-16zM420 490h6v2h-6zM428 490h6v2h-6zM444 490h2v2h-2zM450 490h2v2h-2zM454 490h2v2h-2zM464 490h4v2h-4zM478 490h12v2h-12zM496 490h4v2h-4zM504 490h6v2h-6zM524 490h6v2h-6zM602 490h2v2h-2zM608 490h2v2h-2zM256 492h10v2h-10zM298 492h4v2h-4zM322 492h58v2h-58zM388 492h18v2h-18zM420 492h6v2h-6zM428 492h6v2h-6zM442 492h8v2h-8zM460 492h6v2h-6zM480 492h10v2h-10zM504 492h4v2h-4zM522 492h6v2h-6zM262 494h4v2h-4zM284 494h2v2h-2zM320 494h12v2h-12zM334 494h20v2h-20zM358 494h18v2h-18zM378 494h4v2h-4zM384 494h8v2h-8zM394 494h6v2h-6zM406 494h2v2h-2zM410 494h2v2h-2zM420 494h4v2h-4zM430 494h4v2h-4zM440 494h10v2h-10zM462 494h8v2h-8zM478 494h10v2h-10zM496 494h12v2h-12zM522 494h2v2h-2zM280 496h4v2h-4zM290 496h4v2h-4zM304 496h2v2h-2zM308 496h4v2h-4zM314 496h18v2h-18zM334 496h14v2h-14zM350 496h2v2h-2zM356 496h2v2h-2zM360 496h18v2h-18zM380 496h10v2h-10zM394 496h4v2h-4zM406 496h6v2h-6zM430 496h4v2h-4zM440 496h12v2h-12zM454 496h2v2h-2zM460 496h2v2h-2zM464 496h2v2h-2zM468 496h2v2h-2zM476 496h6v2h-6zM484 496h6v2h-6zM494 496h2v2h-2zM504 496h4v2h-4zM524 496h10v2h-10zM280 498h2v2h-2zM286 498h2v2h-2zM290 498h2v2h-2zM310 498h36v2h-36zM348 498h6v2h-6zM356 498h12v2h-12zM370 498h6v2h-6zM380 498h12v2h-12zM394 498h2v2h-2zM420 498h2v2h-2zM430 498h14v2h-14zM450 498h22v2h-22zM478 498h2v2h-2zM484 498h10v2h-10zM506 498h4v2h-4zM526 498h8v2h-8zM308 500h8v2h-8zM322 500h16v2h-16zM342 500h12v2h-12zM356 500h20v2h-20zM380 500h14v2h-14zM416 500h28v2h-28zM448 500h4v2h-4zM456 500h4v2h-4zM462 500h4v2h-4zM468 500h18v2h-18zM488 500h4v2h-4zM500 500h12v2h-12zM514 500h2v2h-2zM524 500h2v2h-2zM530 500h6v2h-6zM310 502h28v2h-28zM342 502h28v2h-28zM372 502h2v2h-2zM378 502h16v2h-16zM416 502h18v2h-18zM442 502h10v2h-10zM456 502h2v2h-2zM460 502h2v2h-2zM464 502h4v2h-4zM472 502h8v2h-8zM482 502h10v2h-10zM498 502h2v2h-2zM504 502h12v2h-12zM520 502h4v2h-4zM746 502h2v2h-2zM314 504h4v2h-4zM324 504h8v2h-8zM334 504h36v2h-36zM374 504h2v2h-2zM380 504h2v2h-2zM384 504h8v2h-8zM394 504h4v2h-4zM410 504h2v2h-2zM414 504h8v2h-8zM428 504h6v2h-6zM444 504h12v2h-12zM462 504h6v2h-6zM474 504h14v2h-14zM500 504h2v2h-2zM506 504h10v2h-10zM522 504h6v2h-6zM534 504h2v2h-2zM686 504h2v2h-2zM742 504h2v2h-2zM328 506h6v2h-6zM336 506h8v2h-8zM346 506h22v2h-22zM372 506h24v2h-24zM408 506h12v2h-12zM428 506h6v2h-6zM440 506h16v2h-16zM462 506h6v2h-6zM476 506h8v2h-8zM514 506h2v2h-2zM524 506h4v2h-4zM628 506h2v2h-2zM738 506h2v2h-2zM742 506h2v2h-2zM336 508h24v2h-24zM362 508h10v2h-10zM376 508h6v2h-6zM390 508h4v2h-4zM408 508h26v2h-26zM440 508h20v2h-20zM468 508h2v2h-2zM472 508h12v2h-12zM512 508h4v2h-4zM520 508h8v2h-8zM532 508h4v2h-4zM738 508h4v2h-4zM352 510h10v2h-10zM368 510h2v2h-2zM372 510h10v2h-10zM388 510h4v2h-4zM398 510h2v2h-2zM418 510h12v2h-12zM434 510h6v2h-6zM442 510h4v2h-4zM448 510h10v2h-10zM466 510h8v2h-8zM476 510h2v2h-2zM480 510h4v2h-4zM510 510h2v2h-2zM518 510h2v2h-2zM526 510h6v2h-6zM556 510h2v2h-2zM738 510h4v2h-4zM360 512h2v2h-2zM366 512h2v2h-2zM370 512h2v2h-2zM374 512h20v2h-20zM398 512h2v2h-2zM420 512h4v2h-4zM426 512h2v2h-2zM430 512h12v2h-12zM444 512h10v2h-10zM464 512h8v2h-8zM474 512h2v2h-2zM480 512h4v2h-4zM516 512h2v2h-2zM528 512h2v2h-2zM670 512h2v2h-2zM736 512h10v2h-10zM370 514h10v2h-10zM382 514h14v2h-14zM402 514h10v2h-10zM416 514h12v2h-12zM430 514h14v2h-14zM448 514h6v2h-6zM460 514h14v2h-14zM476 514h6v2h-6zM730 514h12v2h-12zM382 516h14v2h-14zM398 516h14v2h-14zM416 516h6v2h-6zM428 516h4v2h-4zM434 516h8v2h-8zM444 516h8v2h-8zM456 516h12v2h-12zM472 516h10v2h-10zM714 516h8v2h-8zM732 516h10v2h-10zM392 518h2v2h-2zM398 518h22v2h-22zM424 518h8v2h-8zM434 518h2v2h-2zM438 518h6v2h-6zM448 518h18v2h-18zM472 518h2v2h-2zM478 518h2v2h-2zM552 518h2v2h-2zM668 518h2v2h-2zM712 518h8v2h-8zM732 518h6v2h-6zM402 520h2v2h-2zM406 520h8v2h-8zM420 520h10v2h-10zM432 520h2v2h-2zM440 520h2v2h-2zM450 520h10v2h-10zM464 520h2v2h-2zM472 520h8v2h-8zM644 520h2v2h-2zM668 520h2v2h-2zM704 520h2v2h-2zM712 520h8v2h-8zM732 520h2v2h-2zM420 522h14v2h-14zM438 522h4v2h-4zM446 522h4v2h-4zM452 522h2v2h-2zM456 522h6v2h-6zM464 522h2v2h-2zM470 522h10v2h-10zM522 522h2v2h-2zM670 522h2v2h-2zM698 522h2v2h-2zM710 522h2v2h-2zM716 522h4v2h-4zM730 522h2v2h-2zM426 524h10v2h-10zM438 524h24v2h-24zM472 524h8v2h-8zM558 524h2v2h-2zM648 524h2v2h-2zM696 524h8v2h-8zM728 524h4v2h-4zM442 526h6v2h-6zM456 526h6v2h-6zM472 526h6v2h-6zM520 526h2v2h-2zM642 526h4v2h-4zM694 526h2v2h-2zM702 526h4v2h-4zM728 526h6v2h-6zM470 528h2v2h-2zM554 528h2v2h-2zM688 528h2v2h-2zM694 528h2v2h-2zM700 528h8v2h-8zM726 528h4v2h-4zM732 528h10v2h-10zM520 530h2v2h-2zM648 530h2v2h-2zM692 530h6v2h-6zM702 530h4v2h-4zM734 530h4v2h-4zM740 530h2v2h-2zM520 532h2v2h-2zM688 532h6v2h-6zM696 532h2v2h-2zM702 532h4v2h-4zM514 534h4v2h-4zM686 534h8v2h-8zM704 534h2v2h-2zM716 534h4v2h-4zM674 536h2v2h-2zM688 536h8v2h-8zM702 536h6v2h-6zM716 536h8v2h-8zM726 536h2v2h-2zM730 536h4v2h-4zM656 538h2v2h-2zM666 538h2v2h-2zM686 538h4v2h-4zM698 538h10v2h-10zM716 538h10v2h-10zM728 538h6v2h-6zM738 538h2v2h-2zM530 540h2v2h-2zM688 540h2v2h-2zM698 540h2v2h-2zM704 540h2v2h-2zM712 540h2v2h-2zM716 540h18v2h-18zM736 540h4v2h-4zM530 542h2v2h-2zM686 542h4v2h-4zM696 542h4v2h-4zM706 542h2v2h-2zM710 542h20v2h-20zM554 544h2v2h-2zM558 544h4v2h-4zM684 544h4v2h-4zM694 544h6v2h-6zM706 544h4v2h-4zM718 544h4v2h-4zM724 544h6v2h-6zM654 546h2v2h-2zM678 546h4v2h-4zM690 546h2v2h-2zM700 546h2v2h-2zM706 546h4v2h-4zM726 546h4v2h-4zM558 548h2v2h-2zM700 548h4v2h-4zM708 548h4v2h-4zM724 548h6v2h-6zM598 550h4v2h-4zM698 550h8v2h-8zM708 550h2v2h-2zM726 550h6v2h-6zM734 550h2v2h-2zM596 552h2v2h-2zM694 552h6v2h-6zM720 552h2v2h-2zM726 552h4v2h-4zM732 552h4v2h-4zM594 554h2v2h-2zM600 554h2v2h-2zM680 554h10v2h-10zM692 554h4v2h-4zM698 554h2v2h-2zM708 554h2v2h-2zM720 554h6v2h-6zM728 554h2v2h-2zM732 554h4v2h-4zM658 556h2v2h-2zM678 556h2v2h-2zM682 556h2v2h-2zM688 556h22v2h-22zM720 556h2v2h-2zM732 556h4v2h-4zM656 558h8v2h-8zM676 558h20v2h-20zM700 558h6v2h-6zM708 558h4v2h-4zM724 558h4v2h-4zM732 558h2v2h-2zM660 560h4v2h-4zM674 560h18v2h-18zM702 560h6v2h-6zM724 560h4v2h-4zM732 560h2v2h-2zM658 562h4v2h-4zM670 562h20v2h-20zM702 562h8v2h-8zM724 562h4v2h-4zM670 564h4v2h-4zM676 564h14v2h-14zM702 564h8v2h-8zM724 564h6v2h-6zM656 566h2v2h-2zM668 566h6v2h-6zM680 566h16v2h-16zM702 566h4v2h-4zM668 568h6v2h-6zM678 568h12v2h-12zM694 568h4v2h-4zM702 568h4v2h-4zM710 568h2v2h-2zM714 568h2v2h-2zM670 570h4v2h-4zM678 570h6v2h-6zM694 570h2v2h-2zM704 570h2v2h-2zM710 570h6v2h-6zM728 570h4v2h-4zM694 572h4v2h-4zM710 572h4v2h-4zM724 572h4v2h-4zM696 574h6v2h-6zM722 574h2v2h-2zM730 574h2v2h-2zM702 576h2v2h-2zM718 576h4v2h-4zM726 576h4v2h-4zM718 578h12v2h-12zM724 580h2v2h-2z"/>
<path fill="#0ff" d="M348 108h2v2h-2zM328 112h2v2h-2zM328 114h2v2h-2zM400 114h2v2h-2zM402 116h2v2h-2zM400 118h2v2h-2zM412 118h4v2h-4zM430 118h10v2h-10zM322 120h2v2h-2zM402 120h2v2h-2zM430 120h4v2h-4zM442 120h4v2h-4zM404 122h2v2h-2zM430 122h2v2h-2zM434 122h2v2h-2zM440 122h6v2h-6zM454 122h2v2h-2zM328 124h2v2h-2zM452 124h6v2h-6zM338 126h2v2h-2zM450 126h10v2h-10zM484 126h2v2h-2zM454 128h6v2h-6zM484 128h8v2h-8zM426 130h2v2h-2zM458 130h2v2h-2zM486 130h8v2h-8zM444 132h2v2h-2zM480 132h2v2h-2zM486 132h2v2h-2zM490 132h2v2h-2zM496 132h2v2h-2zM500 132h2v2h-2zM376 134h2v2h-2zM400 134h6v2h-6zM462 134h4v2h-4zM478 134h4v2h-4zM486 134h8v2h-8zM496 134h2v2h-2zM314 136h2v2h-2zM398 136h10v2h-10zM442 136h4v2h-4zM448 136h4v2h-4zM462 136h6v2h-6zM476 136h6v2h-6zM484 136h12v2h-12zM312 138h2v2h-2zM316 138h2v2h-2zM342 138h2v2h-2zM400 138h4v2h-4zM410 138h2v2h-2zM436 138h8v2h-8zM446 138h2v2h-2zM464 138h4v2h-4zM476 138h4v2h-4zM482 138h12v2h-12zM496 138h2v2h-2zM504 138h2v2h-2zM514 138h2v2h-2zM314 140h2v2h-2zM408 140h2v2h-2zM446 140h2v2h-2zM466 140h8v2h-8zM480 140h4v2h-4zM486 140h2v2h-2zM492 140h2v2h-2zM574 140h2v2h-2zM408 142h4v2h-4zM446 142h2v2h-2zM464 142h12v2h-12zM478 142h4v2h-4zM510 142h2v2h-2zM574 142h6v2h-6zM406 144h2v2h-2zM446 144h2v2h-2zM450 144h2v2h-2zM468 144h2v2h-2zM472 144h8v2h-8zM512 144h2v2h-2zM574 144h2v2h-2zM374 146h2v2h-2zM402 146h10v2h-10zM442 146h2v2h-2zM450 146h2v2h-2zM472 146h2v2h-2zM500 146h2v2h-2zM404 148h8v2h-8zM436 148h2v2h-2zM442 148h2v2h-2zM446 148h2v2h-2zM560 148h2v2h-2zM406 150h12v2h-12zM434 150h2v2h-2zM442 150h4v2h-4zM450 150h2v2h-2zM552 150h2v2h-2zM562 150h2v2h-2zM358 152h2v2h-2zM394 152h2v2h-2zM400 152h2v2h-2zM408 152h12v2h-12zM434 152h2v2h-2zM490 152h2v2h-2zM550 152h2v2h-2zM362 154h2v2h-2zM396 154h2v2h-2zM400 154h2v2h-2zM408 154h8v2h-8zM552 154h2v2h-2zM360 156h4v2h-4zM396 156h2v2h-2zM400 156h4v2h-4zM408 156h6v2h-6zM436 156h2v2h-2zM466 156h2v2h-2zM550 156h2v2h-2zM556 156h2v2h-2zM332 158h2v2h-2zM402 158h10v2h-10zM422 158h2v2h-2zM450 158h2v2h-2zM528 158h2v2h-2zM552 158h6v2h-6zM582 158h6v2h-6zM396 160h2v2h-2zM404 160h2v2h-2zM420 160h2v2h-2zM434 160h4v2h-4zM530 160h8v2h-8zM552 160h4v2h-4zM582 160h2v2h-2zM350 162h2v2h-2zM390 162h2v2h-2zM422 162h2v2h-2zM442 162h2v2h-2zM446 162h2v2h-2zM450 162h2v2h-2zM530 162h12v2h-12zM392 164h2v2h-2zM422 164h4v2h-4zM444 164h8v2h-8zM454 164h2v2h-2zM498 164h2v2h-2zM532 164h10v2h-10zM348 166h2v2h-2zM384 166h2v2h-2zM424 166h2v2h-2zM444 166h8v2h-8zM536 166h4v2h-4zM322 168h2v2h-2zM444 168h8v2h-8zM480 168h2v2h-2zM538 168h2v2h-2zM572 168h4v2h-4zM320 170h2v2h-2zM352 170h2v2h-2zM376 170h2v2h-2zM444 170h4v2h-4zM572 170h4v2h-4zM582 170h12v2h-12zM608 170h2v2h-2zM354 172h2v2h-2zM400 172h8v2h-8zM438 172h2v2h-2zM446 172h2v2h-2zM466 172h2v2h-2zM470 172h2v2h-2zM478 172h2v2h-2zM572 172h4v2h-4zM590 172h2v2h-2zM594 172h2v2h-2zM746 172h2v2h-2zM302 174h2v2h-2zM340 174h2v2h-2zM348 174h2v2h-2zM356 174h2v2h-2zM378 174h2v2h-2zM398 174h8v2h-8zM408 174h2v2h-2zM412 174h2v2h-2zM420 174h4v2h-4zM438 174h10v2h-10zM572 174h6v2h-6zM584 174h6v2h-6zM594 174h2v2h-2zM612 174h2v2h-2zM744 174h6v2h-6zM378 176h2v2h-2zM398 176h6v2h-6zM424 176h2v2h-2zM438 176h12v2h-12zM464 176h2v2h-2zM508 176h2v2h-2zM576 176h2v2h-2zM582 176h10v2h-10zM744 176h6v2h-6zM398 178h6v2h-6zM416 178h2v2h-2zM422 178h2v2h-2zM436 178h2v2h-2zM444 178h6v2h-6zM572 178h2v2h-2zM582 178h10v2h-10zM396 180h6v2h-6zM416 180h2v2h-2zM422 180h2v2h-2zM434 180h2v2h-2zM446 180h6v2h-6zM456 180h2v2h-2zM490 180h2v2h-2zM580 180h10v2h-10zM382 182h2v2h-2zM396 182h6v2h-6zM414 182h4v2h-4zM420 182h4v2h-4zM432 182h4v2h-4zM440 182h14v2h-14zM584 182h8v2h-8zM720 182h2v2h-2zM746 182h2v2h-2zM784 182h2v2h-2zM344 184h2v2h-2zM348 184h2v2h-2zM358 184h2v2h-2zM372 184h2v2h-2zM388 184h2v2h-2zM398 184h4v2h-4zM414 184h10v2h-10zM440 184h14v2h-14zM586 184h6v2h-6zM722 184h4v2h-4zM746 184h2v2h-2zM402 186h2v2h-2zM414 186h8v2h-8zM442 186h10v2h-10zM584 186h8v2h-8zM716 186h2v2h-2zM724 186h2v2h-2zM358 188h2v2h-2zM400 188h6v2h-6zM416 188h4v2h-4zM446 188h2v2h-2zM572 188h2v2h-2zM584 188h6v2h-6zM734 188h2v2h-2zM364 190h2v2h-2zM444 190h2v2h-2zM452 190h6v2h-6zM526 190h2v2h-2zM574 190h8v2h-8zM586 190h2v2h-2zM730 190h2v2h-2zM734 190h2v2h-2zM746 190h2v2h-2zM362 192h2v2h-2zM366 192h2v2h-2zM402 192h4v2h-4zM432 192h2v2h-2zM468 192h2v2h-2zM524 192h2v2h-2zM576 192h10v2h-10zM814 192h2v2h-2zM324 194h2v2h-2zM362 194h2v2h-2zM378 194h2v2h-2zM402 194h6v2h-6zM468 194h2v2h-2zM526 194h2v2h-2zM568 194h4v2h-4zM578 194h4v2h-4zM584 194h4v2h-4zM596 194h2v2h-2zM814 194h2v2h-2zM362 196h2v2h-2zM458 196h2v2h-2zM466 196h2v2h-2zM526 196h2v2h-2zM578 196h6v2h-6zM594 196h2v2h-2zM814 196h2v2h-2zM352 198h2v2h-2zM458 198h6v2h-6zM512 198h8v2h-8zM526 198h4v2h-4zM578 198h6v2h-6zM444 200h2v2h-2zM476 200h2v2h-2zM514 200h6v2h-6zM524 200h8v2h-8zM578 200h4v2h-4zM376 202h2v2h-2zM440 202h4v2h-4zM512 202h8v2h-8zM522 202h12v2h-12zM578 202h2v2h-2zM374 204h2v2h-2zM512 204h18v2h-18zM742 204h2v2h-2zM350 206h2v2h-2zM512 206h10v2h-10zM568 206h2v2h-2zM578 206h4v2h-4zM584 206h4v2h-4zM634 206h2v2h-2zM638 206h2v2h-2zM744 206h2v2h-2zM750 206h2v2h-2zM514 208h6v2h-6zM568 208h2v2h-2zM578 208h10v2h-10zM412 210h2v2h-2zM584 210h4v2h-4zM804 210h4v2h-4zM584 212h4v2h-4zM652 212h2v2h-2zM804 212h2v2h-2zM808 212h6v2h-6zM560 214h4v2h-4zM580 214h2v2h-2zM584 214h6v2h-6zM736 214h4v2h-4zM748 214h2v2h-2zM802 214h8v2h-8zM812 214h2v2h-2zM560 216h2v2h-2zM564 216h4v2h-4zM580 216h2v2h-2zM586 216h4v2h-4zM622 216h2v2h-2zM736 216h6v2h-6zM748 216h2v2h-2zM802 216h2v2h-2zM806 216h6v2h-6zM546 218h6v2h-6zM564 218h6v2h-6zM572 218h2v2h-2zM578 218h4v2h-4zM586 218h2v2h-2zM738 218h4v2h-4zM744 218h6v2h-6zM794 218h2v2h-2zM808 218h4v2h-4zM542 220h14v2h-14zM564 220h4v2h-4zM570 220h2v2h-2zM578 220h4v2h-4zM740 220h8v2h-8zM794 220h4v2h-4zM512 222h2v2h-2zM544 222h4v2h-4zM550 222h8v2h-8zM560 222h2v2h-2zM570 222h2v2h-2zM576 222h2v2h-2zM742 222h2v2h-2zM746 222h2v2h-2zM796 222h2v2h-2zM544 224h8v2h-8zM554 224h8v2h-8zM568 224h2v2h-2zM580 224h4v2h-4zM744 224h6v2h-6zM762 224h4v2h-4zM780 224h2v2h-2zM794 224h2v2h-2zM504 226h2v2h-2zM546 226h14v2h-14zM562 226h10v2h-10zM742 226h4v2h-4zM760 226h4v2h-4zM778 226h2v2h-2zM792 226h2v2h-2zM504 228h4v2h-4zM552 228h4v2h-4zM558 228h14v2h-14zM574 228h2v2h-2zM756 228h6v2h-6zM772 228h4v2h-4zM792 228h6v2h-6zM506 230h4v2h-4zM518 230h4v2h-4zM524 230h2v2h-2zM552 230h18v2h-18zM592 230h2v2h-2zM754 230h6v2h-6zM772 230h2v2h-2zM794 230h2v2h-2zM512 232h4v2h-4zM520 232h2v2h-2zM554 232h14v2h-14zM790 232h6v2h-6zM554 234h10v2h-10zM734 234h2v2h-2zM744 234h4v2h-4zM770 234h2v2h-2zM790 234h2v2h-2zM794 234h2v2h-2zM554 236h12v2h-12zM594 236h2v2h-2zM744 236h4v2h-4zM756 236h4v2h-4zM770 236h2v2h-2zM790 236h2v2h-2zM552 238h14v2h-14zM742 238h4v2h-4zM756 238h4v2h-4zM770 238h2v2h-2zM758 240h2v2h-2zM580 242h2v2h-2zM590 242h4v2h-4zM596 242h2v2h-2zM680 242h4v2h-4zM758 242h2v2h-2zM772 242h2v2h-2zM678 244h2v2h-2zM768 244h2v2h-2zM758 246h2v2h-2zM808 246h2v2h-2zM678 248h2v2h-2zM748 248h2v2h-2zM758 248h2v2h-2zM806 248h2v2h-2zM742 250h2v2h-2zM758 250h2v2h-2zM764 250h4v2h-4zM790 250h4v2h-4zM738 252h2v2h-2zM742 252h2v2h-2zM790 252h2v2h-2zM682 254h2v2h-2zM742 254h2v2h-2zM776 254h2v2h-2zM788 254h4v2h-4zM676 256h4v2h-4zM686 256h4v2h-4zM746 256h4v2h-4zM770 256h2v2h-2zM774 256h4v2h-4zM786 256h6v2h-6zM802 256h2v2h-2zM676 258h12v2h-12zM738 258h2v2h-2zM768 258h4v2h-4zM788 258h2v2h-2zM678 260h2v2h-2zM684 260h2v2h-2zM768 260h2v2h-2zM802 260h4v2h-4zM678 262h2v2h-2zM738 262h2v2h-2zM742 262h2v2h-2zM800 262h4v2h-4zM742 264h2v2h-2zM752 264h4v2h-4zM752 266h2v2h-2zM752 268h2v2h-2zM782 268h2v2h-2zM782 270h2v2h-2zM786 270h2v2h-2zM280 280h2v2h-2zM290 284h6v2h-6zM308 284h2v2h-2zM312 284h2v2h-2zM290 286h2v2h-2zM294 286h2v2h-2zM302 286h2v2h-2zM322 286h2v2h-2zM308 288h2v2h-2zM312 288h2v2h-2zM316 288h2v2h-2zM326 288h2v2h-2zM334 288h2v2h-2zM298 290h2v2h-2zM304 290h2v2h-2zM314 290h2v2h-2zM320 290h4v2h-4zM328 290h4v2h-4zM334 290h2v2h-2zM346 290h2v2h-2zM278 292h2v2h-2zM292 292h2v2h-2zM312 292h4v2h-4zM318 292h2v2h-2zM322 292h2v2h-2zM328 292h2v2h-2zM332 292h2v2h-2zM336 292h2v2h-2zM344 292h2v2h-2zM278 294h2v2h-2zM282 294h2v2h-2zM366 294h2v2h-2zM298 296h2v2h-2zM308 296h4v2h-4zM282 298h2v2h-2zM286 298h2v2h-2zM304 298h2v2h-2zM316 298h2v2h-2zM326 298h2v2h-2zM356 298h2v2h-2zM360 298h2v2h-2zM390 298h2v2h-2zM398 298h2v2h-2zM300 300h2v2h-2zM304 300h2v2h-2zM318 300h2v2h-2zM332 300h2v2h-2zM376 300h2v2h-2zM390 300h2v2h-2zM402 300h2v2h-2zM284 302h2v2h-2zM292 302h2v2h-2zM308 302h2v2h-2zM320 302h4v2h-4zM340 302h2v2h-2zM348 302h2v2h-2zM374 302h2v2h-2zM390 302h2v2h-2zM280 304h2v2h-2zM284 304h2v2h-2zM292 304h2v2h-2zM298 304h2v2h-2zM316 304h2v2h-2zM366 304h6v2h-6zM376 304h2v2h-2zM390 304h2v2h-2zM288 306h2v2h-2zM316 306h2v2h-2zM320 306h2v2h-2zM336 306h2v2h-2zM340 306h2v2h-2zM378 306h2v2h-2zM436 306h2v2h-2zM276 308h2v2h-2zM284 308h2v2h-2zM290 308h2v2h-2zM318 308h2v2h-2zM328 308h2v2h-2zM332 308h2v2h-2zM346 308h2v2h-2zM378 308h2v2h-2zM402 308h2v2h-2zM280 310h2v2h-2zM292 310h2v2h-2zM302 310h2v2h-2zM312 310h4v2h-4zM340 310h2v2h-2zM374 310h2v2h-2zM424 310h2v2h-2zM284 312h2v2h-2zM294 312h2v2h-2zM302 312h4v2h-4zM330 312h2v2h-2zM396 312h2v2h-2zM402 312h2v2h-2zM424 312h2v2h-2zM274 314h2v2h-2zM280 314h2v2h-2zM284 314h8v2h-8zM308 314h2v2h-2zM314 314h2v2h-2zM334 314h2v2h-2zM358 314h2v2h-2zM364 314h2v2h-2zM384 314h2v2h-2zM406 314h2v2h-2zM290 316h2v2h-2zM310 316h4v2h-4zM372 316h2v2h-2zM384 316h2v2h-2zM450 316h2v2h-2zM488 316h2v2h-2zM298 318h2v2h-2zM302 318h4v2h-4zM366 318h4v2h-4zM384 318h2v2h-2zM388 318h2v2h-2zM406 318h2v2h-2zM486 318h2v2h-2zM276 320h2v2h-2zM282 320h2v2h-2zM292 320h2v2h-2zM298 320h2v2h-2zM304 320h2v2h-2zM310 320h2v2h-2zM314 320h2v2h-2zM364 320h4v2h-4zM384 320h2v2h-2zM406 320h2v2h-2zM478 320h10v2h-10zM276 322h2v2h-2zM300 322h2v2h-2zM304 322h2v2h-2zM378 322h2v2h-2zM416 322h2v2h-2zM474 322h6v2h-6zM482 322h4v2h-4zM532 322h6v2h-6zM274 324h2v2h-2zM280 324h2v2h-2zM302 324h2v2h-2zM314 324h2v2h-2zM344 324h2v2h-2zM362 324h2v2h-2zM402 324h2v2h-2zM412 324h2v2h-2zM474 324h4v2h-4zM506 324h8v2h-8zM530 324h2v2h-2zM534 324h2v2h-2zM546 324h6v2h-6zM314 326h4v2h-4zM380 326h2v2h-2zM398 326h2v2h-2zM408 326h2v2h-2zM454 326h4v2h-4zM468 326h10v2h-10zM494 326h2v2h-2zM508 326h2v2h-2zM526 326h2v2h-2zM538 326h4v2h-4zM546 326h10v2h-10zM558 326h4v2h-4zM312 328h2v2h-2zM318 328h2v2h-2zM334 328h2v2h-2zM348 328h2v2h-2zM382 328h2v2h-2zM402 328h2v2h-2zM408 328h2v2h-2zM412 328h2v2h-2zM452 328h6v2h-6zM468 328h8v2h-8zM494 328h2v2h-2zM498 328h2v2h-2zM512 328h4v2h-4zM530 328h2v2h-2zM540 328h6v2h-6zM548 328h2v2h-2zM554 328h6v2h-6zM276 330h2v2h-2zM296 330h2v2h-2zM304 330h2v2h-2zM308 330h2v2h-2zM314 330h2v2h-2zM324 330h2v2h-2zM334 330h2v2h-2zM356 330h4v2h-4zM400 330h2v2h-2zM406 330h2v2h-2zM410 330h2v2h-2zM450 330h6v2h-6zM466 330h6v2h-6zM492 330h6v2h-6zM528 330h2v2h-2zM532 330h2v2h-2zM546 330h6v2h-6zM554 330h4v2h-4zM312 332h2v2h-2zM316 332h2v2h-2zM336 332h2v2h-2zM356 332h2v2h-2zM362 332h2v2h-2zM462 332h4v2h-4zM494 332h2v2h-2zM500 332h2v2h-2zM528 332h6v2h-6zM548 332h4v2h-4zM270 334h2v2h-2zM300 334h2v2h-2zM304 334h4v2h-4zM346 334h2v2h-2zM358 334h2v2h-2zM376 334h2v2h-2zM400 334h2v2h-2zM406 334h2v2h-2zM414 334h2v2h-2zM444 334h2v2h-2zM528 334h4v2h-4zM548 334h4v2h-4zM276 336h2v2h-2zM336 336h2v2h-2zM346 336h2v2h-2zM382 336h2v2h-2zM406 336h2v2h-2zM412 336h2v2h-2zM498 336h2v2h-2zM540 336h2v2h-2zM268 338h4v2h-4zM276 338h2v2h-2zM286 338h2v2h-2zM290 338h2v2h-2zM306 338h4v2h-4zM332 338h2v2h-2zM360 338h6v2h-6zM406 338h4v2h-4zM530 338h2v2h-2zM550 338h2v2h-2zM616 338h4v2h-4zM278 340h2v2h-2zM308 340h2v2h-2zM318 340h2v2h-2zM362 340h4v2h-4zM400 340h2v2h-2zM440 340h2v2h-2zM486 340h2v2h-2zM552 340h2v2h-2zM616 340h14v2h-14zM272 342h2v2h-2zM280 342h2v2h-2zM310 342h4v2h-4zM378 342h2v2h-2zM440 342h2v2h-2zM608 342h2v2h-2zM620 342h4v2h-4zM626 342h4v2h-4zM268 344h2v2h-2zM310 344h2v2h-2zM346 344h2v2h-2zM352 344h2v2h-2zM364 344h2v2h-2zM372 344h2v2h-2zM390 344h2v2h-2zM436 344h6v2h-6zM612 344h2v2h-2zM622 344h4v2h-4zM652 344h6v2h-6zM660 344h2v2h-2zM264 346h2v2h-2zM268 346h4v2h-4zM280 346h2v2h-2zM284 346h2v2h-2zM320 346h4v2h-4zM338 346h2v2h-2zM352 346h2v2h-2zM456 346h2v2h-2zM622 346h6v2h-6zM652 346h12v2h-12zM324 348h2v2h-2zM396 348h2v2h-2zM552 348h2v2h-2zM556 348h2v2h-2zM624 348h4v2h-4zM658 348h6v2h-6zM272 350h2v2h-2zM288 350h2v2h-2zM326 350h4v2h-4zM394 350h2v2h-2zM550 350h2v2h-2zM556 350h2v2h-2zM266 352h2v2h-2zM274 352h2v2h-2zM284 352h2v2h-2zM324 352h2v2h-2zM332 352h2v2h-2zM338 352h2v2h-2zM378 352h2v2h-2zM624 352h2v2h-2zM268 354h2v2h-2zM276 354h4v2h-4zM284 354h2v2h-2zM328 354h4v2h-4zM338 354h2v2h-2zM344 354h2v2h-2zM348 354h2v2h-2zM388 354h2v2h-2zM396 354h2v2h-2zM280 356h2v2h-2zM284 356h2v2h-2zM300 356h2v2h-2zM328 356h2v2h-2zM332 356h2v2h-2zM336 356h2v2h-2zM390 356h4v2h-4zM418 356h2v2h-2zM422 356h4v2h-4zM264 358h2v2h-2zM284 358h2v2h-2zM288 358h4v2h-4zM314 358h2v2h-2zM336 358h2v2h-2zM360 358h4v2h-4zM414 358h10v2h-10zM426 358h2v2h-2zM430 358h2v2h-2zM742 358h4v2h-4zM268 360h2v2h-2zM284 360h2v2h-2zM296 360h4v2h-4zM316 360h2v2h-2zM324 360h2v2h-2zM332 360h4v2h-4zM342 360h4v2h-4zM356 360h2v2h-2zM416 360h4v2h-4zM430 360h2v2h-2zM478 360h2v2h-2zM656 360h2v2h-2zM740 360h8v2h-8zM276 362h2v2h-2zM280 362h8v2h-8zM290 362h2v2h-2zM330 362h6v2h-6zM418 362h2v2h-2zM760 362h4v2h-4zM266 364h2v2h-2zM272 364h2v2h-2zM278 364h2v2h-2zM282 364h2v2h-2zM288 364h2v2h-2zM294 364h2v2h-2zM330 364h6v2h-6zM338 364h4v2h-4zM356 364h2v2h-2zM362 364h2v2h-2zM458 364h2v2h-2zM626 364h2v2h-2zM744 364h2v2h-2zM760 364h4v2h-4zM772 364h2v2h-2zM270 366h2v2h-2zM274 366h2v2h-2zM278 366h2v2h-2zM304 366h2v2h-2zM310 366h2v2h-2zM318 366h2v2h-2zM324 366h2v2h-2zM332 366h8v2h-8zM342 366h2v2h-2zM354 366h2v2h-2zM388 366h6v2h-6zM398 366h4v2h-4zM628 366h4v2h-4zM738 366h6v2h-6zM760 366h2v2h-2zM260 368h2v2h-2zM266 368h2v2h-2zM274 368h2v2h-2zM290 368h2v2h-2zM298 368h2v2h-2zM320 368h2v2h-2zM334 368h4v2h-4zM350 368h2v2h-2zM386 368h2v2h-2zM392 368h6v2h-6zM580 368h2v2h-2zM662 368h4v2h-4zM270 370h2v2h-2zM276 370h2v2h-2zM340 370h2v2h-2zM382 370h2v2h-2zM396 370h2v2h-2zM580 370h6v2h-6zM618 370h2v2h-2zM660 370h6v2h-6zM292 372h4v2h-4zM300 372h2v2h-2zM310 372h2v2h-2zM318 372h4v2h-4zM324 372h2v2h-2zM332 372h4v2h-4zM338 372h6v2h-6zM350 372h4v2h-4zM382 372h4v2h-4zM422 372h2v2h-2zM442 372h6v2h-6zM558 372h2v2h-2zM580 372h6v2h-6zM660 372h6v2h-6zM266 374h2v2h-2zM272 374h2v2h-2zM292 374h4v2h-4zM298 374h2v2h-2zM306 374h2v2h-2zM310 374h4v2h-4zM326 374h4v2h-4zM332 374h2v2h-2zM336 374h2v2h-2zM340 374h2v2h-2zM350 374h4v2h-4zM382 374h2v2h-2zM438 374h6v2h-6zM446 374h2v2h-2zM558 374h2v2h-2zM582 374h2v2h-2zM586 374h4v2h-4zM658 374h4v2h-4zM698 374h2v2h-2zM702 374h8v2h-8zM268 376h2v2h-2zM280 376h2v2h-2zM326 376h2v2h-2zM338 376h4v2h-4zM352 376h4v2h-4zM382 376h4v2h-4zM484 376h2v2h-2zM584 376h6v2h-6zM668 376h4v2h-4zM698 376h4v2h-4zM704 376h6v2h-6zM266 378h2v2h-2zM272 378h2v2h-2zM280 378h2v2h-2zM286 378h2v2h-2zM290 378h2v2h-2zM298 378h6v2h-6zM354 378h4v2h-4zM582 378h10v2h-10zM620 378h2v2h-2zM666 378h6v2h-6zM698 378h2v2h-2zM702 378h2v2h-2zM706 378h2v2h-2zM262 380h2v2h-2zM268 380h4v2h-4zM278 380h4v2h-4zM284 380h2v2h-2zM300 380h2v2h-2zM304 380h6v2h-6zM322 380h2v2h-2zM356 380h2v2h-2zM384 380h4v2h-4zM584 380h8v2h-8zM620 380h2v2h-2zM626 380h2v2h-2zM666 380h4v2h-4zM688 380h2v2h-2zM698 380h2v2h-2zM262 382h2v2h-2zM266 382h2v2h-2zM282 382h2v2h-2zM308 382h2v2h-2zM322 382h2v2h-2zM366 382h4v2h-4zM380 382h12v2h-12zM420 382h4v2h-4zM584 382h4v2h-4zM614 382h6v2h-6zM622 382h8v2h-8zM674 382h2v2h-2zM700 382h4v2h-4zM764 382h10v2h-10zM258 384h2v2h-2zM268 384h2v2h-2zM274 384h2v2h-2zM296 384h2v2h-2zM324 384h2v2h-2zM364 384h4v2h-4zM370 384h2v2h-2zM378 384h2v2h-2zM382 384h2v2h-2zM392 384h2v2h-2zM418 384h8v2h-8zM622 384h6v2h-6zM664 384h2v2h-2zM764 384h4v2h-4zM770 384h4v2h-4zM298 386h2v2h-2zM308 386h2v2h-2zM312 386h2v2h-2zM318 386h2v2h-2zM366 386h8v2h-8zM388 386h8v2h-8zM418 386h4v2h-4zM586 386h4v2h-4zM652 386h2v2h-2zM660 386h2v2h-2zM664 386h2v2h-2zM674 386h2v2h-2zM766 386h2v2h-2zM266 388h2v2h-2zM270 388h4v2h-4zM308 388h2v2h-2zM366 388h10v2h-10zM378 388h2v2h-2zM384 388h10v2h-10zM412 388h4v2h-4zM588 388h2v2h-2zM652 388h2v2h-2zM672 388h8v2h-8zM688 388h2v2h-2zM770 388h4v2h-4zM270 390h2v2h-2zM288 390h2v2h-2zM312 390h2v2h-2zM374 390h14v2h-14zM560 390h2v2h-2zM652 390h2v2h-2zM674 390h6v2h-6zM744 390h2v2h-2zM268 392h6v2h-6zM310 392h4v2h-4zM374 392h14v2h-14zM560 392h4v2h-4zM672 392h4v2h-4zM740 392h6v2h-6zM264 394h2v2h-2zM268 394h4v2h-4zM306 394h2v2h-2zM310 394h2v2h-2zM384 394h2v2h-2zM390 394h6v2h-6zM562 394h2v2h-2zM576 394h4v2h-4zM740 394h2v2h-2zM754 394h2v2h-2zM266 396h2v2h-2zM306 396h2v2h-2zM390 396h2v2h-2zM562 396h2v2h-2zM576 396h10v2h-10zM590 396h2v2h-2zM696 396h2v2h-2zM732 396h10v2h-10zM752 396h2v2h-2zM760 396h2v2h-2zM262 398h6v2h-6zM286 398h2v2h-2zM296 398h2v2h-2zM432 398h4v2h-4zM562 398h2v2h-2zM578 398h8v2h-8zM588 398h4v2h-4zM696 398h2v2h-2zM732 398h2v2h-2zM736 398h2v2h-2zM740 398h2v2h-2zM752 398h2v2h-2zM260 400h2v2h-2zM276 400h8v2h-8zM286 400h2v2h-2zM290 400h2v2h-2zM586 400h8v2h-8zM692 400h2v2h-2zM728 400h2v2h-2zM732 400h10v2h-10zM760 400h2v2h-2zM260 402h2v2h-2zM264 402h2v2h-2zM276 402h2v2h-2zM280 402h2v2h-2zM286 402h2v2h-2zM312 402h2v2h-2zM356 402h2v2h-2zM582 402h2v2h-2zM586 402h10v2h-10zM634 402h6v2h-6zM728 402h4v2h-4zM760 402h10v2h-10zM256 404h2v2h-2zM270 404h4v2h-4zM586 404h8v2h-8zM634 404h6v2h-6zM762 404h8v2h-8zM252 406h4v2h-4zM272 406h2v2h-2zM282 406h2v2h-2zM588 406h4v2h-4zM766 406h2v2h-2zM250 408h2v2h-2zM254 408h2v2h-2zM282 408h2v2h-2zM288 408h2v2h-2zM592 408h2v2h-2zM740 408h2v2h-2zM762 408h6v2h-6zM252 410h2v2h-2zM256 410h2v2h-2zM276 410h2v2h-2zM576 410h2v2h-2zM274 412h2v2h-2zM290 412h2v2h-2zM300 412h2v2h-2zM366 412h4v2h-4zM442 412h4v2h-4zM556 412h2v2h-2zM742 412h2v2h-2zM756 412h6v2h-6zM248 414h2v2h-2zM260 414h2v2h-2zM284 414h2v2h-2zM296 414h2v2h-2zM364 414h2v2h-2zM418 414h2v2h-2zM422 414h4v2h-4zM442 414h2v2h-2zM556 414h2v2h-2zM576 414h4v2h-4zM582 414h2v2h-2zM604 414h2v2h-2zM740 414h2v2h-2zM760 414h4v2h-4zM254 416h2v2h-2zM270 416h2v2h-2zM274 416h2v2h-2zM278 416h2v2h-2zM282 416h2v2h-2zM296 416h2v2h-2zM304 416h4v2h-4zM362 416h2v2h-2zM412 416h2v2h-2zM420 416h4v2h-4zM450 416h2v2h-2zM562 416h4v2h-4zM576 416h4v2h-4zM604 416h2v2h-2zM608 416h2v2h-2zM664 416h6v2h-6zM736 416h6v2h-6zM260 418h2v2h-2zM264 418h2v2h-2zM272 418h2v2h-2zM294 418h2v2h-2zM392 418h2v2h-2zM408 418h2v2h-2zM422 418h4v2h-4zM450 418h2v2h-2zM454 418h2v2h-2zM460 418h4v2h-4zM560 418h8v2h-8zM578 418h2v2h-2zM602 418h2v2h-2zM606 418h2v2h-2zM664 418h8v2h-8zM246 420h2v2h-2zM260 420h4v2h-4zM274 420h2v2h-2zM306 420h2v2h-2zM422 420h2v2h-2zM452 420h12v2h-12zM562 420h6v2h-6zM606 420h2v2h-2zM666 420h6v2h-6zM248 422h4v2h-4zM262 422h2v2h-2zM266 422h4v2h-4zM296 422h2v2h-2zM462 422h2v2h-2zM562 422h6v2h-6zM606 422h2v2h-2zM254 424h4v2h-4zM260 424h2v2h-2zM266 424h2v2h-2zM292 424h2v2h-2zM416 424h2v2h-2zM442 424h4v2h-4zM498 424h2v2h-2zM566 424h2v2h-2zM570 424h2v2h-2zM246 426h6v2h-6zM256 426h4v2h-4zM272 426h2v2h-2zM286 426h2v2h-2zM306 426h4v2h-4zM440 426h6v2h-6zM498 426h2v2h-2zM562 426h6v2h-6zM596 426h2v2h-2zM740 426h8v2h-8zM250 428h2v2h-2zM284 428h2v2h-2zM306 428h4v2h-4zM442 428h2v2h-2zM480 428h2v2h-2zM492 428h2v2h-2zM496 428h2v2h-2zM558 428h12v2h-12zM574 428h2v2h-2zM590 428h2v2h-2zM596 428h2v2h-2zM244 430h2v2h-2zM248 430h2v2h-2zM252 430h6v2h-6zM266 430h2v2h-2zM292 430h2v2h-2zM394 430h2v2h-2zM426 430h2v2h-2zM476 430h6v2h-6zM506 430h4v2h-4zM556 430h8v2h-8zM574 430h2v2h-2zM596 430h2v2h-2zM754 430h2v2h-2zM244 432h4v2h-4zM282 432h2v2h-2zM288 432h2v2h-2zM304 432h2v2h-2zM374 432h2v2h-2zM390 432h6v2h-6zM426 432h4v2h-4zM496 432h6v2h-6zM596 432h4v2h-4zM754 432h4v2h-4zM244 434h2v2h-2zM254 434h2v2h-2zM266 434h2v2h-2zM300 434h8v2h-8zM370 434h8v2h-8zM392 434h2v2h-2zM400 434h4v2h-4zM428 434h2v2h-2zM446 434h2v2h-2zM500 434h2v2h-2zM514 434h2v2h-2zM574 434h2v2h-2zM588 434h2v2h-2zM640 434h2v2h-2zM678 434h2v2h-2zM750 434h2v2h-2zM754 434h4v2h-4zM760 434h4v2h-4zM244 436h2v2h-2zM252 436h2v2h-2zM304 436h8v2h-8zM368 436h2v2h-2zM390 436h2v2h-2zM394 436h2v2h-2zM398 436h4v2h-4zM424 436h4v2h-4zM440 436h2v2h-2zM446 436h2v2h-2zM452 436h2v2h-2zM570 436h4v2h-4zM586 436h4v2h-4zM630 436h2v2h-2zM748 436h2v2h-2zM760 436h4v2h-4zM244 438h2v2h-2zM302 438h2v2h-2zM390 438h4v2h-4zM438 438h2v2h-2zM442 438h6v2h-6zM570 438h4v2h-4zM640 438h2v2h-2zM746 438h8v2h-8zM762 438h2v2h-2zM242 440h2v2h-2zM246 440h4v2h-4zM302 440h2v2h-2zM388 440h2v2h-2zM392 440h2v2h-2zM406 440h6v2h-6zM454 440h2v2h-2zM502 440h2v2h-2zM572 440h4v2h-4zM580 440h2v2h-2zM616 440h4v2h-4zM640 440h2v2h-2zM670 440h2v2h-2zM748 440h6v2h-6zM242 442h6v2h-6zM250 442h2v2h-2zM268 442h2v2h-2zM280 442h2v2h-2zM294 442h2v2h-2zM388 442h2v2h-2zM452 442h4v2h-4zM574 442h2v2h-2zM578 442h4v2h-4zM616 442h2v2h-2zM620 442h2v2h-2zM628 442h2v2h-2zM750 442h2v2h-2zM244 444h2v2h-2zM260 444h2v2h-2zM292 444h2v2h-2zM352 444h2v2h-2zM428 444h2v2h-2zM452 444h4v2h-4zM498 444h6v2h-6zM570 444h4v2h-4zM576 444h2v2h-2zM584 444h2v2h-2zM616 444h8v2h-8zM626 444h2v2h-2zM396 446h4v2h-4zM406 446h2v2h-2zM410 446h2v2h-2zM422 446h2v2h-2zM426 446h2v2h-2zM430 446h2v2h-2zM434 446h2v2h-2zM448 446h2v2h-2zM494 446h2v2h-2zM502 446h4v2h-4zM568 446h6v2h-6zM576 446h2v2h-2zM600 446h8v2h-8zM616 446h10v2h-10zM632 446h8v2h-8zM292 448h2v2h-2zM302 448h2v2h-2zM398 448h2v2h-2zM402 448h4v2h-4zM410 448h4v2h-4zM422 448h2v2h-2zM426 448h2v2h-2zM490 448h2v2h-2zM494 448h2v2h-2zM570 448h4v2h-4zM598 448h10v2h-10zM618 448h8v2h-8zM632 448h6v2h-6zM640 448h2v2h-2zM318 450h2v2h-2zM352 450h2v2h-2zM406 450h2v2h-2zM410 450h6v2h-6zM422 450h4v2h-4zM490 450h4v2h-4zM568 450h6v2h-6zM578 450h2v2h-2zM634 450h4v2h-4zM256 452h2v2h-2zM348 452h2v2h-2zM352 452h2v2h-2zM358 452h2v2h-2zM378 452h2v2h-2zM400 452h4v2h-4zM416 452h2v2h-2zM566 452h2v2h-2zM570 452h2v2h-2zM576 452h4v2h-4zM248 454h4v2h-4zM278 454h2v2h-2zM288 454h2v2h-2zM300 454h2v2h-2zM348 454h2v2h-2zM352 454h2v2h-2zM360 454h2v2h-2zM378 454h2v2h-2zM400 454h8v2h-8zM412 454h2v2h-2zM434 454h2v2h-2zM564 454h6v2h-6zM580 454h2v2h-2zM296 456h2v2h-2zM300 456h4v2h-4zM344 456h6v2h-6zM400 456h4v2h-4zM410 456h4v2h-4zM432 456h4v2h-4zM566 456h2v2h-2zM570 456h2v2h-2zM576 456h2v2h-2zM580 456h4v2h-4zM592 456h2v2h-2zM298 458h6v2h-6zM346 458h4v2h-4zM356 458h2v2h-2zM398 458h4v2h-4zM410 458h4v2h-4zM490 458h2v2h-2zM494 458h4v2h-4zM542 458h2v2h-2zM564 458h2v2h-2zM580 458h2v2h-2zM592 458h2v2h-2zM288 460h4v2h-4zM298 460h10v2h-10zM346 460h6v2h-6zM354 460h4v2h-4zM362 460h2v2h-2zM382 460h4v2h-4zM398 460h2v2h-2zM412 460h2v2h-2zM482 460h2v2h-2zM490 460h2v2h-2zM494 460h4v2h-4zM594 460h2v2h-2zM296 462h2v2h-2zM324 462h4v2h-4zM356 462h4v2h-4zM382 462h2v2h-2zM428 462h2v2h-2zM434 462h4v2h-4zM566 462h6v2h-6zM592 462h4v2h-4zM292 464h4v2h-4zM304 464h4v2h-4zM326 464h2v2h-2zM348 464h4v2h-4zM428 464h6v2h-6zM436 464h2v2h-2zM440 464h4v2h-4zM482 464h4v2h-4zM570 464h2v2h-2zM594 464h2v2h-2zM288 466h8v2h-8zM300 466h2v2h-2zM306 466h6v2h-6zM318 466h2v2h-2zM352 466h2v2h-2zM400 466h2v2h-2zM404 466h6v2h-6zM430 466h2v2h-2zM434 466h2v2h-2zM438 466h2v2h-2zM442 466h2v2h-2zM494 466h4v2h-4zM502 466h4v2h-4zM568 466h4v2h-4zM590 466h6v2h-6zM284 468h2v2h-2zM288 468h6v2h-6zM306 468h2v2h-2zM310 468h4v2h-4zM318 468h4v2h-4zM398 468h10v2h-10zM410 468h2v2h-2zM418 468h4v2h-4zM432 468h2v2h-2zM446 468h10v2h-10zM492 468h14v2h-14zM566 468h2v2h-2zM310 470h2v2h-2zM404 470h10v2h-10zM416 470h2v2h-2zM420 470h2v2h-2zM446 470h6v2h-6zM460 470h2v2h-2zM492 470h2v2h-2zM498 470h4v2h-4zM542 470h2v2h-2zM554 470h2v2h-2zM306 472h2v2h-2zM412 472h2v2h-2zM416 472h4v2h-4zM446 472h6v2h-6zM454 472h10v2h-10zM492 472h8v2h-8zM538 472h2v2h-2zM298 474h2v2h-2zM304 474h2v2h-2zM328 474h4v2h-4zM334 474h4v2h-4zM410 474h4v2h-4zM418 474h2v2h-2zM438 474h30v2h-30zM480 474h4v2h-4zM490 474h8v2h-8zM504 474h2v2h-2zM542 474h2v2h-2zM298 476h4v2h-4zM304 476h2v2h-2zM308 476h2v2h-2zM326 476h6v2h-6zM346 476h2v2h-2zM376 476h4v2h-4zM410 476h10v2h-10zM438 476h24v2h-24zM468 476h2v2h-2zM482 476h4v2h-4zM488 476h6v2h-6zM298 478h6v2h-6zM316 478h6v2h-6zM344 478h2v2h-2zM412 478h4v2h-4zM426 478h2v2h-2zM436 478h2v2h-2zM440 478h4v2h-4zM456 478h4v2h-4zM466 478h6v2h-6zM508 478h2v2h-2zM294 480h2v2h-2zM300 480h4v2h-4zM308 480h12v2h-12zM348 480h8v2h-8zM360 480h2v2h-2zM390 480h8v2h-8zM426 480h2v2h-2zM436 480h6v2h-6zM466 480h4v2h-4zM506 480h4v2h-4zM556 480h2v2h-2zM300 482h4v2h-4zM308 482h8v2h-8zM350 482h2v2h-2zM392 482h8v2h-8zM418 482h2v2h-2zM438 482h2v2h-2zM466 482h2v2h-2zM268 484h2v2h-2zM272 484h2v2h-2zM294 484h2v2h-2zM300 484h2v2h-2zM306 484h12v2h-12zM362 484h2v2h-2zM418 484h2v2h-2zM476 484h4v2h-4zM482 484h2v2h-2zM270 486h6v2h-6zM282 486h2v2h-2zM298 486h2v2h-2zM306 486h6v2h-6zM316 486h2v2h-2zM362 486h2v2h-2zM392 486h2v2h-2zM416 486h4v2h-4zM476 486h4v2h-4zM482 486h8v2h-8zM622 486h2v2h-2zM258 488h2v2h-2zM266 488h2v2h-2zM270 488h2v2h-2zM274 488h8v2h-8zM294 488h4v2h-4zM304 488h16v2h-16zM416 488h4v2h-4zM426 488h2v2h-2zM440 488h2v2h-2zM472 488h6v2h-6zM484 488h6v2h-6zM642 488h4v2h-4zM268 490h6v2h-6zM276 490h4v2h-4zM292 490h2v2h-2zM302 490h20v2h-20zM384 490h2v2h-2zM410 490h2v2h-2zM414 490h6v2h-6zM426 490h2v2h-2zM434 490h8v2h-8zM458 490h6v2h-6zM474 490h4v2h-4zM490 490h6v2h-6zM270 492h6v2h-6zM302 492h18v2h-18zM382 492h2v2h-2zM406 492h14v2h-14zM426 492h2v2h-2zM434 492h4v2h-4zM450 492h2v2h-2zM454 492h6v2h-6zM472 492h2v2h-2zM478 492h2v2h-2zM492 492h2v2h-2zM500 492h2v2h-2zM258 494h2v2h-2zM266 494h4v2h-4zM272 494h2v2h-2zM276 494h2v2h-2zM280 494h2v2h-2zM300 494h2v2h-2zM304 494h10v2h-10zM382 494h2v2h-2zM404 494h2v2h-2zM412 494h6v2h-6zM424 494h6v2h-6zM434 494h6v2h-6zM450 494h4v2h-4zM456 494h6v2h-6zM472 494h2v2h-2zM476 494h2v2h-2zM492 494h4v2h-4zM554 494h2v2h-2zM270 496h4v2h-4zM278 496h2v2h-2zM294 496h2v2h-2zM298 496h2v2h-2zM302 496h2v2h-2zM400 496h6v2h-6zM412 496h4v2h-4zM418 496h12v2h-12zM434 496h6v2h-6zM452 496h2v2h-2zM456 496h4v2h-4zM470 496h4v2h-4zM490 496h4v2h-4zM294 498h4v2h-4zM304 498h4v2h-4zM396 498h4v2h-4zM402 498h18v2h-18zM422 498h8v2h-8zM476 498h2v2h-2zM534 498h2v2h-2zM684 498h2v2h-2zM294 500h6v2h-6zM302 500h6v2h-6zM318 500h4v2h-4zM338 500h4v2h-4zM396 500h20v2h-20zM486 500h2v2h-2zM544 500h2v2h-2zM738 500h8v2h-8zM306 502h2v2h-2zM338 502h4v2h-4zM398 502h16v2h-16zM436 502h6v2h-6zM458 502h2v2h-2zM518 502h2v2h-2zM536 502h2v2h-2zM542 502h2v2h-2zM740 502h4v2h-4zM398 504h12v2h-12zM434 504h6v2h-6zM456 504h6v2h-6zM516 504h6v2h-6zM738 504h4v2h-4zM396 506h12v2h-12zM434 506h6v2h-6zM456 506h6v2h-6zM516 506h6v2h-6zM542 506h2v2h-2zM740 506h2v2h-2zM394 508h14v2h-14zM436 508h4v2h-4zM460 508h4v2h-4zM516 508h2v2h-2zM540 508h2v2h-2zM392 510h6v2h-6zM400 510h18v2h-18zM430 510h2v2h-2zM462 510h2v2h-2zM512 510h6v2h-6zM394 512h2v2h-2zM402 512h18v2h-18zM428 512h2v2h-2zM454 512h6v2h-6zM462 512h2v2h-2zM512 512h2v2h-2zM530 512h6v2h-6zM412 514h4v2h-4zM454 514h6v2h-6zM474 514h2v2h-2zM482 514h2v2h-2zM528 514h10v2h-10zM670 514h4v2h-4zM412 516h4v2h-4zM452 516h4v2h-4zM528 516h6v2h-6zM670 516h4v2h-4zM694 516h2v2h-2zM444 518h4v2h-4zM528 518h2v2h-2zM650 518h2v2h-2zM670 518h2v2h-2zM740 518h4v2h-4zM442 520h8v2h-8zM460 520h4v2h-4zM486 520h4v2h-4zM520 520h4v2h-4zM528 520h2v2h-2zM532 520h4v2h-4zM640 520h4v2h-4zM646 520h4v2h-4zM670 520h2v2h-2zM738 520h6v2h-6zM442 522h4v2h-4zM466 522h2v2h-2zM640 522h10v2h-10zM734 522h10v2h-10zM466 524h2v2h-2zM636 524h2v2h-2zM642 524h6v2h-6zM740 524h2v2h-2zM494 526h6v2h-6zM512 526h2v2h-2zM554 526h2v2h-2zM734 526h8v2h-8zM474 528h2v2h-2zM492 528h2v2h-2zM514 528h4v2h-4zM520 528h2v2h-2zM538 528h2v2h-2zM548 528h2v2h-2zM556 528h2v2h-2zM468 530h2v2h-2zM478 530h2v2h-2zM490 530h4v2h-4zM504 530h2v2h-2zM512 530h2v2h-2zM518 530h2v2h-2zM546 530h2v2h-2zM550 530h2v2h-2zM556 530h4v2h-4zM472 532h2v2h-2zM478 532h4v2h-4zM484 532h2v2h-2zM502 532h2v2h-2zM506 532h2v2h-2zM512 532h2v2h-2zM516 532h2v2h-2zM550 532h4v2h-4zM646 532h2v2h-2zM650 532h2v2h-2zM736 532h2v2h-2zM478 534h6v2h-6zM504 534h6v2h-6zM512 534h2v2h-2zM518 534h4v2h-4zM558 534h6v2h-6zM644 534h8v2h-8zM668 534h2v2h-2zM738 534h2v2h-2zM510 536h4v2h-4zM518 536h2v2h-2zM560 536h6v2h-6zM642 536h12v2h-12zM668 536h2v2h-2zM734 536h6v2h-6zM558 538h4v2h-4zM564 538h2v2h-2zM640 538h14v2h-14zM690 538h6v2h-6zM734 538h4v2h-4zM556 540h2v2h-2zM562 540h6v2h-6zM648 540h8v2h-8zM690 540h2v2h-2zM694 540h2v2h-2zM700 540h4v2h-4zM556 542h2v2h-2zM564 542h2v2h-2zM568 542h2v2h-2zM648 542h2v2h-2zM652 542h2v2h-2zM690 542h6v2h-6zM700 542h6v2h-6zM564 544h2v2h-2zM688 544h4v2h-4zM700 544h6v2h-6zM716 544h2v2h-2zM562 546h2v2h-2zM684 546h6v2h-6zM702 546h4v2h-4zM716 546h2v2h-2zM554 548h4v2h-4zM654 548h4v2h-4zM680 548h2v2h-2zM684 548h4v2h-4zM704 548h2v2h-2zM656 550h2v2h-2zM678 550h6v2h-6zM678 552h6v2h-6zM700 552h2v2h-2zM656 554h2v2h-2zM650 556h2v2h-2zM654 556h2v2h-2zM654 558h2v2h-2zM650 560h2v2h-2zM654 560h6v2h-6zM656 562h2v2h-2zM656 564h2v2h-2zM706 566h2v2h-2zM706 568h2v2h-2zM684 570h4v2h-4zM680 572h6v2h-6zM692 574h2v2h-2zM726 580h4v2h-4z"/>
</g>
<g clip-path="url(#ax)">
<path fill="none" stroke="#808080" stroke-width="1.1" stroke-linejoin="round" d="M200.9 184.4 L199.4 186.7 L198.6 189.8 L200.9 196.0 L205.6 199.1 M189.5 193.0 L189.8 200.0 L189.3 210.0 L189.8 220.7 M189.3 106.2 L199.4 109.3 L206.3 102.3 M197.5 562.2 L197.8 566.1 L196.3 569.0 L198.4 571.7 L193.9 575.6 L196.0 578.0 L195.4 580.4 L190.7 581.8 L192.1 585.1 L195.4 587.5 L193.6 589.3 L193.3 592.6 M187.0 726.0 L189.4 724.6 L196.6 721.4 L203.1 720.5 L209.5 718.6 L217.5 718.6 L225.6 718.6 L233.6 721.4 L238.4 726.2 L241.7 731.8 L241.7 736.6 L246.5 739.8 L254.5 739.8 L264.2 739.0 L273.8 739.0 L280.2 739.8 L282.7 743.1 L285.9 746.3 L287.0 748.0 M189.4 698.8 L192.6 704.5 L190.2 706.9 M315.6 742.3 L323.7 743.1 L339.7 742.3 L347.8 741.4 L359.8 743.1 L351.0 745.5 L341.3 745.5 L326.9 745.5 L315.6 745.5"/>
<path fill="none" stroke="#808080" stroke-width="1.6" stroke-linejoin="round" d="M307.0 115.5 L301.6 122.4 L295.4 123.2 L290.0 124.8 L286.0 129.4 L279.9 137.2 L276.8 141.8 L278.3 144.9 L273.7 148.0 L272.9 151.1 L276.0 153.4 L276.8 158.8 L279.9 161.9 L283.7 161.1 L285.3 158.8 L286.0 163.5 L283.0 163.5 L279.9 162.7 L275.2 161.9 L272.1 163.5 L267.5 165.0 L266.7 159.6 L265.2 159.6 L264.4 165.8 L256.7 166.6 L248.9 165.8 L242.7 163.8 L233.4 166.6 L224.2 171.2 L221.8 175.1 L224.9 176.6 L224.2 182.0 L221.8 186.7 L214.9 192.9 L208.7 199.1 L205.6 201.4 L202.5 205.3 L202.5 209.9 L196.3 217.6 L190.1 225.4 L187.0 229.0"/>
<path fill="none" stroke="#808080" stroke-width="2.2" stroke-linejoin="round" d="M300.0 122.5 L304.3 119.3 L309.6 111.8 L310.7 116.1 L316.1 116.1 L321.4 115.0 L330.0 112.9 L332.2 110.7 L333.2 106.4 L331.1 104.3 L337.5 106.4 L342.9 107.5 L350.4 106.4 L355.7 104.8 L362.2 102.7 L366.5 103.8 L364.3 106.4 L369.7 107.5 L375.0 107.5 L381.5 108.6 M364.3 109.6 L362.2 109.6 L353.6 113.9 L346.1 119.3 L343.4 123.0 L342.9 130.0 L343.9 134.3 L348.2 138.6 L351.4 139.7 L356.8 136.4 L364.3 130.0 L368.6 124.7 L372.9 121.4 L377.2 120.4 L385.7 118.2 L394.3 116.1 L402.9 113.9 L412.5 111.8 L413.6 109.6 L410.4 107.5 L409.3 104.3 L402.9 103.2 L396.5 103.2 L393.2 102.1 M364.3 109.6 L370.7 110.7 L372.9 112.9 M383.6 107.5 L390.0 106.5 L396.0 108.0 L401.0 107.0"/>
<ellipse cx="211.9" cy="710.9" rx="3.8" ry="6.5" fill="none" stroke="#808080" stroke-width="1"/>
<ellipse cx="192" cy="189" rx="4" ry="3" fill="#808080" transform="rotate(-30 192 189)"/>
<path fill="none" stroke="#828282" stroke-width="2.2" stroke-dasharray="2.2 2.6" d="M187.0 177.0 L193.0 178.3 L199.0 179.6 L205.0 180.8 L211.0 182.0 L217.0 183.2 L223.0 184.4 L229.0 185.5 L235.0 186.6 L241.0 187.7 L247.0 188.8 L253.0 189.8 L259.0 190.9 L265.0 191.8 L271.0 192.8 L277.0 193.8 L283.0 194.7 L289.0 195.6 L295.0 196.5 L301.0 197.3 L307.0 198.1 L313.0 198.9 L319.0 199.7 L325.0 200.5 L331.0 201.2 L337.0 201.9 L343.0 202.6 L349.0 203.3 L355.0 203.9 L361.0 204.5 L367.0 205.1 L373.0 205.7 L379.0 206.2 L385.0 206.7 L391.0 207.2 L397.0 207.7 L403.0 208.1 L409.0 208.5 L415.0 208.9 L421.0 209.3 L427.0 209.7 L433.0 210.0 L439.0 210.3 L445.0 210.5 L451.0 210.8 L457.0 211.0 L463.0 211.2 L469.0 211.4 L475.0 211.6 L481.0 211.7 L487.0 211.8 L493.0 211.9 L499.0 212.0 L505.0 212.0 L511.0 212.0 L517.0 212.0 L523.0 212.0 L529.0 211.9 L535.0 211.8 L541.0 211.7 L547.0 211.6 L553.0 211.4 L559.0 211.2 L565.0 211.0 L571.0 210.8 L577.0 210.5 L583.0 210.3 L589.0 210.0 L595.0 209.7 L601.0 209.3 L607.0 208.9 L613.0 208.5 L619.0 208.1 L625.0 207.7 L631.0 207.2 L637.0 206.7 L643.0 206.2 L649.0 205.7 L655.0 205.1 L661.0 204.5 L667.0 203.9 L673.0 203.3 L679.0 202.6 L685.0 201.9 L691.0 201.2 L697.0 200.5 L703.0 199.7 L709.0 198.9 L715.0 198.1 L721.0 197.3 L727.0 196.5 L733.0 195.6 L739.0 194.7 L745.0 193.8 L751.0 192.8 L757.0 191.8 L763.0 190.9 L769.0 189.8 L775.0 188.8 L781.0 187.7 L787.0 186.6 L793.0 185.5 L799.0 184.4 L805.0 183.2 L811.0 182.0 L817.0 180.8 L823.0 179.6 L829.0 178.3 L835.0 177.0 M187.0 367.0 L193.0 368.1 L199.0 369.2 L205.0 370.2 L211.0 371.3 L217.0 372.3 L223.0 373.3 L229.0 374.3 L235.0 375.2 L241.0 376.2 L247.0 377.1 L253.0 378.0 L259.0 378.8 L265.0 379.7 L271.0 380.5 L277.0 381.3 L283.0 382.1 L289.0 382.9 L295.0 383.7 L301.0 384.4 L307.0 385.1 L313.0 385.8 L319.0 386.5 L325.0 387.1 L331.0 387.7 L337.0 388.3 L343.0 388.9 L349.0 389.5 L355.0 390.0 L361.0 390.6 L367.0 391.1 L373.0 391.6 L379.0 392.0 L385.0 392.5 L391.0 392.9 L397.0 393.3 L403.0 393.7 L409.0 394.0 L415.0 394.4 L421.0 394.7 L427.0 395.0 L433.0 395.3 L439.0 395.5 L445.0 395.8 L451.0 396.0 L457.0 396.2 L463.0 396.3 L469.0 396.5 L475.0 396.6 L481.0 396.7 L487.0 396.8 L493.0 396.9 L499.0 397.0 L505.0 397.0 L511.0 397.0 L517.0 397.0 L523.0 397.0 L529.0 396.9 L535.0 396.8 L541.0 396.7 L547.0 396.6 L553.0 396.5 L559.0 396.3 L565.0 396.2 L571.0 396.0 L577.0 395.8 L583.0 395.5 L589.0 395.3 L595.0 395.0 L601.0 394.7 L607.0 394.4 L613.0 394.0 L619.0 393.7 L625.0 393.3 L631.0 392.9 L637.0 392.5 L643.0 392.0 L649.0 391.6 L655.0 391.1 L661.0 390.6 L667.0 390.0 L673.0 389.5 L679.0 388.9 L685.0 388.3 L691.0 387.7 L697.0 387.1 L703.0 386.5 L709.0 385.8 L715.0 385.1 L721.0 384.4 L727.0 383.7 L733.0 382.9 L739.0 382.1 L745.0 381.3 L751.0 380.5 L757.0 379.7 L763.0 378.8 L769.0 378.0 L775.0 377.1 L781.0 376.2 L787.0 375.2 L793.0 374.3 L799.0 373.3 L805.0 372.3 L811.0 371.3 L817.0 370.2 L823.0 369.2 L829.0 368.1 L835.0 367.0 M187.0 555.0 L193.0 555.8 L199.0 556.5 L205.0 557.3 L211.0 558.0 L217.0 558.8 L223.0 559.5 L229.0 560.2 L235.0 560.8 L241.0 561.5 L247.0 562.2 L253.0 562.8 L259.0 563.4 L265.0 564.0 L271.0 564.6 L277.0 565.2 L283.0 565.7 L289.0 566.3 L295.0 566.8 L301.0 567.3 L307.0 567.9 L313.0 568.3 L319.0 568.8 L325.0 569.3 L331.0 569.7 L337.0 570.2 L343.0 570.6 L349.0 571.0 L355.0 571.4 L361.0 571.7 L367.0 572.1 L373.0 572.4 L379.0 572.8 L385.0 573.1 L391.0 573.4 L397.0 573.7 L403.0 573.9 L409.0 574.2 L415.0 574.4 L421.0 574.7 L427.0 574.9 L433.0 575.1 L439.0 575.2 L445.0 575.4 L451.0 575.6 L457.0 575.7 L463.0 575.8 L469.0 575.9 L475.0 576.0 L481.0 576.1 L487.0 576.2 L493.0 576.2 L499.0 576.3 L505.0 576.3 L511.0 576.3 L517.0 576.3 L523.0 576.3 L529.0 576.2 L535.0 576.2 L541.0 576.1 L547.0 576.0 L553.0 575.9 L559.0 575.8 L565.0 575.7 L571.0 575.6 L577.0 575.4 L583.0 575.2 L589.0 575.1 L595.0 574.9 L601.0 574.7 L607.0 574.4 L613.0 574.2 L619.0 573.9 L625.0 573.7 L631.0 573.4 L637.0 573.1 L643.0 572.8 L649.0 572.4 L655.0 572.1 L661.0 571.7 L667.0 571.4 L673.0 571.0 L679.0 570.6 L685.0 570.2 L691.0 569.7 L697.0 569.3 L703.0 568.8 L709.0 568.3 L715.0 567.9 L721.0 567.3 L727.0 566.8 L733.0 566.3 L739.0 565.7 L745.0 565.2 L751.0 564.6 L757.0 564.0 L763.0 563.4 L769.0 562.8 L775.0 562.2 L781.0 561.5 L787.0 560.8 L793.0 560.2 L799.0 559.5 L805.0 558.8 L811.0 558.0 L817.0 557.3 L823.0 556.5 L829.0 555.8 L835.0 555.0 M187.0 743.5 L191.0 743.8 L195.0 744.0 L199.0 744.3 L203.0 744.5 L207.0 744.8 L211.0 745.0 L215.0 745.3 L219.0 745.5 L223.0 745.7 L227.0 746.0 L231.0 746.2 M789.0 746.3 L793.0 746.1 L797.0 745.9 L801.0 745.6 L805.0 745.4 L809.0 745.1 L813.0 744.9 L817.0 744.6 L821.0 744.4 L825.0 744.1 L829.0 743.9 L833.0 743.6 M296.2 99.0 L296.2 98.7 L296.5 97.2 L296.7 95.7 L296.8 95.3 L296.4 97.5 L295.4 103.2 L293.8 111.8 L291.9 122.1 L289.5 134.8 L286.7 150.6 L283.4 170.3 L279.6 194.5 L274.8 226.6 L269.1 266.8 L262.8 310.9 L256.7 354.5 L251.1 393.6 L246.8 424.0 L243.8 444.3 L241.9 457.7 L240.5 466.6 L239.5 473.3 L238.5 480.2 L237.1 489.6 L235.5 501.1 L233.8 512.7 L232.2 524.5 L230.5 536.7 L228.9 549.2 L227.3 562.3 L225.8 576.0 L224.3 590.2 L222.8 604.9 L221.4 619.9 L219.9 635.1 L218.3 650.5 L216.6 667.3 L214.6 685.8 L212.7 704.5 L210.8 722.1 L209.2 737.0 L208.1 747.8 L207.5 753.7 L207.3 755.6 L207.4 754.8 L207.6 752.8 L207.8 750.7 L207.9 750.0 M428.4 99.0 L428.4 98.5 L428.4 96.4 L428.5 94.3 L428.5 93.8 L428.3 96.3 L427.8 103.4 L426.9 116.6 L425.7 135.0 L424.4 156.5 L422.9 178.9 L421.6 200.0 L420.5 217.6 L419.8 229.7 L419.3 237.5 L419.0 244.0 L418.6 252.2 L417.9 265.1 L416.7 285.5 L414.9 315.1 L412.7 351.7 L410.2 393.0 L407.6 436.5 L405.1 479.7 L403.0 520.4 L401.1 561.4 L399.3 605.2 L397.5 648.8 L396.0 689.1 L394.8 723.2 L393.8 748.0 L393.3 761.4 L393.1 765.4 L393.2 763.1 L393.4 757.7 L393.6 752.3 L393.7 750.0 M557.4 99.0 L557.4 97.7 L557.2 93.8 L557.1 90.0 L557.0 88.6 L557.2 92.2 L557.6 103.4 L558.4 124.3 L559.5 153.3 L560.7 187.4 L562.1 223.2 L563.3 257.8 L564.4 287.8 L565.3 313.3 L566.1 336.7 L566.8 358.8 L567.5 380.2 L568.1 401.7 L568.8 424.0 L569.5 446.4 L570.1 468.3 L570.7 490.2 L571.3 512.8 L572.0 536.6 L572.6 562.3 L573.3 592.3 L574.1 626.7 L574.9 662.3 L575.6 696.0 L576.2 724.8 L576.7 745.5 L576.9 756.6 L577.0 760.2 L577.0 758.9 L576.9 755.1 L576.8 751.3 L576.8 750.0 M688.8 99.0 L688.8 98.9 L688.6 97.6 L688.4 96.3 L688.4 96.3 L688.8 98.7 L689.6 104.8 L691.0 114.7 L692.7 127.5 L694.8 142.8 L697.2 160.1 L699.7 179.2 L702.5 199.7 L705.5 221.7 L708.8 245.7 L712.4 271.3 L716.0 298.6 L719.7 327.3 L723.4 357.2 L727.1 389.3 L730.9 424.0 L734.8 460.1 L738.6 496.5 L742.3 532.1 L745.6 565.7 L748.8 599.2 L751.9 633.9 L754.9 667.7 L757.5 698.8 L759.7 725.0 L761.4 744.4 L762.4 755.4 L762.7 759.1 L762.6 758.0 L762.3 754.5 L762.0 751.1 L761.9 750.0 M825.9 99.0 L827.0 104.6 L828.2 110.5 L829.3 116.4 L830.4 122.0 L831.4 126.8 L832.1 130.4 L832.6 132.6 L832.8 133.7 L832.9 133.9 L832.9 133.8 L832.9 133.7 L833.0 134.0"/>
</g>
<rect x="878" y="101" width="32" height="161.75" fill="#fff"/>
<rect x="878" y="262.75" width="32" height="161.75" fill="#f00"/>
<rect x="878" y="424.5" width="32" height="161.75" fill="#0ff"/>
<rect x="878" y="586.25" width="32" height="161.75" fill="#0f0"/>
<rect x="878" y="101" width="32" height="647" fill="none" stroke="#000" stroke-width="2"/>
<line x1="911" y1="181.9" x2="918.9" y2="181.9" stroke="#000" stroke-width="1.3"/>
<line x1="911" y1="343.6" x2="918.9" y2="343.6" stroke="#000" stroke-width="1.3"/>
<line x1="911" y1="505.4" x2="918.9" y2="505.4" stroke="#000" stroke-width="1.3"/>
<line x1="911" y1="667.1" x2="918.9" y2="667.1" stroke="#000" stroke-width="1.3"/>
<g font-family="Liberation Sans, sans-serif" fill="#000" style="filter:grayscale(1)">
<text x="258" y="85.8" font-size="16.67" textLength="505" lengthAdjust="spacingAndGlyphs">CSPP CLAVR-x Cloud Mask 2025-11-01 05:14:54-05:16:17</text>
<text x="145" y="180" font-size="13.9" textLength="35" lengthAdjust="spacingAndGlyphs">40°N</text>
<text x="145" y="371" font-size="13.9" textLength="35" lengthAdjust="spacingAndGlyphs">30°N</text>
<text x="145" y="559" font-size="13.9" textLength="35" lengthAdjust="spacingAndGlyphs">20°N</text>
<text x="145" y="747" font-size="13.9" textLength="35" lengthAdjust="spacingAndGlyphs">10°N</text>
<text x="190" y="765" font-size="13.9" textLength="38.4" lengthAdjust="spacingAndGlyphs">70°W</text>
<text x="212" y="765" font-size="13.9" textLength="35" lengthAdjust="spacingAndGlyphs">10°N</text>
<text x="375.5" y="765" font-size="13.9" textLength="38.4" lengthAdjust="spacingAndGlyphs">60°W</text>
<text x="558.5" y="765" font-size="13.9" textLength="38.4" lengthAdjust="spacingAndGlyphs">50°W</text>
<text x="743.5" y="765" font-size="13.9" textLength="38.4" lengthAdjust="spacingAndGlyphs">40°W</text>
<text x="777" y="765" font-size="13.9" textLength="35" lengthAdjust="spacingAndGlyphs">10°N</text>
<text x="928" y="186.5" font-size="13.9" textLength="49" lengthAdjust="spacingAndGlyphs">Cloudy</text>
<text x="927" y="348.5" font-size="13.9" textLength="118.8" lengthAdjust="spacingAndGlyphs">Probably Cloudy</text>
<text x="927" y="510.5" font-size="13.9" textLength="107.3" lengthAdjust="spacingAndGlyphs">Probably Clear</text>
<text x="928" y="672" font-size="13.9" textLength="38" lengthAdjust="spacingAndGlyphs">Clear</text>

</g>
</svg></body></html>
